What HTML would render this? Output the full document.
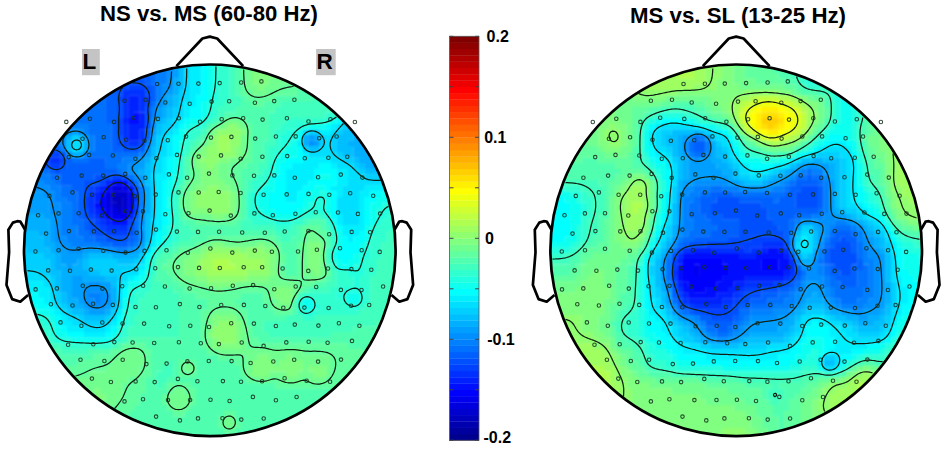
<!DOCTYPE html>
<html><head><meta charset="utf-8"><style>
html,body{margin:0;padding:0;background:#fff;}
svg{display:block;}
text{font-family:"Liberation Sans",sans-serif;font-weight:bold;fill:#000;}
.t{font-size:21.5px;}
.lr{font-size:22.5px;}
.cb{font-size:16px;}
</style></head><body>
<svg width="945" height="449" viewBox="0 0 945 449">
<defs><filter id="bl" x="-5%" y="-5%" width="110%" height="110%"><feGaussianBlur stdDeviation="0.8"/></filter></defs>
<rect width="945" height="449" fill="#fff"/>
<text x="100" y="20.5" class="t" textLength="218" lengthAdjust="spacingAndGlyphs">NS vs. MS (60-80 Hz)</text>
<text x="630" y="23.3" class="t" textLength="216" lengthAdjust="spacingAndGlyphs">MS vs. SL (13-25 Hz)</text>
<rect x="82" y="49" width="17.8" height="26.2" fill="#c4c4c4"/>
<text x="82.5" y="69.4" class="lr">L</text>
<rect x="316.1" y="49" width="19.6" height="26.2" fill="#c4c4c4"/>
<text x="316.5" y="69.4" class="lr">R</text>
<clipPath id="cl"><circle cx="209.8" cy="250.3" r="185.8"/></clipPath>
<g clip-path="url(#cl)"><g filter="url(#bl)"><path fill="#0000bf" d="M111.3 196.8h11.5v5.9h-11.5zM116.9 202.4h5.9v5.9h-5.9z"/>
<path fill="#0000cf" d="M111.3 191.2h17.1v5.9h-17.1zM122.5 196.8h5.9v5.9h-5.9zM111.3 202.4h5.9v5.9h-5.9zM122.5 202.4h5.9v5.9h-5.9zM116.9 208.1h5.9v5.9h-5.9z"/>
<path fill="#0000df" d="M111.3 185.6h11.5v5.9h-11.5zM105.6 191.2h5.9v5.9h-5.9zM105.6 196.8h5.9v5.9h-5.9zM105.6 202.4h5.9v5.9h-5.9zM111.3 208.1h5.9v5.9h-5.9zM122.5 208.1h5.9v5.9h-5.9z"/>
<path fill="#0000ef" d="M122.5 185.6h5.9v5.9h-5.9zM128.2 191.2h5.9v5.9h-5.9zM128.2 196.8h5.9v5.9h-5.9zM128.2 202.4h5.9v5.9h-5.9zM105.6 208.1h5.9v5.9h-5.9zM111.3 213.7h17.1v5.9h-17.1z"/>
<path fill="#0000ff" d="M116.9 179.9h5.9v5.9h-5.9zM105.6 185.6h5.9v5.9h-5.9zM100.0 196.8h5.9v5.9h-5.9zM100.0 202.4h5.9v5.9h-5.9zM128.2 208.1h5.9v5.9h-5.9zM105.6 213.7h5.9v5.9h-5.9z"/>
<path fill="#0010ff" d="M133.8 112.4h5.9v5.9h-5.9zM128.2 118.0h11.5v5.9h-11.5zM111.3 179.9h5.9v5.9h-5.9zM122.5 179.9h5.9v5.9h-5.9zM128.2 185.6h5.9v5.9h-5.9zM100.0 191.2h5.9v5.9h-5.9zM94.4 202.4h5.9v5.9h-5.9zM100.0 208.1h5.9v5.9h-5.9zM111.3 219.3h17.1v5.9h-17.1z"/>
<path fill="#0020ff" d="M128.2 95.5h11.5v5.9h-11.5zM128.2 101.1h11.5v5.9h-11.5zM128.2 106.7h11.5v5.9h-11.5zM128.2 112.4h5.9v5.9h-5.9zM139.4 112.4h5.9v5.9h-5.9zM122.5 118.0h5.9v5.9h-5.9zM139.4 118.0h5.9v5.9h-5.9zM128.2 123.6h17.1v5.9h-17.1zM128.2 129.2h11.5v5.9h-11.5zM128.2 134.9h11.5v5.9h-11.5zM105.6 179.9h5.9v5.9h-5.9zM100.0 185.6h5.9v5.9h-5.9zM94.4 191.2h5.9v5.9h-5.9zM94.4 196.8h5.9v5.9h-5.9zM94.4 208.1h5.9v5.9h-5.9zM100.0 213.7h5.9v5.9h-5.9zM128.2 213.7h5.9v5.9h-5.9zM105.6 219.3h5.9v5.9h-5.9z"/>
<path fill="#0030ff" d="M122.5 89.8h22.8v5.9h-22.8zM122.5 95.5h5.9v5.9h-5.9zM139.4 95.5h5.9v5.9h-5.9zM122.5 101.1h5.9v5.9h-5.9zM139.4 101.1h5.9v5.9h-5.9zM122.5 106.7h5.9v5.9h-5.9zM139.4 106.7h5.9v5.9h-5.9zM122.5 112.4h5.9v5.9h-5.9zM122.5 123.6h5.9v5.9h-5.9zM122.5 129.2h5.9v5.9h-5.9zM139.4 129.2h5.9v5.9h-5.9zM122.5 134.9h5.9v5.9h-5.9zM139.4 134.9h5.9v5.9h-5.9zM128.2 140.5h11.5v5.9h-11.5zM49.3 157.4h11.5v5.9h-11.5zM94.4 185.6h5.9v5.9h-5.9zM88.7 191.2h5.9v5.9h-5.9zM88.7 196.8h5.9v5.9h-5.9zM133.8 196.8h5.9v5.9h-5.9zM88.7 202.4h5.9v5.9h-5.9zM88.7 208.1h5.9v5.9h-5.9zM94.4 213.7h5.9v5.9h-5.9zM100.0 219.3h5.9v5.9h-5.9zM105.6 225.0h22.8v5.9h-22.8z"/>
<path fill="#0040ff" d="M128.2 84.2h17.1v5.9h-17.1zM116.9 95.5h5.9v5.9h-5.9zM145.1 95.5h5.9v5.9h-5.9zM145.1 101.1h5.9v5.9h-5.9zM116.9 118.0h5.9v5.9h-5.9zM116.9 123.6h5.9v5.9h-5.9zM116.9 129.2h5.9v5.9h-5.9zM122.5 140.5h5.9v5.9h-5.9zM139.4 140.5h5.9v5.9h-5.9zM49.3 151.8h11.5v5.9h-11.5zM43.7 157.4h5.9v5.9h-5.9zM60.6 157.4h5.9v5.9h-5.9zM49.3 163.0h11.5v5.9h-11.5zM111.3 174.3h11.5v5.9h-11.5zM100.0 179.9h5.9v5.9h-5.9zM128.2 179.9h5.9v5.9h-5.9zM88.7 185.6h5.9v5.9h-5.9zM133.8 191.2h5.9v5.9h-5.9zM83.1 196.8h5.9v5.9h-5.9zM83.1 202.4h5.9v5.9h-5.9zM133.8 202.4h5.9v5.9h-5.9zM133.8 208.1h5.9v5.9h-5.9zM88.7 213.7h5.9v5.9h-5.9zM94.4 219.3h5.9v5.9h-5.9zM128.2 219.3h5.9v5.9h-5.9zM100.0 225.0h5.9v5.9h-5.9zM105.6 230.6h22.8v5.9h-22.8z"/>
<path fill="#0050ff" d="M105.6 72.9h34.0v5.9h-34.0zM111.3 78.6h34.0v5.9h-34.0zM116.9 84.2h11.5v5.9h-11.5zM145.1 84.2h5.9v5.9h-5.9zM116.9 89.8h5.9v5.9h-5.9zM145.1 89.8h5.9v5.9h-5.9zM116.9 101.1h5.9v5.9h-5.9zM116.9 106.7h5.9v5.9h-5.9zM145.1 106.7h5.9v5.9h-5.9zM116.9 112.4h5.9v5.9h-5.9zM145.1 112.4h5.9v5.9h-5.9zM145.1 118.0h5.9v5.9h-5.9zM145.1 123.6h5.9v5.9h-5.9zM116.9 134.9h5.9v5.9h-5.9zM116.9 140.5h5.9v5.9h-5.9zM49.3 146.1h5.9v5.9h-5.9zM122.5 146.1h17.1v5.9h-17.1zM43.7 151.8h5.9v5.9h-5.9zM60.6 151.8h5.9v5.9h-5.9zM43.7 163.0h5.9v5.9h-5.9zM60.6 163.0h5.9v5.9h-5.9zM55.0 168.7h5.9v5.9h-5.9zM94.4 174.3h17.1v5.9h-17.1zM122.5 174.3h5.9v5.9h-5.9zM83.1 179.9h17.1v5.9h-17.1zM83.1 185.6h5.9v5.9h-5.9zM133.8 185.6h5.9v5.9h-5.9zM83.1 191.2h5.9v5.9h-5.9zM83.1 208.1h5.9v5.9h-5.9zM83.1 213.7h5.9v5.9h-5.9zM88.7 219.3h5.9v5.9h-5.9zM88.7 225.0h11.5v5.9h-11.5zM128.2 225.0h5.9v5.9h-5.9zM94.4 230.6h11.5v5.9h-11.5zM128.2 230.6h5.9v5.9h-5.9zM105.6 236.2h22.8v5.9h-22.8z"/>
<path fill="#0060ff" d="M133.8 67.3h17.1v5.9h-17.1zM139.4 72.9h11.5v5.9h-11.5zM145.1 78.6h5.9v5.9h-5.9zM100.0 84.2h17.1v5.9h-17.1zM150.7 84.2h5.9v5.9h-5.9zM105.6 89.8h11.5v5.9h-11.5zM150.7 89.8h5.9v5.9h-5.9zM105.6 95.5h11.5v5.9h-11.5zM150.7 95.5h5.9v5.9h-5.9zM105.6 101.1h11.5v5.9h-11.5zM105.6 106.7h11.5v5.9h-11.5zM105.6 112.4h11.5v5.9h-11.5zM105.6 118.0h11.5v5.9h-11.5zM111.3 123.6h5.9v5.9h-5.9zM111.3 129.2h5.9v5.9h-5.9zM145.1 129.2h5.9v5.9h-5.9zM111.3 134.9h5.9v5.9h-5.9zM145.1 134.9h5.9v5.9h-5.9zM111.3 140.5h5.9v5.9h-5.9zM43.7 146.1h5.9v5.9h-5.9zM55.0 146.1h5.9v5.9h-5.9zM111.3 146.1h11.5v5.9h-11.5zM139.4 146.1h5.9v5.9h-5.9zM66.2 157.4h5.9v5.9h-5.9zM88.7 157.4h17.1v5.9h-17.1zM66.2 163.0h39.7v5.9h-39.7zM49.3 168.7h5.9v5.9h-5.9zM60.6 168.7h56.6v5.9h-56.6zM60.6 174.3h34.0v5.9h-34.0zM60.6 179.9h22.8v5.9h-22.8zM71.9 185.6h11.5v5.9h-11.5zM77.5 191.2h5.9v5.9h-5.9zM77.5 196.8h5.9v5.9h-5.9zM77.5 202.4h5.9v5.9h-5.9zM77.5 208.1h5.9v5.9h-5.9zM77.5 213.7h5.9v5.9h-5.9zM133.8 213.7h5.9v5.9h-5.9zM83.1 219.3h5.9v5.9h-5.9zM83.1 225.0h5.9v5.9h-5.9zM88.7 230.6h5.9v5.9h-5.9zM94.4 236.2h11.5v5.9h-11.5zM128.2 236.2h5.9v5.9h-5.9zM111.3 241.9h17.1v5.9h-17.1z"/>
<path fill="#0070ff" d="M150.7 67.3h5.9v5.9h-5.9zM150.7 72.9h5.9v5.9h-5.9zM150.7 78.6h5.9v5.9h-5.9zM26.8 89.8h79.1v5.9h-79.1zM21.2 95.5h84.7v5.9h-84.7zM21.2 101.1h84.7v5.9h-84.7zM150.7 101.1h5.9v5.9h-5.9zM21.2 106.7h84.7v5.9h-84.7zM21.2 112.4h84.7v5.9h-84.7zM71.9 118.0h34.0v5.9h-34.0zM88.7 123.6h22.8v5.9h-22.8zM88.7 129.2h22.8v5.9h-22.8zM94.4 134.9h17.1v5.9h-17.1zM21.2 140.5h34.0v5.9h-34.0zM94.4 140.5h17.1v5.9h-17.1zM94.4 146.1h17.1v5.9h-17.1zM88.7 151.8h50.9v5.9h-50.9zM38.1 157.4h5.9v5.9h-5.9zM71.9 157.4h17.1v5.9h-17.1zM105.6 157.4h17.1v5.9h-17.1zM38.1 163.0h5.9v5.9h-5.9zM105.6 163.0h11.5v5.9h-11.5zM43.7 168.7h5.9v5.9h-5.9zM116.9 168.7h5.9v5.9h-5.9zM49.3 174.3h11.5v5.9h-11.5zM128.2 174.3h5.9v5.9h-5.9zM55.0 179.9h5.9v5.9h-5.9zM133.8 179.9h5.9v5.9h-5.9zM60.6 185.6h11.5v5.9h-11.5zM60.6 191.2h17.1v5.9h-17.1zM66.2 196.8h11.5v5.9h-11.5zM71.9 202.4h5.9v5.9h-5.9zM71.9 208.1h5.9v5.9h-5.9zM71.9 213.7h5.9v5.9h-5.9zM71.9 219.3h11.5v5.9h-11.5zM133.8 219.3h5.9v5.9h-5.9zM77.5 225.0h5.9v5.9h-5.9zM133.8 225.0h5.9v5.9h-5.9zM77.5 230.6h11.5v5.9h-11.5zM133.8 230.6h5.9v5.9h-5.9zM83.1 236.2h11.5v5.9h-11.5zM133.8 236.2h5.9v5.9h-5.9zM100.0 241.9h11.5v5.9h-11.5zM128.2 241.9h5.9v5.9h-5.9z"/>
<path fill="#0080ff" d="M156.3 61.7h11.5v5.9h-11.5zM156.3 67.3h11.5v5.9h-11.5zM156.3 72.9h11.5v5.9h-11.5zM156.3 78.6h11.5v5.9h-11.5zM156.3 84.2h5.9v5.9h-5.9zM156.3 89.8h5.9v5.9h-5.9zM156.3 95.5h5.9v5.9h-5.9zM150.7 106.7h5.9v5.9h-5.9zM150.7 112.4h5.9v5.9h-5.9zM60.6 118.0h11.5v5.9h-11.5zM49.3 123.6h39.7v5.9h-39.7zM49.3 129.2h11.5v5.9h-11.5zM83.1 129.2h5.9v5.9h-5.9zM49.3 134.9h11.5v5.9h-11.5zM88.7 134.9h5.9v5.9h-5.9zM55.0 140.5h5.9v5.9h-5.9zM88.7 140.5h5.9v5.9h-5.9zM145.1 140.5h5.9v5.9h-5.9zM60.6 146.1h5.9v5.9h-5.9zM88.7 146.1h5.9v5.9h-5.9zM83.1 151.8h5.9v5.9h-5.9zM139.4 151.8h5.9v5.9h-5.9zM122.5 157.4h11.5v5.9h-11.5zM21.2 163.0h17.1v5.9h-17.1zM116.9 163.0h11.5v5.9h-11.5zM21.2 168.7h22.8v5.9h-22.8zM122.5 168.7h5.9v5.9h-5.9zM38.1 174.3h11.5v5.9h-11.5zM43.7 179.9h11.5v5.9h-11.5zM49.3 185.6h11.5v5.9h-11.5zM139.4 185.6h5.9v5.9h-5.9zM55.0 191.2h5.9v5.9h-5.9zM139.4 191.2h5.9v5.9h-5.9zM55.0 196.8h11.5v5.9h-11.5zM139.4 196.8h5.9v5.9h-5.9zM60.6 202.4h11.5v5.9h-11.5zM139.4 202.4h5.9v5.9h-5.9zM60.6 208.1h11.5v5.9h-11.5zM60.6 213.7h11.5v5.9h-11.5zM60.6 219.3h11.5v5.9h-11.5zM60.6 225.0h17.1v5.9h-17.1zM60.6 230.6h17.1v5.9h-17.1zM66.2 236.2h17.1v5.9h-17.1zM71.9 241.9h28.4v5.9h-28.4zM133.8 241.9h5.9v5.9h-5.9zM116.9 247.5h11.5v5.9h-11.5zM88.7 292.5h11.5v5.9h-11.5zM94.4 298.2h5.9v5.9h-5.9z"/>
<path fill="#008fff" d="M167.6 61.7h5.9v5.9h-5.9zM167.6 67.3h5.9v5.9h-5.9zM167.6 72.9h5.9v5.9h-5.9zM167.6 78.6h5.9v5.9h-5.9zM161.9 84.2h11.5v5.9h-11.5zM161.9 89.8h5.9v5.9h-5.9zM156.3 101.1h5.9v5.9h-5.9zM150.7 118.0h5.9v5.9h-5.9zM150.7 123.6h5.9v5.9h-5.9zM60.6 129.2h11.5v5.9h-11.5zM77.5 129.2h5.9v5.9h-5.9zM60.6 134.9h5.9v5.9h-5.9zM60.6 140.5h5.9v5.9h-5.9zM308.3 140.5h5.9v5.9h-5.9zM145.1 146.1h5.9v5.9h-5.9zM66.2 151.8h5.9v5.9h-5.9zM133.8 157.4h5.9v5.9h-5.9zM128.2 163.0h5.9v5.9h-5.9zM128.2 168.7h5.9v5.9h-5.9zM21.2 174.3h17.1v5.9h-17.1zM133.8 174.3h5.9v5.9h-5.9zM21.2 179.9h22.8v5.9h-22.8zM21.2 185.6h28.4v5.9h-28.4zM43.7 191.2h11.5v5.9h-11.5zM49.3 196.8h5.9v5.9h-5.9zM49.3 202.4h11.5v5.9h-11.5zM49.3 208.1h11.5v5.9h-11.5zM139.4 208.1h5.9v5.9h-5.9zM55.0 213.7h5.9v5.9h-5.9zM139.4 213.7h5.9v5.9h-5.9zM55.0 219.3h5.9v5.9h-5.9zM139.4 219.3h5.9v5.9h-5.9zM55.0 225.0h5.9v5.9h-5.9zM55.0 230.6h5.9v5.9h-5.9zM139.4 230.6h5.9v5.9h-5.9zM55.0 236.2h11.5v5.9h-11.5zM139.4 236.2h5.9v5.9h-5.9zM60.6 241.9h11.5v5.9h-11.5zM66.2 247.5h17.1v5.9h-17.1zM105.6 247.5h11.5v5.9h-11.5zM128.2 247.5h5.9v5.9h-5.9zM88.7 281.3h11.5v5.9h-11.5zM83.1 286.9h22.8v5.9h-22.8zM83.1 292.5h5.9v5.9h-5.9zM100.0 292.5h11.5v5.9h-11.5zM83.1 298.2h11.5v5.9h-11.5zM100.0 298.2h11.5v5.9h-11.5zM88.7 303.8h17.1v5.9h-17.1z"/>
<path fill="#009fff" d="M173.2 61.7h5.9v5.9h-5.9zM173.2 67.3h5.9v5.9h-5.9zM173.2 72.9h5.9v5.9h-5.9zM167.6 89.8h5.9v5.9h-5.9zM161.9 95.5h5.9v5.9h-5.9zM161.9 101.1h5.9v5.9h-5.9zM156.3 106.7h5.9v5.9h-5.9zM156.3 112.4h5.9v5.9h-5.9zM71.9 129.2h5.9v5.9h-5.9zM150.7 129.2h5.9v5.9h-5.9zM83.1 134.9h5.9v5.9h-5.9zM308.3 134.9h5.9v5.9h-5.9zM314.0 140.5h5.9v5.9h-5.9zM370.3 146.1h17.1v5.9h-17.1zM145.1 151.8h5.9v5.9h-5.9zM139.4 157.4h5.9v5.9h-5.9zM133.8 163.0h11.5v5.9h-11.5zM133.8 168.7h5.9v5.9h-5.9zM139.4 174.3h5.9v5.9h-5.9zM139.4 179.9h5.9v5.9h-5.9zM21.2 191.2h22.8v5.9h-22.8zM21.2 196.8h28.4v5.9h-28.4zM21.2 202.4h28.4v5.9h-28.4zM21.2 208.1h28.4v5.9h-28.4zM43.7 213.7h11.5v5.9h-11.5zM49.3 219.3h5.9v5.9h-5.9zM49.3 225.0h5.9v5.9h-5.9zM139.4 225.0h5.9v5.9h-5.9zM49.3 230.6h5.9v5.9h-5.9zM49.3 236.2h5.9v5.9h-5.9zM55.0 241.9h5.9v5.9h-5.9zM139.4 241.9h5.9v5.9h-5.9zM55.0 247.5h11.5v5.9h-11.5zM83.1 247.5h22.8v5.9h-22.8zM133.8 247.5h5.9v5.9h-5.9zM60.6 253.1h22.8v5.9h-22.8zM60.6 258.7h17.1v5.9h-17.1zM66.2 264.4h5.9v5.9h-5.9zM71.9 275.6h11.5v5.9h-11.5zM71.9 281.3h17.1v5.9h-17.1zM100.0 281.3h11.5v5.9h-11.5zM71.9 286.9h11.5v5.9h-11.5zM105.6 286.9h5.9v5.9h-5.9zM71.9 292.5h11.5v5.9h-11.5zM77.5 298.2h5.9v5.9h-5.9zM83.1 303.8h5.9v5.9h-5.9zM105.6 303.8h5.9v5.9h-5.9zM88.7 309.4h17.1v5.9h-17.1z"/>
<path fill="#00afff" d="M173.2 78.6h5.9v5.9h-5.9zM173.2 84.2h5.9v5.9h-5.9zM173.2 89.8h5.9v5.9h-5.9zM167.6 95.5h5.9v5.9h-5.9zM167.6 101.1h5.9v5.9h-5.9zM161.9 106.7h5.9v5.9h-5.9zM161.9 112.4h5.9v5.9h-5.9zM156.3 118.0h5.9v5.9h-5.9zM353.4 129.2h17.1v5.9h-17.1zM66.2 134.9h5.9v5.9h-5.9zM150.7 134.9h5.9v5.9h-5.9zM302.7 134.9h5.9v5.9h-5.9zM314.0 134.9h5.9v5.9h-5.9zM353.4 134.9h17.1v5.9h-17.1zM83.1 140.5h5.9v5.9h-5.9zM150.7 140.5h5.9v5.9h-5.9zM302.7 140.5h5.9v5.9h-5.9zM347.7 140.5h22.8v5.9h-22.8zM83.1 146.1h5.9v5.9h-5.9zM353.4 146.1h17.1v5.9h-17.1zM71.9 151.8h11.5v5.9h-11.5zM353.4 151.8h45.3v5.9h-45.3zM145.1 157.4h5.9v5.9h-5.9zM359.0 157.4h28.4v5.9h-28.4zM364.6 163.0h11.5v5.9h-11.5zM139.4 168.7h5.9v5.9h-5.9zM145.1 185.6h5.9v5.9h-5.9zM145.1 191.2h5.9v5.9h-5.9zM145.1 196.8h5.9v5.9h-5.9zM145.1 202.4h5.9v5.9h-5.9zM145.1 208.1h5.9v5.9h-5.9zM21.2 213.7h22.8v5.9h-22.8zM21.2 219.3h28.4v5.9h-28.4zM21.2 225.0h28.4v5.9h-28.4zM38.1 230.6h11.5v5.9h-11.5zM43.7 236.2h5.9v5.9h-5.9zM43.7 241.9h11.5v5.9h-11.5zM49.3 247.5h5.9v5.9h-5.9zM139.4 247.5h5.9v5.9h-5.9zM55.0 253.1h5.9v5.9h-5.9zM83.1 253.1h5.9v5.9h-5.9zM111.3 253.1h28.4v5.9h-28.4zM55.0 258.7h5.9v5.9h-5.9zM77.5 258.7h5.9v5.9h-5.9zM55.0 264.4h11.5v5.9h-11.5zM71.9 264.4h11.5v5.9h-11.5zM60.6 270.0h28.4v5.9h-28.4zM60.6 275.6h11.5v5.9h-11.5zM83.1 275.6h22.8v5.9h-22.8zM60.6 281.3h11.5v5.9h-11.5zM60.6 286.9h11.5v5.9h-11.5zM111.3 286.9h5.9v5.9h-5.9zM66.2 292.5h5.9v5.9h-5.9zM111.3 292.5h5.9v5.9h-5.9zM66.2 298.2h11.5v5.9h-11.5zM111.3 298.2h5.9v5.9h-5.9zM71.9 303.8h11.5v5.9h-11.5zM83.1 309.4h5.9v5.9h-5.9zM105.6 309.4h5.9v5.9h-5.9z"/>
<path fill="#00bfff" d="M178.8 61.7h5.9v5.9h-5.9zM178.8 67.3h5.9v5.9h-5.9zM178.8 72.9h5.9v5.9h-5.9zM178.8 78.6h5.9v5.9h-5.9zM178.8 84.2h5.9v5.9h-5.9zM173.2 95.5h5.9v5.9h-5.9zM173.2 101.1h5.9v5.9h-5.9zM167.6 106.7h5.9v5.9h-5.9zM167.6 112.4h5.9v5.9h-5.9zM161.9 118.0h5.9v5.9h-5.9zM156.3 123.6h5.9v5.9h-5.9zM347.7 123.6h11.5v5.9h-11.5zM156.3 129.2h5.9v5.9h-5.9zM342.1 129.2h11.5v5.9h-11.5zM77.5 134.9h5.9v5.9h-5.9zM336.5 134.9h17.1v5.9h-17.1zM66.2 140.5h5.9v5.9h-5.9zM336.5 140.5h11.5v5.9h-11.5zM66.2 146.1h5.9v5.9h-5.9zM150.7 146.1h5.9v5.9h-5.9zM308.3 146.1h11.5v5.9h-11.5zM336.5 146.1h17.1v5.9h-17.1zM150.7 151.8h5.9v5.9h-5.9zM342.1 151.8h11.5v5.9h-11.5zM353.4 157.4h5.9v5.9h-5.9zM145.1 163.0h5.9v5.9h-5.9zM359.0 163.0h5.9v5.9h-5.9zM375.9 163.0h22.8v5.9h-22.8zM145.1 168.7h5.9v5.9h-5.9zM364.6 168.7h22.8v5.9h-22.8zM145.1 174.3h5.9v5.9h-5.9zM145.1 179.9h5.9v5.9h-5.9zM145.1 213.7h5.9v5.9h-5.9zM145.1 219.3h5.9v5.9h-5.9zM145.1 225.0h5.9v5.9h-5.9zM21.2 230.6h17.1v5.9h-17.1zM145.1 230.6h5.9v5.9h-5.9zM21.2 236.2h22.8v5.9h-22.8zM145.1 236.2h5.9v5.9h-5.9zM21.2 241.9h22.8v5.9h-22.8zM26.8 247.5h22.8v5.9h-22.8zM43.7 253.1h11.5v5.9h-11.5zM88.7 253.1h22.8v5.9h-22.8zM49.3 258.7h5.9v5.9h-5.9zM83.1 258.7h5.9v5.9h-5.9zM116.9 258.7h17.1v5.9h-17.1zM49.3 264.4h5.9v5.9h-5.9zM83.1 264.4h5.9v5.9h-5.9zM49.3 270.0h11.5v5.9h-11.5zM88.7 270.0h11.5v5.9h-11.5zM55.0 275.6h5.9v5.9h-5.9zM105.6 275.6h11.5v5.9h-11.5zM55.0 281.3h5.9v5.9h-5.9zM111.3 281.3h5.9v5.9h-5.9zM55.0 286.9h5.9v5.9h-5.9zM60.6 292.5h5.9v5.9h-5.9zM60.6 298.2h5.9v5.9h-5.9zM66.2 303.8h5.9v5.9h-5.9zM111.3 303.8h5.9v5.9h-5.9zM71.9 309.4h11.5v5.9h-11.5zM83.1 315.0h22.8v5.9h-22.8z"/>
<path fill="#00cfff" d="M178.8 89.8h5.9v5.9h-5.9zM178.8 95.5h5.9v5.9h-5.9zM173.2 106.7h5.9v5.9h-5.9zM173.2 112.4h5.9v5.9h-5.9zM167.6 118.0h5.9v5.9h-5.9zM347.7 118.0h5.9v5.9h-5.9zM161.9 123.6h11.5v5.9h-11.5zM342.1 123.6h5.9v5.9h-5.9zM161.9 129.2h5.9v5.9h-5.9zM308.3 129.2h11.5v5.9h-11.5zM336.5 129.2h5.9v5.9h-5.9zM71.9 134.9h5.9v5.9h-5.9zM156.3 134.9h5.9v5.9h-5.9zM319.6 134.9h5.9v5.9h-5.9zM330.9 134.9h5.9v5.9h-5.9zM156.3 140.5h5.9v5.9h-5.9zM319.6 140.5h5.9v5.9h-5.9zM330.9 140.5h5.9v5.9h-5.9zM77.5 146.1h5.9v5.9h-5.9zM156.3 146.1h5.9v5.9h-5.9zM302.7 146.1h5.9v5.9h-5.9zM330.9 146.1h5.9v5.9h-5.9zM336.5 151.8h5.9v5.9h-5.9zM150.7 157.4h5.9v5.9h-5.9zM342.1 157.4h11.5v5.9h-11.5zM150.7 163.0h5.9v5.9h-5.9zM353.4 163.0h5.9v5.9h-5.9zM150.7 168.7h5.9v5.9h-5.9zM359.0 168.7h5.9v5.9h-5.9zM364.6 174.3h34.0v5.9h-34.0zM150.7 179.9h5.9v5.9h-5.9zM150.7 185.6h5.9v5.9h-5.9zM150.7 191.2h5.9v5.9h-5.9zM150.7 196.8h5.9v5.9h-5.9zM150.7 202.4h5.9v5.9h-5.9zM150.7 208.1h5.9v5.9h-5.9zM150.7 213.7h5.9v5.9h-5.9zM145.1 241.9h5.9v5.9h-5.9zM21.2 247.5h5.9v5.9h-5.9zM21.2 253.1h22.8v5.9h-22.8zM139.4 253.1h5.9v5.9h-5.9zM21.2 258.7h28.4v5.9h-28.4zM88.7 258.7h28.4v5.9h-28.4zM133.8 258.7h5.9v5.9h-5.9zM21.2 264.4h28.4v5.9h-28.4zM88.7 264.4h45.3v5.9h-45.3zM38.1 270.0h11.5v5.9h-11.5zM100.0 270.0h22.8v5.9h-22.8zM49.3 275.6h5.9v5.9h-5.9zM116.9 275.6h5.9v5.9h-5.9zM49.3 281.3h5.9v5.9h-5.9zM55.0 292.5h5.9v5.9h-5.9zM55.0 298.2h5.9v5.9h-5.9zM60.6 303.8h5.9v5.9h-5.9zM66.2 309.4h5.9v5.9h-5.9zM111.3 309.4h5.9v5.9h-5.9zM77.5 315.0h5.9v5.9h-5.9zM105.6 315.0h5.9v5.9h-5.9zM83.1 320.7h22.8v5.9h-22.8z"/>
<path fill="#00dfff" d="M184.5 61.7h5.9v5.9h-5.9zM184.5 67.3h5.9v5.9h-5.9zM184.5 72.9h5.9v5.9h-5.9zM184.5 78.6h5.9v5.9h-5.9zM184.5 84.2h5.9v5.9h-5.9zM184.5 89.8h5.9v5.9h-5.9zM184.5 95.5h5.9v5.9h-5.9zM178.8 101.1h5.9v5.9h-5.9zM178.8 106.7h5.9v5.9h-5.9zM178.8 112.4h5.9v5.9h-5.9zM173.2 118.0h5.9v5.9h-5.9zM342.1 118.0h5.9v5.9h-5.9zM173.2 123.6h5.9v5.9h-5.9zM336.5 123.6h5.9v5.9h-5.9zM167.6 129.2h5.9v5.9h-5.9zM302.7 129.2h5.9v5.9h-5.9zM330.9 129.2h5.9v5.9h-5.9zM161.9 134.9h5.9v5.9h-5.9zM325.2 134.9h5.9v5.9h-5.9zM71.9 140.5h11.5v5.9h-11.5zM161.9 140.5h5.9v5.9h-5.9zM325.2 140.5h5.9v5.9h-5.9zM71.9 146.1h5.9v5.9h-5.9zM161.9 146.1h5.9v5.9h-5.9zM319.6 146.1h11.5v5.9h-11.5zM156.3 151.8h11.5v5.9h-11.5zM308.3 151.8h28.4v5.9h-28.4zM156.3 157.4h5.9v5.9h-5.9zM330.9 157.4h11.5v5.9h-11.5zM156.3 163.0h5.9v5.9h-5.9zM336.5 163.0h17.1v5.9h-17.1zM156.3 168.7h5.9v5.9h-5.9zM347.7 168.7h11.5v5.9h-11.5zM150.7 174.3h5.9v5.9h-5.9zM347.7 174.3h17.1v5.9h-17.1zM347.7 179.9h50.9v5.9h-50.9zM342.1 185.6h22.8v5.9h-22.8zM342.1 191.2h17.1v5.9h-17.1zM336.5 196.8h22.8v5.9h-22.8zM336.5 202.4h22.8v5.9h-22.8zM336.5 208.1h22.8v5.9h-22.8zM342.1 213.7h17.1v5.9h-17.1zM150.7 219.3h5.9v5.9h-5.9zM342.1 219.3h17.1v5.9h-17.1zM150.7 225.0h5.9v5.9h-5.9zM150.7 230.6h5.9v5.9h-5.9zM145.1 247.5h5.9v5.9h-5.9zM139.4 258.7h5.9v5.9h-5.9zM133.8 264.4h5.9v5.9h-5.9zM21.2 270.0h17.1v5.9h-17.1zM122.5 270.0h17.1v5.9h-17.1zM21.2 275.6h28.4v5.9h-28.4zM122.5 275.6h5.9v5.9h-5.9zM43.7 281.3h5.9v5.9h-5.9zM116.9 281.3h5.9v5.9h-5.9zM49.3 286.9h5.9v5.9h-5.9zM116.9 286.9h5.9v5.9h-5.9zM49.3 292.5h5.9v5.9h-5.9zM116.9 292.5h5.9v5.9h-5.9zM49.3 298.2h5.9v5.9h-5.9zM116.9 298.2h5.9v5.9h-5.9zM55.0 303.8h5.9v5.9h-5.9zM116.9 303.8h5.9v5.9h-5.9zM60.6 309.4h5.9v5.9h-5.9zM66.2 315.0h11.5v5.9h-11.5zM111.3 315.0h5.9v5.9h-5.9zM71.9 320.7h11.5v5.9h-11.5zM105.6 320.7h5.9v5.9h-5.9zM83.1 326.3h22.8v5.9h-22.8z"/>
<path fill="#00efff" d="M190.1 61.7h11.5v5.9h-11.5zM190.1 67.3h11.5v5.9h-11.5zM190.1 72.9h11.5v5.9h-11.5zM190.1 78.6h11.5v5.9h-11.5zM190.1 84.2h11.5v5.9h-11.5zM190.1 89.8h11.5v5.9h-11.5zM190.1 95.5h5.9v5.9h-5.9zM184.5 101.1h11.5v5.9h-11.5zM184.5 106.7h5.9v5.9h-5.9zM184.5 112.4h5.9v5.9h-5.9zM178.8 118.0h5.9v5.9h-5.9zM330.9 123.6h5.9v5.9h-5.9zM173.2 129.2h5.9v5.9h-5.9zM319.6 129.2h11.5v5.9h-11.5zM167.6 134.9h5.9v5.9h-5.9zM167.6 140.5h5.9v5.9h-5.9zM297.1 140.5h5.9v5.9h-5.9zM167.6 146.1h5.9v5.9h-5.9zM167.6 151.8h5.9v5.9h-5.9zM302.7 151.8h5.9v5.9h-5.9zM161.9 157.4h5.9v5.9h-5.9zM302.7 157.4h28.4v5.9h-28.4zM161.9 163.0h5.9v5.9h-5.9zM291.4 163.0h28.4v5.9h-28.4zM330.9 163.0h5.9v5.9h-5.9zM161.9 168.7h5.9v5.9h-5.9zM285.8 168.7h28.4v5.9h-28.4zM336.5 168.7h11.5v5.9h-11.5zM156.3 174.3h11.5v5.9h-11.5zM285.8 174.3h28.4v5.9h-28.4zM336.5 174.3h11.5v5.9h-11.5zM156.3 179.9h5.9v5.9h-5.9zM285.8 179.9h22.8v5.9h-22.8zM336.5 179.9h11.5v5.9h-11.5zM156.3 185.6h5.9v5.9h-5.9zM285.8 185.6h17.1v5.9h-17.1zM330.9 185.6h11.5v5.9h-11.5zM364.6 185.6h34.0v5.9h-34.0zM156.3 191.2h5.9v5.9h-5.9zM285.8 191.2h11.5v5.9h-11.5zM336.5 191.2h5.9v5.9h-5.9zM359.0 191.2h11.5v5.9h-11.5zM156.3 196.8h5.9v5.9h-5.9zM285.8 196.8h11.5v5.9h-11.5zM359.0 196.8h5.9v5.9h-5.9zM156.3 202.4h5.9v5.9h-5.9zM359.0 202.4h5.9v5.9h-5.9zM156.3 208.1h5.9v5.9h-5.9zM359.0 208.1h5.9v5.9h-5.9zM156.3 213.7h5.9v5.9h-5.9zM336.5 213.7h5.9v5.9h-5.9zM359.0 213.7h5.9v5.9h-5.9zM156.3 219.3h5.9v5.9h-5.9zM336.5 219.3h5.9v5.9h-5.9zM359.0 219.3h5.9v5.9h-5.9zM156.3 225.0h5.9v5.9h-5.9zM342.1 225.0h22.8v5.9h-22.8zM342.1 230.6h17.1v5.9h-17.1zM150.7 236.2h5.9v5.9h-5.9zM347.7 236.2h5.9v5.9h-5.9zM150.7 241.9h5.9v5.9h-5.9zM139.4 264.4h5.9v5.9h-5.9zM128.2 275.6h5.9v5.9h-5.9zM21.2 281.3h22.8v5.9h-22.8zM122.5 281.3h5.9v5.9h-5.9zM21.2 286.9h28.4v5.9h-28.4zM38.1 292.5h11.5v5.9h-11.5zM43.7 298.2h5.9v5.9h-5.9zM49.3 303.8h5.9v5.9h-5.9zM55.0 309.4h5.9v5.9h-5.9zM116.9 309.4h5.9v5.9h-5.9zM60.6 315.0h5.9v5.9h-5.9zM60.6 320.7h11.5v5.9h-11.5zM111.3 320.7h5.9v5.9h-5.9zM66.2 326.3h17.1v5.9h-17.1zM105.6 326.3h5.9v5.9h-5.9zM83.1 331.9h22.8v5.9h-22.8z"/>
<path fill="#00ffff" d="M201.4 61.7h5.9v5.9h-5.9zM201.4 67.3h5.9v5.9h-5.9zM201.4 72.9h5.9v5.9h-5.9zM201.4 78.6h5.9v5.9h-5.9zM201.4 84.2h5.9v5.9h-5.9zM201.4 89.8h5.9v5.9h-5.9zM195.7 95.5h11.5v5.9h-11.5zM195.7 101.1h5.9v5.9h-5.9zM190.1 106.7h11.5v5.9h-11.5zM190.1 112.4h11.5v5.9h-11.5zM342.1 112.4h5.9v5.9h-5.9zM184.5 118.0h5.9v5.9h-5.9zM336.5 118.0h5.9v5.9h-5.9zM178.8 123.6h5.9v5.9h-5.9zM325.2 123.6h5.9v5.9h-5.9zM173.2 134.9h5.9v5.9h-5.9zM297.1 134.9h5.9v5.9h-5.9zM173.2 140.5h5.9v5.9h-5.9zM173.2 146.1h5.9v5.9h-5.9zM297.1 146.1h5.9v5.9h-5.9zM173.2 151.8h5.9v5.9h-5.9zM297.1 151.8h5.9v5.9h-5.9zM167.6 157.4h5.9v5.9h-5.9zM285.8 157.4h17.1v5.9h-17.1zM167.6 163.0h5.9v5.9h-5.9zM280.2 163.0h11.5v5.9h-11.5zM319.6 163.0h11.5v5.9h-11.5zM167.6 168.7h5.9v5.9h-5.9zM280.2 168.7h5.9v5.9h-5.9zM314.0 168.7h22.8v5.9h-22.8zM167.6 174.3h5.9v5.9h-5.9zM274.5 174.3h11.5v5.9h-11.5zM314.0 174.3h5.9v5.9h-5.9zM330.9 174.3h5.9v5.9h-5.9zM161.9 179.9h5.9v5.9h-5.9zM274.5 179.9h11.5v5.9h-11.5zM308.3 179.9h28.4v5.9h-28.4zM161.9 185.6h5.9v5.9h-5.9zM274.5 185.6h11.5v5.9h-11.5zM302.7 185.6h11.5v5.9h-11.5zM325.2 185.6h5.9v5.9h-5.9zM161.9 191.2h5.9v5.9h-5.9zM268.9 191.2h17.1v5.9h-17.1zM297.1 191.2h11.5v5.9h-11.5zM330.9 191.2h5.9v5.9h-5.9zM370.3 191.2h11.5v5.9h-11.5zM161.9 196.8h5.9v5.9h-5.9zM268.9 196.8h17.1v5.9h-17.1zM297.1 196.8h5.9v5.9h-5.9zM330.9 196.8h5.9v5.9h-5.9zM364.6 196.8h11.5v5.9h-11.5zM161.9 202.4h5.9v5.9h-5.9zM268.9 202.4h34.0v5.9h-34.0zM330.9 202.4h5.9v5.9h-5.9zM364.6 202.4h5.9v5.9h-5.9zM161.9 208.1h5.9v5.9h-5.9zM274.5 208.1h22.8v5.9h-22.8zM330.9 208.1h5.9v5.9h-5.9zM364.6 208.1h5.9v5.9h-5.9zM161.9 213.7h5.9v5.9h-5.9zM330.9 213.7h5.9v5.9h-5.9zM364.6 213.7h5.9v5.9h-5.9zM161.9 219.3h5.9v5.9h-5.9zM364.6 219.3h5.9v5.9h-5.9zM336.5 225.0h5.9v5.9h-5.9zM156.3 230.6h5.9v5.9h-5.9zM359.0 230.6h5.9v5.9h-5.9zM156.3 236.2h5.9v5.9h-5.9zM342.1 236.2h5.9v5.9h-5.9zM353.4 236.2h11.5v5.9h-11.5zM342.1 241.9h17.1v5.9h-17.1zM336.5 247.5h22.8v5.9h-22.8zM145.1 253.1h5.9v5.9h-5.9zM336.5 253.1h17.1v5.9h-17.1zM342.1 258.7h5.9v5.9h-5.9zM139.4 270.0h5.9v5.9h-5.9zM133.8 275.6h5.9v5.9h-5.9zM122.5 286.9h5.9v5.9h-5.9zM21.2 292.5h17.1v5.9h-17.1zM122.5 292.5h5.9v5.9h-5.9zM21.2 298.2h22.8v5.9h-22.8zM38.1 303.8h11.5v5.9h-11.5zM49.3 309.4h5.9v5.9h-5.9zM55.0 315.0h5.9v5.9h-5.9zM116.9 315.0h5.9v5.9h-5.9zM55.0 320.7h5.9v5.9h-5.9zM60.6 326.3h5.9v5.9h-5.9zM111.3 326.3h5.9v5.9h-5.9zM66.2 331.9h17.1v5.9h-17.1zM105.6 331.9h5.9v5.9h-5.9z"/>
<path fill="#10ffef" d="M207.0 61.7h5.9v5.9h-5.9zM207.0 67.3h5.9v5.9h-5.9zM207.0 72.9h5.9v5.9h-5.9zM207.0 78.6h5.9v5.9h-5.9zM207.0 84.2h5.9v5.9h-5.9zM207.0 89.8h5.9v5.9h-5.9zM207.0 95.5h5.9v5.9h-5.9zM201.4 101.1h5.9v5.9h-5.9zM201.4 106.7h5.9v5.9h-5.9zM201.4 112.4h5.9v5.9h-5.9zM190.1 118.0h11.5v5.9h-11.5zM330.9 118.0h5.9v5.9h-5.9zM184.5 123.6h5.9v5.9h-5.9zM308.3 123.6h17.1v5.9h-17.1zM178.8 129.2h5.9v5.9h-5.9zM297.1 129.2h5.9v5.9h-5.9zM178.8 134.9h5.9v5.9h-5.9zM291.4 140.5h5.9v5.9h-5.9zM285.8 146.1h11.5v5.9h-11.5zM280.2 151.8h17.1v5.9h-17.1zM173.2 157.4h5.9v5.9h-5.9zM274.5 157.4h11.5v5.9h-11.5zM173.2 163.0h5.9v5.9h-5.9zM274.5 163.0h5.9v5.9h-5.9zM173.2 168.7h5.9v5.9h-5.9zM274.5 168.7h5.9v5.9h-5.9zM268.9 174.3h5.9v5.9h-5.9zM319.6 174.3h11.5v5.9h-11.5zM167.6 179.9h5.9v5.9h-5.9zM268.9 179.9h5.9v5.9h-5.9zM167.6 185.6h5.9v5.9h-5.9zM263.3 185.6h11.5v5.9h-11.5zM314.0 185.6h11.5v5.9h-11.5zM167.6 191.2h5.9v5.9h-5.9zM257.7 191.2h11.5v5.9h-11.5zM308.3 191.2h11.5v5.9h-11.5zM325.2 191.2h5.9v5.9h-5.9zM381.5 191.2h17.1v5.9h-17.1zM257.7 196.8h11.5v5.9h-11.5zM302.7 196.8h11.5v5.9h-11.5zM325.2 196.8h5.9v5.9h-5.9zM375.9 196.8h17.1v5.9h-17.1zM257.7 202.4h11.5v5.9h-11.5zM302.7 202.4h5.9v5.9h-5.9zM325.2 202.4h5.9v5.9h-5.9zM370.3 202.4h11.5v5.9h-11.5zM167.6 208.1h5.9v5.9h-5.9zM263.3 208.1h11.5v5.9h-11.5zM297.1 208.1h5.9v5.9h-5.9zM325.2 208.1h5.9v5.9h-5.9zM370.3 208.1h5.9v5.9h-5.9zM167.6 213.7h5.9v5.9h-5.9zM268.9 213.7h28.4v5.9h-28.4zM370.3 213.7h5.9v5.9h-5.9zM167.6 219.3h5.9v5.9h-5.9zM330.9 219.3h5.9v5.9h-5.9zM370.3 219.3h5.9v5.9h-5.9zM161.9 225.0h5.9v5.9h-5.9zM364.6 225.0h5.9v5.9h-5.9zM161.9 230.6h5.9v5.9h-5.9zM336.5 230.6h5.9v5.9h-5.9zM364.6 230.6h5.9v5.9h-5.9zM336.5 236.2h5.9v5.9h-5.9zM364.6 236.2h5.9v5.9h-5.9zM156.3 241.9h5.9v5.9h-5.9zM336.5 241.9h5.9v5.9h-5.9zM359.0 241.9h5.9v5.9h-5.9zM150.7 247.5h5.9v5.9h-5.9zM359.0 247.5h5.9v5.9h-5.9zM330.9 253.1h5.9v5.9h-5.9zM353.4 253.1h5.9v5.9h-5.9zM145.1 258.7h5.9v5.9h-5.9zM336.5 258.7h5.9v5.9h-5.9zM347.7 258.7h11.5v5.9h-11.5zM145.1 264.4h5.9v5.9h-5.9zM336.5 264.4h17.1v5.9h-17.1zM139.4 275.6h5.9v5.9h-5.9zM128.2 281.3h11.5v5.9h-11.5zM347.7 292.5h11.5v5.9h-11.5zM122.5 298.2h5.9v5.9h-5.9zM302.7 298.2h11.5v5.9h-11.5zM347.7 298.2h11.5v5.9h-11.5zM21.2 303.8h17.1v5.9h-17.1zM122.5 303.8h5.9v5.9h-5.9zM302.7 303.8h11.5v5.9h-11.5zM38.1 309.4h11.5v5.9h-11.5zM49.3 315.0h5.9v5.9h-5.9zM116.9 320.7h5.9v5.9h-5.9zM55.0 326.3h5.9v5.9h-5.9zM55.0 331.9h11.5v5.9h-11.5zM111.3 331.9h5.9v5.9h-5.9zM71.9 337.6h39.7v5.9h-39.7z"/>
<path fill="#20ffdf" d="M212.6 61.7h5.9v5.9h-5.9zM212.6 67.3h5.9v5.9h-5.9zM212.6 72.9h5.9v5.9h-5.9zM212.6 78.6h5.9v5.9h-5.9zM212.6 84.2h5.9v5.9h-5.9zM212.6 89.8h5.9v5.9h-5.9zM212.6 95.5h5.9v5.9h-5.9zM207.0 101.1h5.9v5.9h-5.9zM207.0 106.7h5.9v5.9h-5.9zM207.0 112.4h5.9v5.9h-5.9zM336.5 112.4h5.9v5.9h-5.9zM201.4 118.0h5.9v5.9h-5.9zM325.2 118.0h5.9v5.9h-5.9zM190.1 123.6h11.5v5.9h-11.5zM297.1 123.6h11.5v5.9h-11.5zM184.5 129.2h5.9v5.9h-5.9zM285.8 129.2h11.5v5.9h-11.5zM184.5 134.9h5.9v5.9h-5.9zM280.2 134.9h17.1v5.9h-17.1zM178.8 140.5h5.9v5.9h-5.9zM280.2 140.5h11.5v5.9h-11.5zM178.8 146.1h5.9v5.9h-5.9zM280.2 146.1h5.9v5.9h-5.9zM178.8 151.8h5.9v5.9h-5.9zM274.5 151.8h5.9v5.9h-5.9zM268.9 163.0h5.9v5.9h-5.9zM268.9 168.7h5.9v5.9h-5.9zM173.2 174.3h5.9v5.9h-5.9zM173.2 179.9h5.9v5.9h-5.9zM263.3 179.9h5.9v5.9h-5.9zM257.7 185.6h5.9v5.9h-5.9zM252.0 191.2h5.9v5.9h-5.9zM319.6 191.2h5.9v5.9h-5.9zM167.6 196.8h5.9v5.9h-5.9zM252.0 196.8h5.9v5.9h-5.9zM314.0 196.8h11.5v5.9h-11.5zM392.8 196.8h5.9v5.9h-5.9zM167.6 202.4h5.9v5.9h-5.9zM252.0 202.4h5.9v5.9h-5.9zM308.3 202.4h17.1v5.9h-17.1zM381.5 202.4h17.1v5.9h-17.1zM252.0 208.1h11.5v5.9h-11.5zM302.7 208.1h22.8v5.9h-22.8zM375.9 208.1h22.8v5.9h-22.8zM257.7 213.7h11.5v5.9h-11.5zM297.1 213.7h5.9v5.9h-5.9zM325.2 213.7h5.9v5.9h-5.9zM375.9 213.7h11.5v5.9h-11.5zM274.5 219.3h17.1v5.9h-17.1zM375.9 219.3h5.9v5.9h-5.9zM167.6 225.0h5.9v5.9h-5.9zM330.9 225.0h5.9v5.9h-5.9zM370.3 225.0h5.9v5.9h-5.9zM167.6 230.6h5.9v5.9h-5.9zM370.3 230.6h5.9v5.9h-5.9zM161.9 236.2h11.5v5.9h-11.5zM161.9 241.9h5.9v5.9h-5.9zM364.6 241.9h5.9v5.9h-5.9zM330.9 247.5h5.9v5.9h-5.9zM364.6 247.5h5.9v5.9h-5.9zM150.7 253.1h5.9v5.9h-5.9zM359.0 253.1h11.5v5.9h-11.5zM330.9 258.7h5.9v5.9h-5.9zM359.0 258.7h5.9v5.9h-5.9zM353.4 264.4h11.5v5.9h-11.5zM145.1 270.0h5.9v5.9h-5.9zM347.7 270.0h17.1v5.9h-17.1zM145.1 275.6h5.9v5.9h-5.9zM353.4 275.6h5.9v5.9h-5.9zM139.4 281.3h5.9v5.9h-5.9zM353.4 281.3h5.9v5.9h-5.9zM128.2 286.9h11.5v5.9h-11.5zM342.1 286.9h22.8v5.9h-22.8zM128.2 292.5h5.9v5.9h-5.9zM336.5 292.5h11.5v5.9h-11.5zM359.0 292.5h5.9v5.9h-5.9zM128.2 298.2h5.9v5.9h-5.9zM297.1 298.2h5.9v5.9h-5.9zM342.1 298.2h5.9v5.9h-5.9zM359.0 298.2h5.9v5.9h-5.9zM297.1 303.8h5.9v5.9h-5.9zM314.0 303.8h5.9v5.9h-5.9zM347.7 303.8h11.5v5.9h-11.5zM21.2 309.4h17.1v5.9h-17.1zM122.5 309.4h5.9v5.9h-5.9zM302.7 309.4h11.5v5.9h-11.5zM38.1 315.0h11.5v5.9h-11.5zM122.5 315.0h5.9v5.9h-5.9zM43.7 320.7h11.5v5.9h-11.5zM122.5 320.7h5.9v5.9h-5.9zM49.3 326.3h5.9v5.9h-5.9zM116.9 326.3h5.9v5.9h-5.9zM49.3 331.9h5.9v5.9h-5.9zM116.9 331.9h5.9v5.9h-5.9zM55.0 337.6h17.1v5.9h-17.1zM111.3 337.6h5.9v5.9h-5.9z"/>
<path fill="#30ffcf" d="M218.2 61.7h11.5v5.9h-11.5zM218.2 67.3h11.5v5.9h-11.5zM218.2 72.9h11.5v5.9h-11.5zM218.2 78.6h11.5v5.9h-11.5zM218.2 84.2h11.5v5.9h-11.5zM218.2 89.8h11.5v5.9h-11.5zM218.2 95.5h11.5v5.9h-11.5zM212.6 101.1h11.5v5.9h-11.5zM212.6 106.7h5.9v5.9h-5.9zM336.5 106.7h5.9v5.9h-5.9zM212.6 112.4h5.9v5.9h-5.9zM325.2 112.4h11.5v5.9h-11.5zM207.0 118.0h5.9v5.9h-5.9zM285.8 118.0h39.7v5.9h-39.7zM201.4 123.6h5.9v5.9h-5.9zM280.2 123.6h17.1v5.9h-17.1zM190.1 129.2h11.5v5.9h-11.5zM274.5 129.2h11.5v5.9h-11.5zM190.1 134.9h5.9v5.9h-5.9zM274.5 134.9h5.9v5.9h-5.9zM184.5 140.5h5.9v5.9h-5.9zM274.5 140.5h5.9v5.9h-5.9zM184.5 146.1h5.9v5.9h-5.9zM268.9 146.1h11.5v5.9h-11.5zM268.9 151.8h5.9v5.9h-5.9zM178.8 157.4h5.9v5.9h-5.9zM268.9 157.4h5.9v5.9h-5.9zM178.8 163.0h5.9v5.9h-5.9zM178.8 168.7h5.9v5.9h-5.9zM263.3 168.7h5.9v5.9h-5.9zM178.8 174.3h5.9v5.9h-5.9zM257.7 174.3h11.5v5.9h-11.5zM252.0 179.9h11.5v5.9h-11.5zM173.2 185.6h5.9v5.9h-5.9zM252.0 185.6h5.9v5.9h-5.9zM173.2 191.2h5.9v5.9h-5.9zM246.4 191.2h5.9v5.9h-5.9zM173.2 196.8h5.9v5.9h-5.9zM246.4 196.8h5.9v5.9h-5.9zM173.2 202.4h5.9v5.9h-5.9zM246.4 202.4h5.9v5.9h-5.9zM173.2 208.1h5.9v5.9h-5.9zM246.4 208.1h5.9v5.9h-5.9zM173.2 213.7h5.9v5.9h-5.9zM246.4 213.7h11.5v5.9h-11.5zM302.7 213.7h11.5v5.9h-11.5zM319.6 213.7h5.9v5.9h-5.9zM387.2 213.7h11.5v5.9h-11.5zM173.2 219.3h5.9v5.9h-5.9zM252.0 219.3h22.8v5.9h-22.8zM291.4 219.3h11.5v5.9h-11.5zM325.2 219.3h5.9v5.9h-5.9zM381.5 219.3h17.1v5.9h-17.1zM173.2 225.0h5.9v5.9h-5.9zM274.5 225.0h17.1v5.9h-17.1zM375.9 225.0h22.8v5.9h-22.8zM173.2 230.6h5.9v5.9h-5.9zM330.9 230.6h5.9v5.9h-5.9zM375.9 230.6h11.5v5.9h-11.5zM173.2 236.2h5.9v5.9h-5.9zM330.9 236.2h5.9v5.9h-5.9zM370.3 236.2h17.1v5.9h-17.1zM167.6 241.9h5.9v5.9h-5.9zM330.9 241.9h5.9v5.9h-5.9zM370.3 241.9h11.5v5.9h-11.5zM156.3 247.5h5.9v5.9h-5.9zM370.3 247.5h11.5v5.9h-11.5zM370.3 253.1h11.5v5.9h-11.5zM150.7 258.7h5.9v5.9h-5.9zM364.6 258.7h11.5v5.9h-11.5zM150.7 264.4h5.9v5.9h-5.9zM330.9 264.4h5.9v5.9h-5.9zM364.6 264.4h11.5v5.9h-11.5zM150.7 270.0h5.9v5.9h-5.9zM336.5 270.0h11.5v5.9h-11.5zM364.6 270.0h11.5v5.9h-11.5zM336.5 275.6h17.1v5.9h-17.1zM359.0 275.6h11.5v5.9h-11.5zM145.1 281.3h5.9v5.9h-5.9zM336.5 281.3h17.1v5.9h-17.1zM359.0 281.3h11.5v5.9h-11.5zM139.4 286.9h11.5v5.9h-11.5zM330.9 286.9h11.5v5.9h-11.5zM364.6 286.9h5.9v5.9h-5.9zM133.8 292.5h11.5v5.9h-11.5zM302.7 292.5h34.0v5.9h-34.0zM364.6 292.5h5.9v5.9h-5.9zM133.8 298.2h5.9v5.9h-5.9zM314.0 298.2h28.4v5.9h-28.4zM364.6 298.2h5.9v5.9h-5.9zM128.2 303.8h11.5v5.9h-11.5zM319.6 303.8h28.4v5.9h-28.4zM359.0 303.8h5.9v5.9h-5.9zM128.2 309.4h11.5v5.9h-11.5zM297.1 309.4h5.9v5.9h-5.9zM314.0 309.4h45.3v5.9h-45.3zM21.2 315.0h17.1v5.9h-17.1zM128.2 315.0h5.9v5.9h-5.9zM302.7 315.0h11.5v5.9h-11.5zM21.2 320.7h22.8v5.9h-22.8zM128.2 320.7h5.9v5.9h-5.9zM38.1 326.3h11.5v5.9h-11.5zM122.5 326.3h5.9v5.9h-5.9zM43.7 331.9h5.9v5.9h-5.9zM122.5 331.9h5.9v5.9h-5.9zM49.3 337.6h5.9v5.9h-5.9zM116.9 337.6h5.9v5.9h-5.9zM60.6 343.2h50.9v5.9h-50.9z"/>
<path fill="#40ffbf" d="M229.5 61.7h5.9v5.9h-5.9zM229.5 67.3h5.9v5.9h-5.9zM229.5 72.9h5.9v5.9h-5.9zM229.5 78.6h5.9v5.9h-5.9zM229.5 84.2h5.9v5.9h-5.9zM229.5 89.8h5.9v5.9h-5.9zM229.5 95.5h11.5v5.9h-11.5zM314.0 95.5h34.0v5.9h-34.0zM223.9 101.1h17.1v5.9h-17.1zM280.2 101.1h62.2v5.9h-62.2zM218.2 106.7h17.1v5.9h-17.1zM274.5 106.7h62.2v5.9h-62.2zM218.2 112.4h5.9v5.9h-5.9zM268.9 112.4h56.6v5.9h-56.6zM212.6 118.0h5.9v5.9h-5.9zM268.9 118.0h17.1v5.9h-17.1zM268.9 123.6h11.5v5.9h-11.5zM201.4 129.2h5.9v5.9h-5.9zM268.9 129.2h5.9v5.9h-5.9zM195.7 134.9h5.9v5.9h-5.9zM268.9 134.9h5.9v5.9h-5.9zM190.1 140.5h5.9v5.9h-5.9zM263.3 140.5h11.5v5.9h-11.5zM263.3 146.1h5.9v5.9h-5.9zM184.5 151.8h5.9v5.9h-5.9zM263.3 151.8h5.9v5.9h-5.9zM263.3 157.4h5.9v5.9h-5.9zM257.7 163.0h11.5v5.9h-11.5zM257.7 168.7h5.9v5.9h-5.9zM252.0 174.3h5.9v5.9h-5.9zM178.8 179.9h5.9v5.9h-5.9zM246.4 179.9h5.9v5.9h-5.9zM246.4 185.6h5.9v5.9h-5.9zM314.0 213.7h5.9v5.9h-5.9zM178.8 219.3h5.9v5.9h-5.9zM240.8 219.3h11.5v5.9h-11.5zM302.7 219.3h5.9v5.9h-5.9zM178.8 225.0h11.5v5.9h-11.5zM240.8 225.0h34.0v5.9h-34.0zM291.4 225.0h5.9v5.9h-5.9zM325.2 225.0h5.9v5.9h-5.9zM178.8 230.6h17.1v5.9h-17.1zM274.5 230.6h22.8v5.9h-22.8zM387.2 230.6h11.5v5.9h-11.5zM178.8 236.2h11.5v5.9h-11.5zM280.2 236.2h11.5v5.9h-11.5zM387.2 236.2h11.5v5.9h-11.5zM173.2 241.9h5.9v5.9h-5.9zM381.5 241.9h17.1v5.9h-17.1zM161.9 247.5h11.5v5.9h-11.5zM325.2 247.5h5.9v5.9h-5.9zM381.5 247.5h17.1v5.9h-17.1zM156.3 253.1h5.9v5.9h-5.9zM325.2 253.1h5.9v5.9h-5.9zM381.5 253.1h17.1v5.9h-17.1zM325.2 258.7h5.9v5.9h-5.9zM375.9 258.7h22.8v5.9h-22.8zM375.9 264.4h22.8v5.9h-22.8zM330.9 270.0h5.9v5.9h-5.9zM375.9 270.0h22.8v5.9h-22.8zM150.7 275.6h5.9v5.9h-5.9zM330.9 275.6h5.9v5.9h-5.9zM370.3 275.6h28.4v5.9h-28.4zM150.7 281.3h11.5v5.9h-11.5zM325.2 281.3h11.5v5.9h-11.5zM370.3 281.3h28.4v5.9h-28.4zM150.7 286.9h22.8v5.9h-22.8zM308.3 286.9h22.8v5.9h-22.8zM370.3 286.9h28.4v5.9h-28.4zM145.1 292.5h34.0v5.9h-34.0zM297.1 292.5h5.9v5.9h-5.9zM370.3 292.5h28.4v5.9h-28.4zM139.4 298.2h39.7v5.9h-39.7zM370.3 298.2h28.4v5.9h-28.4zM139.4 303.8h39.7v5.9h-39.7zM364.6 303.8h34.0v5.9h-34.0zM139.4 309.4h39.7v5.9h-39.7zM359.0 309.4h39.7v5.9h-39.7zM133.8 315.0h45.3v5.9h-45.3zM285.8 315.0h17.1v5.9h-17.1zM314.0 315.0h79.1v5.9h-79.1zM133.8 320.7h45.3v5.9h-45.3zM263.3 320.7h112.9v5.9h-112.9zM21.2 326.3h17.1v5.9h-17.1zM128.2 326.3h50.9v5.9h-50.9zM263.3 326.3h90.3v5.9h-90.3zM21.2 331.9h22.8v5.9h-22.8zM128.2 331.9h50.9v5.9h-50.9zM268.9 331.9h62.2v5.9h-62.2zM21.2 337.6h28.4v5.9h-28.4zM122.5 337.6h5.9v5.9h-5.9zM43.7 343.2h17.1v5.9h-17.1zM111.3 343.2h5.9v5.9h-5.9zM60.6 348.8h28.4v5.9h-28.4zM167.6 360.1h5.9v5.9h-5.9zM161.9 365.7h11.5v5.9h-11.5zM156.3 371.4h17.1v5.9h-17.1zM156.3 377.0h11.5v5.9h-11.5zM156.3 382.6h5.9v5.9h-5.9z"/>
<path fill="#50ffaf" d="M235.1 61.7h5.9v5.9h-5.9zM235.1 67.3h5.9v5.9h-5.9zM235.1 72.9h5.9v5.9h-5.9zM235.1 78.6h5.9v5.9h-5.9zM235.1 84.2h5.9v5.9h-5.9zM308.3 84.2h28.4v5.9h-28.4zM235.1 89.8h5.9v5.9h-5.9zM297.1 89.8h34.0v5.9h-34.0zM240.8 95.5h5.9v5.9h-5.9zM274.5 95.5h39.7v5.9h-39.7zM240.8 101.1h11.5v5.9h-11.5zM263.3 101.1h17.1v5.9h-17.1zM235.1 106.7h39.7v5.9h-39.7zM223.9 112.4h45.3v5.9h-45.3zM218.2 118.0h5.9v5.9h-5.9zM246.4 118.0h22.8v5.9h-22.8zM207.0 123.6h5.9v5.9h-5.9zM252.0 123.6h17.1v5.9h-17.1zM252.0 129.2h17.1v5.9h-17.1zM201.4 134.9h5.9v5.9h-5.9zM252.0 134.9h17.1v5.9h-17.1zM195.7 140.5h5.9v5.9h-5.9zM252.0 140.5h11.5v5.9h-11.5zM190.1 146.1h5.9v5.9h-5.9zM252.0 146.1h11.5v5.9h-11.5zM252.0 151.8h11.5v5.9h-11.5zM184.5 157.4h5.9v5.9h-5.9zM252.0 157.4h11.5v5.9h-11.5zM184.5 163.0h5.9v5.9h-5.9zM246.4 163.0h11.5v5.9h-11.5zM184.5 168.7h5.9v5.9h-5.9zM240.8 168.7h17.1v5.9h-17.1zM184.5 174.3h5.9v5.9h-5.9zM240.8 174.3h11.5v5.9h-11.5zM240.8 179.9h5.9v5.9h-5.9zM178.8 185.6h5.9v5.9h-5.9zM240.8 185.6h5.9v5.9h-5.9zM178.8 191.2h5.9v5.9h-5.9zM240.8 191.2h5.9v5.9h-5.9zM240.8 196.8h5.9v5.9h-5.9zM240.8 202.4h5.9v5.9h-5.9zM178.8 208.1h5.9v5.9h-5.9zM240.8 208.1h5.9v5.9h-5.9zM178.8 213.7h5.9v5.9h-5.9zM240.8 213.7h5.9v5.9h-5.9zM184.5 219.3h11.5v5.9h-11.5zM235.1 219.3h5.9v5.9h-5.9zM308.3 219.3h17.1v5.9h-17.1zM190.1 225.0h50.9v5.9h-50.9zM297.1 225.0h5.9v5.9h-5.9zM319.6 225.0h5.9v5.9h-5.9zM195.7 230.6h79.1v5.9h-79.1zM297.1 230.6h5.9v5.9h-5.9zM325.2 230.6h5.9v5.9h-5.9zM190.1 236.2h17.1v5.9h-17.1zM274.5 236.2h5.9v5.9h-5.9zM291.4 236.2h11.5v5.9h-11.5zM325.2 236.2h5.9v5.9h-5.9zM178.8 241.9h17.1v5.9h-17.1zM280.2 241.9h17.1v5.9h-17.1zM325.2 241.9h5.9v5.9h-5.9zM173.2 247.5h5.9v5.9h-5.9zM280.2 247.5h17.1v5.9h-17.1zM161.9 253.1h11.5v5.9h-11.5zM285.8 253.1h11.5v5.9h-11.5zM156.3 258.7h11.5v5.9h-11.5zM285.8 258.7h11.5v5.9h-11.5zM156.3 264.4h5.9v5.9h-5.9zM280.2 264.4h17.1v5.9h-17.1zM325.2 264.4h5.9v5.9h-5.9zM156.3 270.0h11.5v5.9h-11.5zM285.8 270.0h11.5v5.9h-11.5zM156.3 275.6h17.1v5.9h-17.1zM325.2 275.6h5.9v5.9h-5.9zM161.9 281.3h17.1v5.9h-17.1zM314.0 281.3h11.5v5.9h-11.5zM173.2 286.9h11.5v5.9h-11.5zM302.7 286.9h5.9v5.9h-5.9zM178.8 292.5h17.1v5.9h-17.1zM240.8 292.5h22.8v5.9h-22.8zM178.8 298.2h28.4v5.9h-28.4zM235.1 298.2h28.4v5.9h-28.4zM291.4 298.2h5.9v5.9h-5.9zM178.8 303.8h28.4v5.9h-28.4zM240.8 303.8h28.4v5.9h-28.4zM291.4 303.8h5.9v5.9h-5.9zM178.8 309.4h22.8v5.9h-22.8zM246.4 309.4h28.4v5.9h-28.4zM291.4 309.4h5.9v5.9h-5.9zM178.8 315.0h22.8v5.9h-22.8zM246.4 315.0h39.7v5.9h-39.7zM178.8 320.7h22.8v5.9h-22.8zM246.4 320.7h17.1v5.9h-17.1zM375.9 320.7h22.8v5.9h-22.8zM178.8 326.3h22.8v5.9h-22.8zM252.0 326.3h11.5v5.9h-11.5zM353.4 326.3h45.3v5.9h-45.3zM178.8 331.9h22.8v5.9h-22.8zM252.0 331.9h17.1v5.9h-17.1zM330.9 331.9h67.8v5.9h-67.8zM128.2 337.6h73.4v5.9h-73.4zM257.7 337.6h141.0v5.9h-141.0zM116.9 343.2h5.9v5.9h-5.9zM145.1 343.2h56.6v5.9h-56.6zM347.7 343.2h50.9v5.9h-50.9zM21.2 348.8h39.7v5.9h-39.7zM88.7 348.8h22.8v5.9h-22.8zM150.7 348.8h56.6v5.9h-56.6zM364.6 348.8h34.0v5.9h-34.0zM21.2 354.5h73.4v5.9h-73.4zM150.7 354.5h67.8v5.9h-67.8zM21.2 360.1h56.6v5.9h-56.6zM150.7 360.1h17.1v5.9h-17.1zM173.2 360.1h5.9v5.9h-5.9zM195.7 360.1h39.7v5.9h-39.7zM150.7 365.7h11.5v5.9h-11.5zM173.2 365.7h5.9v5.9h-5.9zM195.7 365.7h45.3v5.9h-45.3zM150.7 371.4h5.9v5.9h-5.9zM173.2 371.4h5.9v5.9h-5.9zM195.7 371.4h45.3v5.9h-45.3zM145.1 377.0h11.5v5.9h-11.5zM167.6 377.0h79.1v5.9h-79.1zM145.1 382.6h11.5v5.9h-11.5zM161.9 382.6h5.9v5.9h-5.9zM190.1 382.6h84.7v5.9h-84.7zM336.5 382.6h62.2v5.9h-62.2zM145.1 388.2h22.8v5.9h-22.8zM195.7 388.2h202.9v5.9h-202.9zM139.4 393.9h22.8v5.9h-22.8zM195.7 393.9h202.9v5.9h-202.9zM139.4 399.5h22.8v5.9h-22.8zM195.7 399.5h202.9v5.9h-202.9zM133.8 405.1h34.0v5.9h-34.0zM190.1 405.1h208.6v5.9h-208.6zM128.2 410.8h45.3v5.9h-45.3zM184.5 410.8h39.7v5.9h-39.7zM235.1 410.8h163.5v5.9h-163.5zM116.9 416.4h101.6v5.9h-101.6zM235.1 416.4h163.5v5.9h-163.5zM111.3 422.0h107.2v5.9h-107.2zM240.8 422.0h157.9v5.9h-157.9zM105.6 427.7h118.5v5.9h-118.5zM235.1 427.7h163.5v5.9h-163.5zM100.0 433.3h298.7v5.9h-298.7z"/>
<path fill="#60ff9f" d="M240.8 61.7h5.9v5.9h-5.9zM240.8 67.3h5.9v5.9h-5.9zM240.8 72.9h5.9v5.9h-5.9zM240.8 78.6h5.9v5.9h-5.9zM240.8 84.2h5.9v5.9h-5.9zM280.2 84.2h28.4v5.9h-28.4zM240.8 89.8h11.5v5.9h-11.5zM268.9 89.8h28.4v5.9h-28.4zM246.4 95.5h28.4v5.9h-28.4zM252.0 101.1h11.5v5.9h-11.5zM240.8 118.0h5.9v5.9h-5.9zM212.6 123.6h5.9v5.9h-5.9zM246.4 123.6h5.9v5.9h-5.9zM207.0 129.2h5.9v5.9h-5.9zM246.4 129.2h5.9v5.9h-5.9zM246.4 134.9h5.9v5.9h-5.9zM201.4 140.5h5.9v5.9h-5.9zM246.4 140.5h5.9v5.9h-5.9zM195.7 146.1h5.9v5.9h-5.9zM246.4 146.1h5.9v5.9h-5.9zM190.1 151.8h5.9v5.9h-5.9zM246.4 151.8h5.9v5.9h-5.9zM240.8 157.4h11.5v5.9h-11.5zM190.1 163.0h5.9v5.9h-5.9zM229.5 163.0h17.1v5.9h-17.1zM190.1 168.7h5.9v5.9h-5.9zM229.5 168.7h11.5v5.9h-11.5zM190.1 174.3h5.9v5.9h-5.9zM229.5 174.3h11.5v5.9h-11.5zM184.5 179.9h5.9v5.9h-5.9zM235.1 179.9h5.9v5.9h-5.9zM184.5 185.6h5.9v5.9h-5.9zM235.1 185.6h5.9v5.9h-5.9zM178.8 196.8h5.9v5.9h-5.9zM178.8 202.4h5.9v5.9h-5.9zM235.1 208.1h5.9v5.9h-5.9zM184.5 213.7h5.9v5.9h-5.9zM235.1 213.7h5.9v5.9h-5.9zM195.7 219.3h39.7v5.9h-39.7zM302.7 225.0h17.1v5.9h-17.1zM302.7 230.6h5.9v5.9h-5.9zM314.0 230.6h11.5v5.9h-11.5zM207.0 236.2h67.8v5.9h-67.8zM302.7 236.2h5.9v5.9h-5.9zM319.6 236.2h5.9v5.9h-5.9zM195.7 241.9h5.9v5.9h-5.9zM274.5 241.9h5.9v5.9h-5.9zM297.1 241.9h5.9v5.9h-5.9zM178.8 247.5h11.5v5.9h-11.5zM297.1 247.5h5.9v5.9h-5.9zM173.2 253.1h5.9v5.9h-5.9zM280.2 253.1h5.9v5.9h-5.9zM297.1 253.1h5.9v5.9h-5.9zM167.6 258.7h11.5v5.9h-11.5zM280.2 258.7h5.9v5.9h-5.9zM297.1 258.7h5.9v5.9h-5.9zM161.9 264.4h11.5v5.9h-11.5zM297.1 264.4h5.9v5.9h-5.9zM167.6 270.0h11.5v5.9h-11.5zM280.2 270.0h5.9v5.9h-5.9zM297.1 270.0h5.9v5.9h-5.9zM325.2 270.0h5.9v5.9h-5.9zM173.2 275.6h5.9v5.9h-5.9zM280.2 275.6h28.4v5.9h-28.4zM319.6 275.6h5.9v5.9h-5.9zM178.8 281.3h11.5v5.9h-11.5zM297.1 281.3h17.1v5.9h-17.1zM184.5 286.9h28.4v5.9h-28.4zM223.9 286.9h45.3v5.9h-45.3zM297.1 286.9h5.9v5.9h-5.9zM195.7 292.5h45.3v5.9h-45.3zM263.3 292.5h5.9v5.9h-5.9zM207.0 298.2h28.4v5.9h-28.4zM263.3 298.2h11.5v5.9h-11.5zM207.0 303.8h34.0v5.9h-34.0zM268.9 303.8h5.9v5.9h-5.9zM201.4 309.4h11.5v5.9h-11.5zM235.1 309.4h11.5v5.9h-11.5zM274.5 309.4h17.1v5.9h-17.1zM201.4 315.0h5.9v5.9h-5.9zM240.8 315.0h5.9v5.9h-5.9zM201.4 320.7h5.9v5.9h-5.9zM201.4 326.3h5.9v5.9h-5.9zM246.4 326.3h5.9v5.9h-5.9zM201.4 331.9h5.9v5.9h-5.9zM246.4 331.9h5.9v5.9h-5.9zM201.4 337.6h5.9v5.9h-5.9zM246.4 337.6h11.5v5.9h-11.5zM122.5 343.2h22.8v5.9h-22.8zM201.4 343.2h5.9v5.9h-5.9zM246.4 343.2h101.6v5.9h-101.6zM111.3 348.8h11.5v5.9h-11.5zM139.4 348.8h11.5v5.9h-11.5zM207.0 348.8h11.5v5.9h-11.5zM302.7 348.8h62.2v5.9h-62.2zM94.4 354.5h22.8v5.9h-22.8zM145.1 354.5h5.9v5.9h-5.9zM218.2 354.5h28.4v5.9h-28.4zM330.9 354.5h39.7v5.9h-39.7zM77.5 360.1h34.0v5.9h-34.0zM145.1 360.1h5.9v5.9h-5.9zM178.8 360.1h5.9v5.9h-5.9zM190.1 360.1h5.9v5.9h-5.9zM235.1 360.1h11.5v5.9h-11.5zM330.9 360.1h39.7v5.9h-39.7zM55.0 365.7h50.9v5.9h-50.9zM139.4 365.7h11.5v5.9h-11.5zM178.8 365.7h5.9v5.9h-5.9zM240.8 365.7h5.9v5.9h-5.9zM330.9 365.7h39.7v5.9h-39.7zM43.7 371.4h45.3v5.9h-45.3zM139.4 371.4h11.5v5.9h-11.5zM178.8 371.4h17.1v5.9h-17.1zM240.8 371.4h5.9v5.9h-5.9zM330.9 371.4h39.7v5.9h-39.7zM128.2 377.0h17.1v5.9h-17.1zM246.4 377.0h11.5v5.9h-11.5zM268.9 377.0h11.5v5.9h-11.5zM302.7 377.0h5.9v5.9h-5.9zM325.2 377.0h28.4v5.9h-28.4zM122.5 382.6h22.8v5.9h-22.8zM167.6 382.6h22.8v5.9h-22.8zM274.5 382.6h62.2v5.9h-62.2zM122.5 388.2h22.8v5.9h-22.8zM167.6 388.2h5.9v5.9h-5.9zM184.5 388.2h11.5v5.9h-11.5zM122.5 393.9h17.1v5.9h-17.1zM161.9 393.9h5.9v5.9h-5.9zM190.1 393.9h5.9v5.9h-5.9zM116.9 399.5h22.8v5.9h-22.8zM161.9 399.5h5.9v5.9h-5.9zM190.1 399.5h5.9v5.9h-5.9zM111.3 405.1h22.8v5.9h-22.8zM167.6 405.1h5.9v5.9h-5.9zM184.5 405.1h5.9v5.9h-5.9zM105.6 410.8h22.8v5.9h-22.8zM173.2 410.8h11.5v5.9h-11.5zM223.9 410.8h11.5v5.9h-11.5zM218.2 416.4h5.9v5.9h-5.9zM218.2 422.0h5.9v5.9h-5.9zM235.1 422.0h5.9v5.9h-5.9zM223.9 427.7h11.5v5.9h-11.5z"/>
<path fill="#70ff8f" d="M246.4 61.7h5.9v5.9h-5.9zM246.4 67.3h5.9v5.9h-5.9zM246.4 72.9h5.9v5.9h-5.9zM274.5 72.9h39.7v5.9h-39.7zM246.4 78.6h5.9v5.9h-5.9zM268.9 78.6h34.0v5.9h-34.0zM246.4 84.2h11.5v5.9h-11.5zM263.3 84.2h17.1v5.9h-17.1zM252.0 89.8h17.1v5.9h-17.1zM223.9 118.0h17.1v5.9h-17.1zM218.2 123.6h5.9v5.9h-5.9zM240.8 123.6h5.9v5.9h-5.9zM207.0 134.9h5.9v5.9h-5.9zM240.8 134.9h5.9v5.9h-5.9zM240.8 140.5h5.9v5.9h-5.9zM240.8 146.1h5.9v5.9h-5.9zM240.8 151.8h5.9v5.9h-5.9zM190.1 157.4h5.9v5.9h-5.9zM229.5 157.4h11.5v5.9h-11.5zM218.2 163.0h11.5v5.9h-11.5zM195.7 168.7h5.9v5.9h-5.9zM218.2 168.7h11.5v5.9h-11.5zM195.7 174.3h5.9v5.9h-5.9zM218.2 174.3h11.5v5.9h-11.5zM190.1 179.9h11.5v5.9h-11.5zM223.9 179.9h11.5v5.9h-11.5zM190.1 185.6h5.9v5.9h-5.9zM229.5 185.6h5.9v5.9h-5.9zM184.5 191.2h5.9v5.9h-5.9zM235.1 191.2h5.9v5.9h-5.9zM184.5 196.8h5.9v5.9h-5.9zM235.1 196.8h5.9v5.9h-5.9zM184.5 202.4h5.9v5.9h-5.9zM235.1 202.4h5.9v5.9h-5.9zM184.5 208.1h5.9v5.9h-5.9zM190.1 213.7h22.8v5.9h-22.8zM223.9 213.7h11.5v5.9h-11.5zM308.3 230.6h5.9v5.9h-5.9zM308.3 236.2h11.5v5.9h-11.5zM201.4 241.9h11.5v5.9h-11.5zM223.9 241.9h34.0v5.9h-34.0zM263.3 241.9h11.5v5.9h-11.5zM302.7 241.9h5.9v5.9h-5.9zM319.6 241.9h5.9v5.9h-5.9zM190.1 247.5h11.5v5.9h-11.5zM274.5 247.5h5.9v5.9h-5.9zM302.7 247.5h5.9v5.9h-5.9zM319.6 247.5h5.9v5.9h-5.9zM178.8 253.1h11.5v5.9h-11.5zM274.5 253.1h5.9v5.9h-5.9zM302.7 253.1h5.9v5.9h-5.9zM319.6 253.1h5.9v5.9h-5.9zM178.8 258.7h5.9v5.9h-5.9zM274.5 258.7h5.9v5.9h-5.9zM302.7 258.7h5.9v5.9h-5.9zM319.6 258.7h5.9v5.9h-5.9zM173.2 264.4h11.5v5.9h-11.5zM274.5 264.4h5.9v5.9h-5.9zM302.7 264.4h5.9v5.9h-5.9zM319.6 264.4h5.9v5.9h-5.9zM178.8 270.0h5.9v5.9h-5.9zM274.5 270.0h5.9v5.9h-5.9zM302.7 270.0h11.5v5.9h-11.5zM319.6 270.0h5.9v5.9h-5.9zM178.8 275.6h17.1v5.9h-17.1zM268.9 275.6h11.5v5.9h-11.5zM308.3 275.6h11.5v5.9h-11.5zM190.1 281.3h17.1v5.9h-17.1zM235.1 281.3h62.2v5.9h-62.2zM212.6 286.9h11.5v5.9h-11.5zM268.9 286.9h5.9v5.9h-5.9zM291.4 286.9h5.9v5.9h-5.9zM268.9 292.5h5.9v5.9h-5.9zM291.4 292.5h5.9v5.9h-5.9zM274.5 298.2h5.9v5.9h-5.9zM274.5 303.8h17.1v5.9h-17.1zM212.6 309.4h22.8v5.9h-22.8zM207.0 315.0h5.9v5.9h-5.9zM235.1 315.0h5.9v5.9h-5.9zM207.0 320.7h5.9v5.9h-5.9zM240.8 320.7h5.9v5.9h-5.9zM207.0 326.3h5.9v5.9h-5.9zM240.8 326.3h5.9v5.9h-5.9zM240.8 331.9h5.9v5.9h-5.9zM207.0 337.6h5.9v5.9h-5.9zM240.8 337.6h5.9v5.9h-5.9zM207.0 343.2h5.9v5.9h-5.9zM240.8 343.2h5.9v5.9h-5.9zM122.5 348.8h17.1v5.9h-17.1zM218.2 348.8h84.7v5.9h-84.7zM116.9 354.5h28.4v5.9h-28.4zM246.4 354.5h11.5v5.9h-11.5zM268.9 354.5h17.1v5.9h-17.1zM291.4 354.5h39.7v5.9h-39.7zM111.3 360.1h34.0v5.9h-34.0zM184.5 360.1h5.9v5.9h-5.9zM246.4 360.1h5.9v5.9h-5.9zM274.5 360.1h5.9v5.9h-5.9zM302.7 360.1h28.4v5.9h-28.4zM105.6 365.7h34.0v5.9h-34.0zM184.5 365.7h11.5v5.9h-11.5zM246.4 365.7h5.9v5.9h-5.9zM302.7 365.7h5.9v5.9h-5.9zM325.2 365.7h5.9v5.9h-5.9zM88.7 371.4h50.9v5.9h-50.9zM246.4 371.4h5.9v5.9h-5.9zM268.9 371.4h17.1v5.9h-17.1zM297.1 371.4h17.1v5.9h-17.1zM325.2 371.4h5.9v5.9h-5.9zM66.2 377.0h62.2v5.9h-62.2zM257.7 377.0h11.5v5.9h-11.5zM280.2 377.0h22.8v5.9h-22.8zM308.3 377.0h17.1v5.9h-17.1zM49.3 382.6h73.4v5.9h-73.4zM43.7 388.2h50.9v5.9h-50.9zM100.0 388.2h22.8v5.9h-22.8zM173.2 388.2h11.5v5.9h-11.5zM38.1 393.9h56.6v5.9h-56.6zM105.6 393.9h17.1v5.9h-17.1zM167.6 393.9h22.8v5.9h-22.8zM32.4 399.5h62.2v5.9h-62.2zM100.0 399.5h17.1v5.9h-17.1zM167.6 399.5h22.8v5.9h-22.8zM26.8 405.1h84.7v5.9h-84.7zM173.2 405.1h11.5v5.9h-11.5zM223.9 416.4h11.5v5.9h-11.5zM223.9 422.0h11.5v5.9h-11.5z"/>
<path fill="#80ff80" d="M252.0 61.7h22.8v5.9h-22.8zM252.0 67.3h22.8v5.9h-22.8zM252.0 72.9h22.8v5.9h-22.8zM252.0 78.6h17.1v5.9h-17.1zM257.7 84.2h5.9v5.9h-5.9zM223.9 123.6h5.9v5.9h-5.9zM235.1 123.6h5.9v5.9h-5.9zM212.6 129.2h5.9v5.9h-5.9zM240.8 129.2h5.9v5.9h-5.9zM207.0 140.5h5.9v5.9h-5.9zM201.4 146.1h5.9v5.9h-5.9zM235.1 146.1h5.9v5.9h-5.9zM195.7 151.8h11.5v5.9h-11.5zM235.1 151.8h5.9v5.9h-5.9zM195.7 157.4h5.9v5.9h-5.9zM218.2 157.4h11.5v5.9h-11.5zM195.7 163.0h11.5v5.9h-11.5zM212.6 163.0h5.9v5.9h-5.9zM201.4 168.7h17.1v5.9h-17.1zM201.4 174.3h17.1v5.9h-17.1zM201.4 179.9h22.8v5.9h-22.8zM195.7 185.6h11.5v5.9h-11.5zM218.2 185.6h11.5v5.9h-11.5zM190.1 191.2h5.9v5.9h-5.9zM229.5 191.2h5.9v5.9h-5.9zM190.1 196.8h5.9v5.9h-5.9zM229.5 196.8h5.9v5.9h-5.9zM190.1 202.4h5.9v5.9h-5.9zM229.5 202.4h5.9v5.9h-5.9zM190.1 208.1h17.1v5.9h-17.1zM229.5 208.1h5.9v5.9h-5.9zM212.6 213.7h11.5v5.9h-11.5zM212.6 241.9h11.5v5.9h-11.5zM257.7 241.9h5.9v5.9h-5.9zM308.3 241.9h11.5v5.9h-11.5zM201.4 247.5h5.9v5.9h-5.9zM240.8 247.5h5.9v5.9h-5.9zM263.3 247.5h11.5v5.9h-11.5zM308.3 247.5h11.5v5.9h-11.5zM190.1 253.1h11.5v5.9h-11.5zM268.9 253.1h5.9v5.9h-5.9zM308.3 253.1h11.5v5.9h-11.5zM184.5 258.7h11.5v5.9h-11.5zM268.9 258.7h5.9v5.9h-5.9zM308.3 258.7h11.5v5.9h-11.5zM184.5 264.4h11.5v5.9h-11.5zM268.9 264.4h5.9v5.9h-5.9zM308.3 264.4h11.5v5.9h-11.5zM184.5 270.0h11.5v5.9h-11.5zM268.9 270.0h5.9v5.9h-5.9zM314.0 270.0h5.9v5.9h-5.9zM195.7 275.6h11.5v5.9h-11.5zM246.4 275.6h22.8v5.9h-22.8zM207.0 281.3h28.4v5.9h-28.4zM274.5 286.9h17.1v5.9h-17.1zM274.5 292.5h17.1v5.9h-17.1zM280.2 298.2h11.5v5.9h-11.5zM212.6 315.0h22.8v5.9h-22.8zM212.6 320.7h5.9v5.9h-5.9zM235.1 320.7h5.9v5.9h-5.9zM235.1 326.3h5.9v5.9h-5.9zM207.0 331.9h5.9v5.9h-5.9zM235.1 331.9h5.9v5.9h-5.9zM212.6 337.6h5.9v5.9h-5.9zM235.1 337.6h5.9v5.9h-5.9zM212.6 343.2h28.4v5.9h-28.4zM257.7 354.5h11.5v5.9h-11.5zM285.8 354.5h5.9v5.9h-5.9zM252.0 360.1h22.8v5.9h-22.8zM280.2 360.1h22.8v5.9h-22.8zM252.0 365.7h50.9v5.9h-50.9zM308.3 365.7h17.1v5.9h-17.1zM252.0 371.4h17.1v5.9h-17.1zM285.8 371.4h11.5v5.9h-11.5zM314.0 371.4h11.5v5.9h-11.5zM94.4 388.2h5.9v5.9h-5.9zM94.4 393.9h11.5v5.9h-11.5zM94.4 399.5h5.9v5.9h-5.9z"/>
<path fill="#8fff70" d="M229.5 123.6h5.9v5.9h-5.9zM218.2 129.2h22.8v5.9h-22.8zM212.6 134.9h5.9v5.9h-5.9zM229.5 134.9h11.5v5.9h-11.5zM212.6 140.5h5.9v5.9h-5.9zM229.5 140.5h11.5v5.9h-11.5zM207.0 146.1h11.5v5.9h-11.5zM229.5 146.1h5.9v5.9h-5.9zM207.0 151.8h28.4v5.9h-28.4zM201.4 157.4h17.1v5.9h-17.1zM207.0 163.0h5.9v5.9h-5.9zM207.0 185.6h11.5v5.9h-11.5zM195.7 191.2h34.0v5.9h-34.0zM195.7 196.8h34.0v5.9h-34.0zM195.7 202.4h34.0v5.9h-34.0zM207.0 208.1h22.8v5.9h-22.8zM207.0 247.5h34.0v5.9h-34.0zM246.4 247.5h17.1v5.9h-17.1zM201.4 253.1h5.9v5.9h-5.9zM246.4 253.1h22.8v5.9h-22.8zM195.7 258.7h5.9v5.9h-5.9zM263.3 258.7h5.9v5.9h-5.9zM195.7 264.4h5.9v5.9h-5.9zM263.3 264.4h5.9v5.9h-5.9zM195.7 270.0h11.5v5.9h-11.5zM246.4 270.0h22.8v5.9h-22.8zM207.0 275.6h39.7v5.9h-39.7zM218.2 320.7h17.1v5.9h-17.1zM212.6 326.3h22.8v5.9h-22.8zM212.6 331.9h22.8v5.9h-22.8zM218.2 337.6h17.1v5.9h-17.1z"/>
<path fill="#9fff60" d="M218.2 134.9h11.5v5.9h-11.5zM218.2 140.5h11.5v5.9h-11.5zM218.2 146.1h11.5v5.9h-11.5zM207.0 253.1h39.7v5.9h-39.7zM201.4 258.7h11.5v5.9h-11.5zM229.5 258.7h34.0v5.9h-34.0zM201.4 264.4h11.5v5.9h-11.5zM235.1 264.4h28.4v5.9h-28.4zM207.0 270.0h39.7v5.9h-39.7z"/>
<path fill="#afff50" d="M212.6 258.7h17.1v5.9h-17.1zM212.6 264.4h22.8v5.9h-22.8z"/></g><path fill="none" stroke="#0d1f12" stroke-width="1.25" stroke-linejoin="round" d="M123.0 220.5L124.5 219.8L125.5 219.1L126.5 218.2L127.5 217.2L128.5 216.0L129.5 214.5L130.0 213.5L130.6 212.5L131.4 210.5L131.8 209.5L132.4 207.5L132.6 206.5L133.0 204.5L133.2 202.5L133.3 200.5L133.2 198.5L133.0 196.5L132.6 194.5L132.3 193.5L131.5 191.5L131.0 190.5L130.4 189.5L129.5 188.3L128.5 187.1L127.5 186.2L126.5 185.4L125.2 184.5L123.5 183.6L122.5 183.2L120.5 182.7L119.4 182.5L117.5 182.5L116.5 182.6L114.5 183.1L113.4 183.5L111.5 184.5L110.5 185.2L109.5 186.0L108.5 186.9L107.5 187.9L106.5 189.1L105.5 190.3L104.7 191.5L104.0 192.5L103.5 193.5L102.5 195.5L102.1 196.5L101.5 198.4L101.3 199.5L101.0 201.5L101.0 203.5L101.3 205.5L101.6 206.5L102.3 208.5L102.7 209.5L103.5 210.9L104.5 212.5L105.3 213.5L106.1 214.5L107.0 215.5L108.1 216.5L109.3 217.5L110.5 218.4L111.5 219.1L112.5 219.6L114.4 220.5L115.5 220.9L117.5 221.3L119.5 221.4L121.5 221.0L123.0 220.5L123.0 220.5M136.8 148.5L138.5 147.7L139.5 147.1L140.5 146.4L141.5 145.5L142.5 144.4L143.5 143.0L144.3 141.5L144.8 140.5L145.5 138.5L145.8 137.5L146.2 135.5L146.5 133.5L146.6 132.5L146.7 130.5L146.9 128.5L147.2 126.5L147.5 125.0L147.8 123.5L148.1 121.5L148.3 119.5L148.4 117.5L148.3 115.5L148.1 113.5L147.9 111.5L147.8 109.5L148.0 107.5L148.3 105.5L148.5 104.5L148.9 102.5L149.3 100.5L149.5 98.5L149.5 97.5L149.5 96.5L149.3 94.5L148.8 92.5L148.4 91.5L147.5 89.8L146.6 88.5L145.7 87.5L144.6 86.5L143.5 85.6L142.5 85.0L141.5 84.4L139.5 83.6L138.5 83.3L136.5 83.0L134.5 82.9L132.5 83.0M122.6 87.5L121.7 88.5L121.0 89.5L120.4 90.5L119.5 92.5L119.3 93.5L118.9 95.5L118.7 97.5L118.7 99.5L118.8 101.5L119.0 103.5L119.2 105.5L119.4 107.5L119.4 109.5L119.3 111.5L119.1 113.5L118.9 115.5L118.7 117.5L118.7 119.5L118.7 121.5L118.7 123.5L118.7 125.5L118.7 127.5L118.6 129.5L118.5 131.5L118.5 133.5L118.7 135.5L119.0 137.5L119.5 139.5L119.8 140.5L120.5 142.2L121.2 143.5L122.0 144.5L122.8 145.5L124.0 146.5L125.5 147.5L126.5 148.0L127.8 148.5L129.5 149.0L131.5 149.2L133.5 149.2L135.5 148.9L136.8 148.5L136.8 148.5M57.6 169.5L59.5 169.0L60.7 168.5L62.1 167.5L63.1 166.5L63.8 165.5L64.5 163.8L64.8 162.5L64.8 160.5L64.5 159.1L64.0 157.5L63.5 156.5L62.5 154.9L61.5 153.6L60.5 152.6L59.5 151.8L58.5 151.2L57.1 150.5L55.5 150.1M46.5 163.9L47.5 165.3L48.5 166.4L49.5 167.2L50.5 167.9L51.6 168.5L53.5 169.2L55.0 169.5L56.5 169.6L57.6 169.5L57.6 169.5M124.2 239.5L125.5 238.7L126.5 237.9L127.5 236.6L128.1 235.5L128.6 234.5L129.3 232.5L129.7 231.5L130.4 229.5L130.7 228.5L131.5 226.5L131.9 225.5L132.5 224.1L133.1 222.5L133.5 221.5L134.3 219.5L134.7 218.5L135.4 216.5L135.7 215.5L136.3 213.5L136.6 212.5L137.1 210.5L137.5 208.5L137.7 207.5L138.0 205.5L138.2 203.5L138.4 201.5L138.4 199.5L138.4 197.5L138.2 195.5L138.0 193.5L137.5 191.5L137.2 190.5L136.5 188.6L136.0 187.5L135.5 186.5L134.5 185.0L133.5 183.7L132.5 182.6L131.5 181.6L130.5 180.7L129.5 179.9L128.5 179.2L127.4 178.5L125.7 177.5L124.5 176.9L123.4 176.5L121.5 175.8L120.1 175.5L118.5 175.2L116.5 175.0L114.5 175.1L112.5 175.4L111.5 175.6L109.5 176.2L108.5 176.6L106.5 177.5L105.5 178.0L104.5 178.5L102.6 179.5L101.5 180.0L100.5 180.5L98.5 181.4L97.5 181.7L95.5 182.4L94.5 182.8L92.5 183.5L91.5 184.0L90.5 184.5L89.1 185.5L88.1 186.5L87.3 187.5L86.5 188.8L85.8 190.5L85.5 191.5L85.0 193.5L84.7 195.5L84.6 197.5L84.5 198.5L84.4 200.5L84.4 202.5L84.5 204.5L84.5 205.5L84.7 207.5L85.0 209.5L85.4 211.5L85.6 212.5L86.2 214.5L86.6 215.5L87.5 217.4L88.1 218.5L88.8 219.5L89.5 220.5L90.5 221.8L91.5 223.0L92.5 224.0L93.5 225.0L94.5 225.9L95.5 226.8L96.5 227.7L97.5 228.5L98.7 229.5L99.9 230.5L101.2 231.5L102.5 232.5L103.5 233.2L104.5 233.9L105.5 234.6L106.8 235.5L108.5 236.5L109.5 237.1L110.5 237.6L112.3 238.5L113.5 239.0L114.9 239.5L116.5 239.9L118.5 240.3L120.5 240.4L122.5 240.1L124.2 239.5L124.2 239.5M36.8 187.5L38.5 187.9L40.1 188.5L41.5 189.1L42.5 189.6L44.0 190.5L45.3 191.5L46.4 192.5L47.3 193.5L48.1 194.5L48.8 195.5L49.5 196.7L50.4 198.5L50.8 199.5L51.5 201.5L51.8 202.5L52.3 204.5L52.5 205.5L53.0 207.5L53.4 209.5L53.7 210.5L54.2 212.5L54.5 213.8L54.9 215.5L55.5 217.5L55.7 218.5L56.2 220.5L56.5 221.9L56.8 223.5L57.2 225.5L57.4 227.5L57.6 228.5L57.8 230.5L58.1 232.5L58.4 234.5L58.6 235.5L59.0 237.5L59.5 239.5L59.8 240.5L60.5 242.1L61.2 243.5L61.9 244.5L62.6 245.5L63.6 246.5L64.7 247.5L66.3 248.5L67.5 249.1L68.6 249.5L70.5 249.9L72.5 250.1L74.5 250.1L76.5 249.9L78.5 249.6L79.5 249.4L81.5 249.0L83.5 248.7L85.1 248.5L86.5 248.3L88.5 248.2L90.5 248.2L92.5 248.2L94.5 248.3L96.5 248.4L97.5 248.5L99.5 248.7L101.5 249.0L103.5 249.3L104.5 249.5L106.5 249.9L108.5 250.3L109.6 250.5L111.5 250.9L113.5 251.3L114.5 251.5L116.5 251.9L118.5 252.2L120.5 252.5L121.5 252.6L123.5 252.6L125.5 252.6L127.0 252.5L128.5 252.3L130.5 251.9L132.0 251.5L133.5 250.9L134.5 250.5L136.1 249.5L137.3 248.5L138.3 247.5L139.1 246.5L139.7 245.5L140.5 243.7L140.9 242.5L141.3 240.5L141.5 239.1L141.6 237.5L141.6 235.5L141.6 233.5L141.5 231.5L141.5 230.5L141.4 228.5L141.4 226.5L141.5 224.5L141.5 223.5L141.7 221.5L142.0 219.5L142.3 217.5L142.5 216.1L142.8 214.5L143.1 212.5L143.4 210.5L143.6 209.5L143.9 207.5L144.1 205.5L144.3 203.5L144.4 201.5L144.5 200.1L144.5 198.5L144.5 196.5L144.5 195.5L144.4 193.5L144.1 191.5L143.8 189.5L143.5 188.3L143.0 186.5L142.5 185.2L141.8 183.5L141.3 182.5L140.5 181.1L139.5 179.5L138.8 178.5L138.1 177.5L137.3 176.5L136.5 175.4L135.5 174.2L134.5 172.9L133.5 171.6L132.8 170.5L132.3 169.5L132.2 167.5L132.6 166.5L133.5 165.3L134.5 164.4L135.7 163.5L137.0 162.5L138.3 161.5L139.5 160.5L140.5 159.6L141.5 158.6L142.5 157.5L143.3 156.5L144.1 155.5L144.8 154.5L145.5 153.4L146.5 151.7L147.1 150.5L147.6 149.5L148.5 147.6L148.9 146.5L149.5 145.0L150.0 143.5L150.5 141.9L150.9 140.5L151.3 138.5L151.5 137.3L151.8 135.5L152.0 133.5L152.3 131.5L152.5 129.7L152.7 128.5L153.1 126.5L153.5 124.6L153.8 123.5L154.2 121.5L154.5 119.9L154.8 118.5L155.1 116.5L155.3 114.5L155.5 113.2L155.8 111.5L156.4 109.5L156.7 108.5L157.5 106.6L158.0 105.5L158.5 104.5L159.5 102.6L160.1 101.5L160.6 100.5L161.5 99.0L162.4 97.5L163.1 96.5L163.7 95.5L164.5 94.4L165.5 93.0L166.5 91.6L167.2 90.5L167.8 89.5L168.5 88.3L169.3 86.5L169.7 85.5L170.3 83.5L170.5 82.5L170.8 80.5L171.1 78.5L171.3 76.5L171.4 74.5L171.5 72.5L171.5 71.5M79.5 156.7L77.5 156.9L75.5 156.9L73.5 156.5L72.5 156.1L71.2 155.5L69.8 154.5L68.8 153.5L67.9 152.5L67.1 151.5L66.3 150.5L65.5 149.2L64.5 147.5L64.0 146.5L63.5 145.3L62.9 143.5L62.8 141.5L63.0 139.5L63.5 138.3L64.5 136.5L65.2 135.5L66.2 134.5L67.5 133.5L68.5 132.8L69.5 132.3L71.5 131.6L72.5 131.4L74.5 131.1L76.5 131.0L78.5 131.3L79.5 131.6L81.5 132.3L82.5 132.9L83.5 133.6L84.6 134.5L85.5 135.5L86.5 136.8L87.5 138.5L87.9 139.5L88.5 141.4L88.7 142.5L88.9 144.5L88.8 146.5L88.5 148.0L88.0 149.5L87.5 150.6L86.5 152.2L85.5 153.4L84.5 154.3L83.5 155.0L82.5 155.6L80.5 156.4L79.5 156.7L79.5 156.7M100.0 307.5L101.5 307.0L102.6 306.5L104.0 305.5L105.0 304.5L105.8 303.5L106.5 302.2L107.1 300.5L107.5 298.7L107.6 297.5L107.6 295.5L107.5 294.1L107.1 292.5L106.5 290.8L105.7 289.5L104.8 288.5L103.5 287.5L102.5 287.0L101.3 286.5L99.5 286.0L97.5 285.7L95.7 285.5L94.5 285.5L93.5 285.5L91.5 285.7L89.5 286.2L88.5 286.7L87.1 287.5L86.0 288.5L85.3 289.5L84.5 291.4L84.2 292.5L84.0 294.5L84.2 296.5L84.5 298.3L84.9 299.5L85.5 301.0L86.4 302.5L87.2 303.5L88.1 304.5L89.3 305.5L90.5 306.3L91.5 306.8L93.5 307.5L94.5 307.7L96.5 307.9L98.5 307.8L100.0 307.5L100.0 307.5M27.5 270.6L29.5 270.8L31.5 271.1L33.5 271.4L34.5 271.6L36.5 272.2L37.5 272.5L39.5 273.4L40.5 273.9L41.6 274.5L43.0 275.5L44.3 276.5L45.5 277.5L46.4 278.5L47.3 279.5L48.1 280.5L48.9 281.5L49.5 282.5L50.5 284.2L51.1 285.5L51.5 286.5L52.2 288.5L52.5 289.5L53.1 291.5L53.5 293.3L53.8 294.5L54.3 296.5L54.5 297.5L55.1 299.5L55.5 300.7L56.2 302.5L56.7 303.5L57.5 305.0L58.5 306.5L59.2 307.5L60.1 308.5L61.0 309.5L62.1 310.5L63.3 311.5L64.5 312.4L65.5 313.0L66.5 313.6L68.1 314.5L69.5 315.2L70.5 315.7L72.2 316.5L73.5 317.1L74.5 317.6L76.3 318.5L77.5 319.2L78.5 319.7L79.9 320.5L81.5 321.5L82.5 322.1L83.5 322.7L84.8 323.5L86.5 324.5L87.5 325.0L88.5 325.5L90.5 326.4L91.5 326.7L93.5 327.2L95.4 327.5L96.5 327.6L98.5 327.5L99.5 327.4L101.5 327.0L102.9 326.5L104.5 325.7L105.5 325.1L106.5 324.4L107.6 323.5L108.6 322.5L109.6 321.5L110.5 320.4L111.5 319.2L112.5 317.9L113.4 316.5L114.1 315.5L114.7 314.5L115.5 313.0L116.2 311.5L116.6 310.5L117.4 308.5L117.7 307.5L118.2 305.5L118.5 303.9L118.7 302.5L119.0 300.5L119.2 298.5L119.3 296.5L119.4 294.5L119.5 292.5L119.5 291.5L119.6 289.5L119.7 287.5L119.7 285.5L119.8 283.5L119.9 281.5L120.1 279.5L120.4 277.5L120.6 276.5L121.5 274.7L122.5 273.7L123.5 273.1L124.9 272.5L126.5 272.0L128.2 271.5L129.5 271.1L131.1 270.5L132.5 269.8L133.5 269.2L134.5 268.5L135.6 267.5L136.6 266.5L137.5 265.3L138.5 263.9L139.4 262.5L140.0 261.5L140.6 260.5L141.5 259.1L142.5 257.5L143.1 256.5L143.8 255.5L144.5 254.3L145.5 252.7L146.2 251.5L146.8 250.5L147.5 249.2L148.3 247.5L148.8 246.5L149.5 244.6L149.9 243.5L150.5 241.5L150.7 240.5L151.1 238.5L151.5 236.5L151.6 235.5L151.9 233.5L152.1 231.5L152.4 229.5L152.5 228.4L152.7 226.5L153.0 224.5L153.3 222.5L153.5 220.7L153.7 219.5L153.9 217.5L154.1 215.5L154.3 213.5L154.4 211.5L154.5 209.5L154.5 208.5L154.6 206.5L154.6 204.5L154.6 202.5L154.6 200.5L154.6 198.5L154.6 196.5L154.5 194.5L154.5 193.2L154.4 191.5L154.4 189.5L154.3 187.5L154.2 185.5L154.0 183.5L153.9 181.5L153.8 179.5L153.7 177.5L153.7 175.5L153.7 173.5L153.8 171.5L154.1 169.5L154.4 167.5L154.6 166.5L155.1 164.5L155.5 163.1L156.0 161.5L156.5 160.2L157.1 158.5L157.5 157.5L158.3 155.5L158.6 154.5L159.3 152.5L159.6 151.5L160.2 149.5L160.5 148.1L160.9 146.5L161.3 144.5L161.5 143.5L162.0 141.5L162.5 139.7L162.9 138.5L163.5 136.9L164.2 135.5L164.8 134.5L165.5 133.4L166.5 132.1L167.5 130.9L168.5 129.8L169.5 128.8L170.5 127.7L171.5 126.6L172.4 125.5L173.3 124.5L174.0 123.5L174.8 122.5L175.5 121.4L176.5 119.7L177.1 118.5L177.6 117.5L178.4 115.5L178.7 114.5L179.3 112.5L179.5 111.5L180.0 109.5L180.4 107.5L180.6 106.5L181.1 104.5L181.5 102.6L181.8 101.5L182.3 99.5L182.6 98.5L183.2 96.5L183.5 95.5L184.1 93.5L184.5 92.2L184.9 90.5L185.4 88.5L185.6 87.5L185.9 85.5L186.1 83.5L186.3 81.5L186.4 79.5L186.5 78.1L186.6 76.5L186.6 74.5L186.7 72.5L186.7 70.5L186.7 68.5M343.5 123.5L342.5 124.5L341.5 125.6L340.5 126.7L339.5 127.8L338.5 128.9L337.5 130.1L336.5 131.3L335.5 132.5L334.8 133.5L334.1 134.5L333.4 135.5L332.5 137.1L331.8 138.5L331.3 139.5L330.6 141.5L330.3 142.5L330.1 144.5L330.2 146.5L330.5 148.0L330.9 149.5L331.5 150.8L332.5 152.5L333.2 153.5L334.0 154.5L335.0 155.5L336.1 156.5L337.4 157.5L338.5 158.3L339.5 159.0L340.5 159.6L342.0 160.5L343.5 161.4L344.5 162.0L345.5 162.6L347.0 163.5L348.5 164.5L349.5 165.3L350.5 166.0L351.5 166.9L352.5 167.8L353.5 168.7L354.5 169.6L355.5 170.6L356.5 171.6L357.5 172.5L358.5 173.5L359.6 174.5L360.8 175.5L362.1 176.5L363.5 177.5L364.5 178.1L365.5 178.6L367.5 179.3L368.5 179.6L370.5 180.0L372.5 180.2L374.5 180.3L376.5 180.4L378.5 180.4L380.5 180.4M316.7 151.5L318.5 150.7L319.5 150.1L320.5 149.3L321.5 148.4L322.5 147.2L323.5 145.6L324.0 144.5L324.4 142.5L324.2 140.5L323.5 138.5L323.0 137.5L322.4 136.5L321.5 135.4L320.5 134.4L319.5 133.5L318.0 132.5L316.5 131.8L315.5 131.4L313.5 131.0L311.5 130.9L309.5 131.1L308.3 131.5L306.5 132.4L305.5 133.1L304.5 134.1L303.5 135.4L302.9 136.5L302.5 137.5L302.0 139.5L301.9 141.5L302.2 143.5L302.5 144.6L303.3 146.5L303.9 147.5L304.7 148.5L305.7 149.5L306.9 150.5L308.5 151.4L309.5 151.7L311.5 152.2L313.5 152.2L315.5 151.9L316.7 151.5L316.7 151.5M78.5 149.5L76.5 149.8L74.9 149.5L73.5 148.7L72.5 147.6L72.0 146.5L71.7 144.5L72.3 142.5L73.1 141.5L74.4 140.5L75.5 140.1L77.5 140.1L78.8 140.5L80.1 141.5L80.8 142.5L81.5 144.5L81.2 146.5L80.5 147.9L79.5 148.9L78.5 149.5L78.5 149.5M37.5 314.4L38.5 314.6L40.5 315.1L41.6 315.5L43.5 316.4L44.5 317.0L45.5 317.6L46.5 318.5L47.5 319.5L48.5 320.8L49.5 322.3L50.1 323.5L50.6 324.5L51.4 326.5L51.8 327.5L52.5 329.5L52.9 330.5L53.5 331.9L54.3 333.5L54.9 334.5L55.6 335.5L56.5 336.5L57.5 337.5L58.7 338.5L60.4 339.5L61.5 340.0L62.7 340.5L64.5 341.1L66.5 341.5L67.5 341.7L69.5 341.9L71.5 342.2L73.5 342.3L75.5 342.5L76.5 342.5L78.5 342.6L80.5 342.8L82.5 342.9L84.5 343.0L86.5 343.1L88.5 343.2L90.5 343.3L92.5 343.3L94.5 343.3L96.5 343.3L98.5 343.2L100.5 343.1L102.5 342.9L104.5 342.7L105.6 342.5L107.5 342.1L109.4 341.5L110.5 341.1L111.8 340.5L113.5 339.5L114.5 338.8L115.5 338.0L116.5 337.1L117.5 336.0L118.5 334.7L119.3 333.5L119.8 332.5L120.5 331.1L121.2 329.5L121.5 328.5L122.2 326.5L122.5 325.5L123.1 323.5L123.5 322.1L124.0 320.5L124.5 318.8L124.9 317.5L125.5 315.7L125.9 314.5L126.5 312.5L126.8 311.5L127.3 309.5L127.5 308.5L128.0 306.5L128.3 304.5L128.5 303.3L128.8 301.5L129.1 299.5L129.5 297.6L129.8 296.5L130.3 294.5L130.7 293.5L131.5 291.9L132.5 290.5L133.5 289.5L134.5 288.7L135.5 288.1L136.5 287.5L138.5 286.5L139.5 286.0L140.5 285.5L142.1 284.5L143.4 283.5L144.5 282.5L145.4 281.5L146.1 280.5L146.7 279.5L147.5 277.8L148.0 276.5L148.5 274.6L148.7 273.5L149.1 271.5L149.4 269.5L149.6 268.5L149.9 266.5L150.3 264.5L150.5 263.4L151.0 261.5L151.5 259.8L152.0 258.5L152.5 257.3L153.4 255.5L154.0 254.5L154.6 253.5L155.5 252.1L156.5 250.8L157.5 249.6L158.4 248.5L159.3 247.5L160.2 246.5L161.1 245.5L162.0 244.5L163.0 243.5L163.9 242.5L164.7 241.5L165.6 240.5L166.5 239.4L167.5 238.0L168.5 236.6L169.2 235.5L169.7 234.5L170.5 232.9L171.1 231.5L171.5 230.4L172.1 228.5L172.5 226.5L172.6 225.5L172.8 223.5L172.9 221.5L172.9 219.5L172.8 217.5L172.6 215.5L172.5 214.4L172.3 212.5L172.1 210.5L171.9 208.5L171.7 206.5L171.6 204.5L171.6 202.5L171.5 200.5L171.6 198.5L171.8 196.5L172.0 194.5L172.4 192.5L172.7 191.5L173.3 189.5L173.6 188.5L174.3 186.5L174.7 185.5L175.4 183.5L175.7 182.5L176.4 180.5L176.7 179.5L177.2 177.5L177.5 176.0L177.8 174.5L178.1 172.5L178.4 170.5L178.6 169.5L178.8 167.5L179.1 165.5L179.4 163.5L179.5 162.5L179.8 160.5L180.2 158.5L180.5 156.7L180.7 155.5L181.1 153.5L181.5 151.8L181.8 150.5L182.2 148.5L182.5 147.0L182.8 145.5L183.2 143.5L183.5 142.1L183.9 140.5L184.4 138.5L184.8 137.5L185.5 135.8L186.2 134.5L186.8 133.5L187.6 132.5L188.5 131.5L189.5 130.5L190.8 129.5L192.4 128.5L193.5 127.8L194.5 127.3L195.9 126.5L197.5 125.6L198.5 125.1L199.5 124.4L200.9 123.5L202.2 122.5L203.4 121.5L204.4 120.5L205.3 119.5L206.1 118.5L206.9 117.5L207.5 116.5L208.5 114.7L209.0 113.5L209.5 112.3L210.1 110.5L210.5 109.0L210.9 107.5L211.3 105.5L211.5 104.3L211.9 102.5L212.2 100.5L212.5 99.3L212.9 97.5L213.3 95.5L213.5 94.5L214.0 92.5L214.4 90.5L214.6 89.5L214.9 87.5L215.1 85.5L215.4 83.5L215.5 81.5L215.6 80.5L215.7 78.5L215.7 76.5L215.8 74.5L215.8 72.5L215.9 70.5L215.9 68.5L215.9 66.5M336.5 116.9L335.5 117.6L334.1 118.5L332.5 119.4L331.5 120.0L330.4 120.5L328.5 121.3L327.5 121.7L325.5 122.3L324.5 122.5L322.5 122.9L320.5 123.2L318.5 123.4L317.5 123.5L315.5 123.6L313.5 123.8L311.5 123.9L309.5 124.2L308.0 124.5L306.5 124.9L304.6 125.5L303.5 125.9L302.3 126.5L300.5 127.5L299.5 128.2L298.5 128.9L297.5 129.7L296.5 130.6L295.5 131.6L294.5 132.7L293.5 133.9L292.5 135.2L291.6 136.5L290.9 137.5L290.3 138.5L289.5 139.8L288.5 141.4L287.8 142.5L287.1 143.5L286.4 144.5L285.5 145.6L284.5 146.8L283.5 147.9L282.5 149.0L281.5 150.2L280.5 151.4L279.6 152.5L278.8 153.5L278.1 154.5L277.4 155.5L276.5 157.0L275.7 158.5L275.2 159.5L274.5 161.2L274.0 162.5L273.5 164.0L273.0 165.5L272.5 167.4L272.2 168.5L271.6 170.5L271.3 171.5L270.7 173.5L270.3 174.5L269.5 176.4L268.9 177.5L268.4 178.5L267.5 179.9L266.5 181.3L265.6 182.5L264.7 183.5L263.8 184.5L262.9 185.5L261.9 186.5L261.0 187.5L260.1 188.5L259.2 189.5L258.4 190.5L257.5 191.8L256.5 193.5L256.1 194.5L255.5 196.4L255.3 197.5L255.1 199.5L255.1 201.5L255.3 203.5L255.5 204.7L256.0 206.5L256.5 207.9L257.3 209.5L257.9 210.5L258.6 211.5L259.6 212.5L260.7 213.5L262.0 214.5L263.5 215.4L264.5 216.0L265.5 216.5L267.5 217.4L268.5 217.9L270.1 218.5L271.5 219.0L273.0 219.5L274.5 219.9L276.5 220.4L277.5 220.6L279.5 220.9L281.5 221.1L283.5 221.2L285.5 221.1L287.5 221.0L289.5 220.6L290.5 220.4L292.5 219.9L293.6 219.5L295.5 218.7L296.5 218.3L298.1 217.5L299.5 216.7L300.5 216.1L301.6 215.5L303.2 214.5L304.5 213.7L305.5 213.1L306.5 212.5L308.1 211.5L309.5 210.6L310.5 209.9L311.5 209.2L312.5 208.3L313.5 207.1L314.4 205.5L314.8 204.5L315.3 202.5L315.6 201.5L316.5 199.5L317.2 198.5L318.5 197.5L319.5 197.1L321.5 197.0L322.6 197.5L323.6 198.5L324.4 200.5L324.4 202.5L324.1 204.5L323.7 206.5L323.7 208.5L324.2 210.5L324.7 211.5L325.5 212.7L326.5 214.1L327.5 215.4L328.3 216.5L329.1 217.5L329.8 218.5L330.5 219.5L331.5 221.1L332.3 222.5L332.8 223.5L333.5 225.0L334.1 226.5L334.5 227.5L335.1 229.5L335.5 230.8L335.9 232.5L336.3 234.5L336.5 235.9L336.7 237.5L336.7 239.5L336.5 241.5L336.3 242.5L335.7 244.5L335.3 245.5L334.5 247.3L334.0 248.5L333.5 249.7L332.9 251.5L332.5 253.0L332.3 254.5L332.2 256.5L332.3 258.5L332.5 259.7L333.0 261.5L333.5 262.9L334.3 264.5L334.9 265.5L335.6 266.5L336.5 267.5L337.9 268.5L339.5 269.2L340.9 269.5L342.5 269.7L344.5 269.8L346.5 269.8L348.5 269.9L350.5 270.1L352.5 270.5L353.5 270.7L355.5 270.9L357.5 270.7L358.5 270.0L359.5 268.7L360.1 267.5L360.5 266.5L361.2 264.5L361.5 263.5L362.1 261.5L362.5 260.0L362.9 258.5L363.5 256.8L363.9 255.5L364.5 254.0L365.1 252.5L365.5 251.4L366.3 249.5L366.6 248.5L367.4 246.5L367.8 245.5L368.4 243.5L368.8 242.5L369.4 240.5L369.7 239.5L370.3 237.5L370.7 236.5L371.3 234.5L371.7 233.5L372.4 231.5L372.8 230.5L373.5 228.7L374.0 227.5L374.5 226.5L375.4 224.5L375.9 223.5L376.5 222.3L377.5 220.5L378.0 219.5L378.5 218.5L379.5 216.7L380.2 215.5L380.8 214.5L381.5 213.3L382.5 211.7L383.4 210.5L384.2 209.5L385.2 208.5L386.5 207.5L387.5 206.9L388.5 206.4M357.3 305.5L358.5 304.8L359.5 303.9L360.5 302.7L361.2 301.5L361.6 300.5L362.0 298.5L362.0 296.5L361.6 294.5L361.3 293.5L360.5 291.9L359.5 290.5L358.5 289.5L357.5 288.8L356.5 288.4L354.5 288.1L352.5 288.5L351.5 288.8L349.8 289.5L348.5 290.2L347.5 290.8L346.5 291.6L345.5 292.7L344.5 294.3L344.0 295.5L343.8 297.5L344.1 299.5L344.5 300.6L345.5 302.3L346.5 303.5L347.5 304.4L348.5 305.0L349.5 305.5L351.5 306.2L353.5 306.4L355.5 306.1L357.3 305.5L357.3 305.5M309.8 312.5L311.5 311.5L312.5 310.6L313.4 309.5L314.0 308.5L314.5 307.4L315.0 305.5L314.9 303.5L314.5 301.9L313.9 300.5L313.1 299.5L312.1 298.5L310.6 297.5L309.5 297.1L307.5 296.7L305.5 296.9L303.9 297.5L302.5 298.3L301.5 299.2L300.5 300.5L300.0 301.5L299.5 302.6L299.1 304.5L299.1 306.5L299.5 308.4L300.0 309.5L300.6 310.5L301.5 311.5L303.0 312.5L304.5 313.1L306.5 313.3L308.5 313.0L309.8 312.5L309.8 312.5M293.5 86.3L292.5 86.5L290.5 86.8L288.5 87.2L286.9 87.5L285.5 87.8L283.5 88.3L282.5 88.6L280.5 89.3L279.5 89.7L277.8 90.5L276.5 91.1L275.5 91.6L273.7 92.5L272.5 93.1L271.5 93.6L269.6 94.5L268.5 95.0L267.2 95.5L265.5 96.1L264.2 96.5L262.5 96.9L260.5 97.2L258.5 97.3L256.5 97.1L254.5 96.8L253.5 96.5L251.5 95.6L250.5 95.0L249.5 94.3L248.5 93.3L247.5 92.1L246.5 90.5L246.0 89.5L245.5 88.1L245.0 86.5L244.6 84.5L244.4 83.5L244.2 81.5L244.0 79.5L243.9 77.5L243.8 75.5L243.7 73.5L243.7 71.5L243.7 69.5M219.5 221.5L218.3 221.5L216.5 221.5L214.5 221.4L212.5 221.2L210.5 221.0L208.5 220.8L206.5 220.6L205.5 220.4L203.5 220.2L201.5 220.0L199.5 219.7L198.0 219.5L196.5 219.3L194.5 218.9L193.1 218.5L191.5 217.9L190.5 217.5L188.8 216.5L187.6 215.5L186.7 214.5L186.0 213.5L185.4 212.5L184.5 210.5L184.2 209.5L183.7 207.5L183.5 206.0L183.4 204.5L183.3 202.5L183.3 200.5L183.5 198.5L183.6 197.5L184.0 195.5L184.5 193.8L185.0 192.5L185.5 191.3L186.4 189.5L187.0 188.5L187.6 187.5L188.5 186.1L189.5 184.7L190.3 183.5L191.0 182.5L191.6 181.5L192.5 179.9L193.2 178.5L193.5 177.5L193.9 175.5L193.9 173.5L193.7 171.5L193.5 170.5L193.0 168.5L192.6 166.5L192.4 165.5L192.2 163.5L192.1 161.5L192.3 159.5L192.5 158.3L193.0 156.5L193.5 155.3L194.5 153.5L195.2 152.5L195.9 151.5L196.8 150.5L197.8 149.5L198.8 148.5L199.9 147.5L200.9 146.5L201.9 145.5L202.8 144.5L203.6 143.5L204.5 142.0L205.3 140.5L205.8 139.5L206.5 137.9L207.2 136.5L207.7 135.5L208.5 134.2L209.5 132.7L210.4 131.5L211.3 130.5L212.4 129.5L213.5 128.5L214.5 127.8L215.5 127.1L216.5 126.4L218.0 125.5L219.5 124.6L220.5 124.0L221.5 123.4L222.8 122.5L224.3 121.5L225.5 120.7L226.5 120.1L227.7 119.5L229.5 118.7L230.5 118.4L232.5 117.9L234.5 117.7L236.5 117.7L238.5 118.1L239.7 118.5L241.5 119.4L242.5 120.0L243.5 120.8L244.5 121.9L245.5 123.2L246.3 124.5L246.8 125.5L247.4 127.5L247.6 128.5L247.9 130.5L248.0 132.5L247.9 134.5L247.8 136.5L247.7 138.5L247.6 140.5L247.5 142.5L247.5 143.5L247.3 145.5L247.1 147.5L246.7 149.5L246.4 150.5L245.8 152.5L245.4 153.5L244.5 155.2L243.7 156.5L243.1 157.5L242.3 158.5L241.4 159.5L240.5 160.5L239.4 161.5L238.3 162.5L237.1 163.5L236.0 164.5L234.8 165.5L233.8 166.5L233.0 167.5L232.4 168.5L231.8 170.5L231.9 172.5L232.5 174.5L232.8 175.5L233.5 177.0L234.2 178.5L234.7 179.5L235.5 181.2L236.1 182.5L236.5 183.6L237.1 185.5L237.5 186.7L237.9 188.5L238.3 190.5L238.5 191.8L238.7 193.5L238.9 195.5L239.0 197.5L239.1 199.5L239.2 201.5L239.2 203.5L239.1 205.5L239.0 207.5L238.7 209.5L238.5 210.5L238.0 212.5L237.5 213.7L236.6 215.5L235.8 216.5L234.9 217.5L233.6 218.5L232.5 219.2L231.5 219.6L229.5 220.4L228.5 220.6L226.5 221.0L224.5 221.3L222.5 221.4L220.5 221.5L219.5 221.5L219.5 221.5M316.5 279.6L314.5 279.8L312.5 279.9L310.5 280.0L308.5 280.0L306.5 280.0L304.5 279.8L303.4 279.5L302.5 277.8L302.4 276.5L302.3 274.5L302.3 272.5L302.3 270.5L302.3 268.5L302.3 266.5L302.3 264.5L302.3 262.5L302.4 260.5L302.5 258.5L302.5 257.4L302.6 255.5L302.7 253.5L302.9 251.5L303.1 249.5L303.3 247.5L303.5 246.1L303.7 244.5L304.0 242.5L304.3 240.5L304.5 239.5L305.0 237.5L305.5 235.9L306.1 234.5L306.6 233.5L307.5 232.3L308.5 231.4L310.5 230.6L312.5 230.8L314.0 231.5L315.5 232.5L316.5 233.2L317.5 234.0L318.5 234.8L319.5 235.5L320.7 236.5L321.8 237.5L322.8 238.5L323.6 239.5L324.5 241.4L324.8 242.5L324.9 244.5L324.7 246.5L324.5 247.8L324.2 249.5L323.9 251.5L323.6 253.5L323.5 255.5L323.6 257.5L323.7 259.5L324.0 261.5L324.4 263.5L324.6 264.5L325.1 266.5L325.5 268.3L325.7 269.5L326.0 271.5L325.9 273.5L325.5 275.0L324.6 276.5L323.5 277.4L322.5 278.0L321.4 278.5L319.5 279.1L317.5 279.5L316.5 279.6L316.5 279.6M287.5 309.7L285.5 310.1L283.5 310.1L281.5 309.9L279.7 309.5L278.5 309.1L277.0 308.5L275.5 307.6L274.5 306.9L273.5 305.8L272.5 304.5L271.9 303.5L271.4 302.5L270.7 300.5L270.4 299.5L269.9 297.5L269.5 295.8L269.2 294.5L268.5 292.5L268.1 291.5L267.5 290.4L266.5 289.3L265.5 288.5L263.5 287.5L262.5 287.2L260.5 286.8L258.5 286.6L257.5 286.5L255.5 286.4L253.5 286.4L251.5 286.4L249.5 286.5L248.5 286.6L246.5 286.8L244.5 287.1L242.5 287.5L241.5 287.7L239.5 288.1L237.9 288.5L236.5 288.9L234.5 289.3L233.5 289.5L231.5 289.9L229.5 290.2L227.6 290.5L226.5 290.6L224.5 290.8L222.5 291.0L220.5 291.0L218.5 291.0L216.5 291.0L214.5 290.8L212.5 290.5L211.5 290.4L209.5 290.0L207.6 289.5L206.5 289.2L204.5 288.7L203.5 288.4L201.5 287.8L200.4 287.5L198.5 287.0L196.9 286.5L195.5 286.1L193.5 285.5L192.5 285.2L190.5 284.5L189.5 284.2L187.9 283.5L186.5 282.9L185.5 282.3L184.0 281.5L182.5 280.5L181.5 279.8L180.5 279.0L179.5 278.2L178.5 277.2L177.5 276.2L176.5 275.1L175.5 273.7L174.7 272.5L174.2 271.5L173.5 269.6L173.2 268.5L173.1 266.5L173.4 264.5L173.6 263.5L174.5 261.6L175.1 260.5L175.8 259.5L176.6 258.5L177.6 257.5L178.6 256.5L179.8 255.5L181.1 254.5L182.5 253.6L183.5 253.0L184.5 252.4L186.3 251.5L187.5 251.0L188.5 250.5L190.5 249.6L191.5 249.2L193.1 248.5L194.5 247.9L195.5 247.4L197.4 246.5L198.5 246.0L199.5 245.5L201.4 244.5L202.5 243.9L203.5 243.4L205.5 242.5L206.5 242.0L207.9 241.5L209.5 240.9L211.0 240.5L212.5 240.2L214.5 239.9L216.5 239.8L218.5 239.8L220.5 239.9L222.5 240.2L224.5 240.4L225.5 240.6L227.5 240.9L229.5 241.3L231.0 241.5L232.5 241.7L234.5 241.9L236.5 242.1L238.5 242.1L240.5 242.0L242.5 241.7L244.0 241.5L245.5 241.2L247.5 240.9L249.4 240.5L250.5 240.3L252.5 239.9L254.5 239.6L255.7 239.5L257.5 239.3L259.5 239.2L261.5 239.2L263.5 239.3L265.2 239.5L266.5 239.8L268.5 240.4L269.5 240.8L270.8 241.5L272.4 242.5L273.5 243.4L274.5 244.4L275.5 245.5L276.3 246.5L276.9 247.5L277.5 248.5L278.4 250.5L278.7 251.5L279.1 253.5L279.3 255.5L279.4 257.5L279.3 259.5L279.1 261.5L278.9 263.5L278.7 265.5L278.5 267.5L278.5 268.5L278.4 270.5L278.5 272.5L278.6 273.5L279.2 275.5L279.7 276.5L280.6 277.5L282.1 278.5L283.5 279.0L285.4 279.5L286.5 279.7L288.5 279.9L290.5 280.1L292.5 280.2L294.5 280.3L296.5 280.4L298.3 280.5L299.5 280.7L301.1 281.5L301.3 283.5L301.0 285.5L300.5 286.9L299.7 288.5L299.1 289.5L298.4 290.5L297.5 291.8L296.5 293.2L295.7 294.5L295.0 295.5L294.5 296.5L293.5 298.4L293.0 299.5L292.5 300.9L291.9 302.5L291.5 303.9L291.0 305.5L290.5 306.7L289.5 308.4L288.5 309.2L287.5 309.7L287.5 309.7M321.5 383.7L319.5 384.1L317.5 384.1L315.5 384.0L313.5 383.6L312.5 383.3L310.5 382.5L309.5 382.1L308.2 381.5L306.5 380.7L305.5 380.4L303.5 380.2L301.8 380.5L300.5 380.9L298.6 381.5L297.5 381.9L295.5 382.4L294.5 382.6L292.5 382.9L290.5 382.9L288.5 382.8L286.6 382.5L285.5 382.3L283.5 381.7L282.5 381.3L280.5 380.5L279.5 380.1L278.1 379.5L276.5 379.0L274.5 378.8L272.5 379.1L271.0 379.5L269.5 380.0L267.7 380.5L266.5 380.8L264.5 381.2L262.5 381.4L260.5 381.4L258.5 381.2L256.5 380.8L255.3 380.5L253.5 379.9L252.5 379.4L250.8 378.5L249.5 377.6L248.5 376.8L247.5 375.9L246.5 374.7L245.6 373.5L245.1 372.5L244.5 371.3L243.9 369.5L243.5 367.8L243.3 366.5L243.2 364.5L243.1 362.5L243.1 360.5L243.0 358.5L242.5 356.5L241.6 355.5L240.5 355.1L238.5 354.9L236.5 354.9L234.5 355.0L232.5 355.2L230.5 355.2L228.5 355.2L226.5 355.1L224.5 355.0L222.5 354.7L221.5 354.5L219.5 354.0L218.0 353.5L216.5 352.9L215.5 352.4L214.0 351.5L212.6 350.5L211.5 349.6L210.5 348.6L209.5 347.5L208.7 346.5L208.1 345.5L207.5 344.5L206.6 342.5L206.2 341.5L205.7 339.5L205.5 338.5L205.2 336.5L205.2 334.5L205.2 332.5L205.3 330.5L205.5 329.1L205.7 327.5L206.0 325.5L206.4 323.5L206.7 322.5L207.2 320.5L207.5 319.4L208.2 317.5L208.6 316.5L209.5 314.7L210.2 313.5L211.0 312.5L211.8 311.5L212.9 310.5L214.3 309.5L215.5 308.8L216.5 308.3L218.5 307.6L219.5 307.3L221.5 307.0L223.5 306.8L225.5 306.8L227.5 307.0L229.5 307.3L230.5 307.6L232.5 308.2L233.5 308.6L235.2 309.5L236.5 310.3L237.5 311.1L238.5 312.0L239.5 313.0L240.5 314.2L241.4 315.5L242.0 316.5L242.5 317.5L243.4 319.5L243.8 320.5L244.5 322.5L244.8 323.5L245.4 325.5L245.7 326.5L246.2 328.5L246.5 330.0L246.8 331.5L247.2 333.5L247.5 334.9L247.8 336.5L248.2 338.5L248.5 340.2L248.8 341.5L249.3 343.5L249.7 344.5L250.5 345.8L251.5 346.6L253.5 347.2L255.5 347.3L257.5 347.4L259.2 347.5L260.5 347.6L262.5 347.7L264.5 348.0L266.5 348.4L267.5 348.6L269.5 349.1L271.3 349.5L272.5 349.8L274.5 350.1L276.5 350.3L278.5 350.3L280.5 350.2L282.5 350.0L284.5 349.9L286.5 349.7L288.5 349.6L290.5 349.6L292.5 349.6L294.5 349.7L296.5 349.9L298.5 350.1L300.5 350.4L301.5 350.5L303.5 350.8L305.5 351.1L307.5 351.2L309.5 351.3L311.5 351.3L313.5 351.2L315.5 351.2L317.5 351.3L319.5 351.3L321.5 351.5L322.5 351.6L324.5 352.0L326.5 352.4L327.5 352.7L329.4 353.5L330.5 354.1L331.5 354.8L332.5 355.6L333.5 356.7L334.5 358.2L335.1 359.5L335.5 361.1L335.7 362.5L335.7 364.5L335.5 366.5L335.4 367.5L334.9 369.5L334.5 370.8L333.9 372.5L333.4 373.5L332.5 375.3L331.7 376.5L331.0 377.5L330.2 378.5L329.2 379.5L328.1 380.5L326.7 381.5L325.5 382.2L324.5 382.7L322.5 383.5L321.5 383.7L321.5 383.7M75.5 376.0L77.3 375.5L78.5 375.1L80.3 374.5L81.5 374.0L82.7 373.5L84.5 372.7L85.5 372.2L87.0 371.5L88.5 370.8L89.5 370.3L91.4 369.5L92.5 369.0L94.0 368.5L95.5 368.0L97.3 367.5L98.5 367.2L100.5 366.6L101.5 366.4L103.5 365.8L104.5 365.4L106.5 364.6L107.5 364.1L108.5 363.4L109.8 362.5L110.9 361.5L112.0 360.5L113.0 359.5L114.0 358.5L115.0 357.5L116.1 356.5L117.1 355.5L118.3 354.5L119.5 353.5L120.5 352.8L121.5 352.1L122.5 351.4L124.2 350.5L125.5 349.9L126.5 349.5L128.5 348.9L130.1 348.5L131.5 348.3L133.5 348.2L135.5 348.3L136.9 348.5L138.5 348.9L139.8 349.5L141.4 350.5L142.4 351.5L143.2 352.5L143.8 353.5L144.5 355.4L144.8 356.5L145.1 358.5L145.2 360.5L145.1 362.5L144.8 364.5L144.5 366.1L144.1 367.5L143.5 369.2L142.9 370.5L142.3 371.5L141.5 372.9L140.5 374.2L139.5 375.4L138.5 376.5L137.5 377.5L136.5 378.4L135.5 379.2L134.5 380.0L133.5 380.8L132.5 381.5L131.3 382.5L130.2 383.5L129.2 384.5L128.4 385.5L127.5 386.8L126.6 388.5L126.1 389.5L125.5 391.0L124.9 392.5L124.5 393.5L123.6 395.5L123.2 396.5L122.5 397.8L121.5 399.5L120.9 400.5L120.2 401.5L119.5 402.5L118.5 403.9L117.5 405.1L116.5 406.3L115.5 407.5L114.6 408.5M187.5 374.5L186.5 374.4L184.5 373.6L183.5 372.8L182.5 371.6L182.0 370.5L181.6 368.5L181.9 366.5L182.5 365.1L183.5 363.8L184.5 363.0L185.5 362.5L187.5 362.1L189.5 362.3L190.5 362.7L191.7 363.5L192.7 364.5L193.5 365.8L194.0 367.5L193.9 369.5L193.5 370.8L192.5 372.3L191.5 373.2L190.5 373.8L188.5 374.5L187.5 374.5L187.5 374.5M180.5 409.5L178.5 409.7L176.5 409.5L175.5 409.3L173.6 408.5L172.5 407.9L171.5 407.1L170.5 406.2L169.5 405.0L168.6 403.5L168.2 402.5L167.6 400.5L167.5 398.5L167.5 398.5L167.7 396.5L168.2 394.5L168.6 393.5L169.5 391.8L170.4 390.5L171.2 389.5L172.2 388.5L173.4 387.5L174.5 386.8L175.5 386.3L177.5 385.7L179.5 385.6L181.5 385.9L183.0 386.5L184.5 387.3L185.5 388.1L186.5 389.1L187.5 390.4L188.2 391.5L188.7 392.5L189.5 394.5L189.7 395.5L190.0 397.5L189.9 399.5L189.5 401.5L189.1 402.5L188.5 403.8L187.5 405.3L186.5 406.4L185.5 407.2L184.5 407.9L183.5 408.5L181.5 409.3L180.5 409.5L180.5 409.5M230.5 428.8L228.5 428.9L227.0 428.5L225.5 427.7L224.5 426.7L223.7 425.5L223.3 424.5L223.0 422.5L223.3 420.5L223.7 419.5L224.5 418.2L225.5 417.3L227.0 416.5L228.5 416.1L230.5 416.2L231.5 416.5L233.1 417.5L234.0 418.5L234.7 419.5L235.3 421.5L235.3 423.5L234.6 425.5L234.0 426.5L233.0 427.5L231.5 428.5L230.5 428.8L230.5 428.8"/></g>
<g fill="none" stroke="#163020" stroke-opacity="0.85" stroke-width="1.1"><circle cx="157.1" cy="84.0" r="1.75"/><circle cx="178.5" cy="83.7" r="1.75"/><circle cx="198.4" cy="83.6" r="1.75"/><circle cx="219.7" cy="83.1" r="1.75"/><circle cx="241.2" cy="82.5" r="1.75"/><circle cx="261.4" cy="81.4" r="1.75"/><circle cx="124.5" cy="100.7" r="1.75"/><circle cx="145.6" cy="99.8" r="1.75"/><circle cx="165.3" cy="102.5" r="1.75"/><circle cx="189.7" cy="103.7" r="1.75"/><circle cx="211.6" cy="101.6" r="1.75"/><circle cx="229.2" cy="101.3" r="1.75"/><circle cx="254.9" cy="102.8" r="1.75"/><circle cx="274.2" cy="101.1" r="1.75"/><circle cx="294.4" cy="99.7" r="1.75"/><circle cx="89.9" cy="118.8" r="1.75"/><circle cx="114.0" cy="121.9" r="1.75"/><circle cx="133.8" cy="117.8" r="1.75"/><circle cx="157.9" cy="118.9" r="1.75"/><circle cx="178.8" cy="118.3" r="1.75"/><circle cx="200.0" cy="121.7" r="1.75"/><circle cx="221.7" cy="119.3" r="1.75"/><circle cx="243.2" cy="118.2" r="1.75"/><circle cx="262.6" cy="119.6" r="1.75"/><circle cx="286.9" cy="118.2" r="1.75"/><circle cx="308.5" cy="121.5" r="1.75"/><circle cx="330.4" cy="119.3" r="1.75"/><circle cx="82.5" cy="138.8" r="1.75"/><circle cx="103.7" cy="137.2" r="1.75"/><circle cx="126.1" cy="139.8" r="1.75"/><circle cx="144.5" cy="140.8" r="1.75"/><circle cx="167.8" cy="140.3" r="1.75"/><circle cx="186.0" cy="136.4" r="1.75"/><circle cx="211.0" cy="137.6" r="1.75"/><circle cx="231.4" cy="136.9" r="1.75"/><circle cx="255.2" cy="138.6" r="1.75"/><circle cx="275.9" cy="136.5" r="1.75"/><circle cx="295.7" cy="136.4" r="1.75"/><circle cx="319.2" cy="138.3" r="1.75"/><circle cx="336.6" cy="136.5" r="1.75"/><circle cx="68.8" cy="157.1" r="1.75"/><circle cx="89.1" cy="154.9" r="1.75"/><circle cx="112.9" cy="155.5" r="1.75"/><circle cx="135.4" cy="158.7" r="1.75"/><circle cx="156.4" cy="158.2" r="1.75"/><circle cx="177.0" cy="154.9" r="1.75"/><circle cx="198.7" cy="156.6" r="1.75"/><circle cx="221.0" cy="155.4" r="1.75"/><circle cx="240.7" cy="158.8" r="1.75"/><circle cx="262.4" cy="156.8" r="1.75"/><circle cx="287.2" cy="156.1" r="1.75"/><circle cx="304.8" cy="158.2" r="1.75"/><circle cx="328.4" cy="157.8" r="1.75"/><circle cx="347.3" cy="156.8" r="1.75"/><circle cx="57.0" cy="177.7" r="1.75"/><circle cx="81.7" cy="175.6" r="1.75"/><circle cx="103.2" cy="175.6" r="1.75"/><circle cx="125.2" cy="173.9" r="1.75"/><circle cx="145.3" cy="177.7" r="1.75"/><circle cx="168.9" cy="174.4" r="1.75"/><circle cx="187.1" cy="177.8" r="1.75"/><circle cx="209.0" cy="173.6" r="1.75"/><circle cx="232.4" cy="175.4" r="1.75"/><circle cx="254.0" cy="175.7" r="1.75"/><circle cx="274.3" cy="175.4" r="1.75"/><circle cx="294.8" cy="177.8" r="1.75"/><circle cx="318.1" cy="177.3" r="1.75"/><circle cx="340.8" cy="174.6" r="1.75"/><circle cx="362.4" cy="177.6" r="1.75"/><circle cx="49.4" cy="195.9" r="1.75"/><circle cx="72.5" cy="192.4" r="1.75"/><circle cx="92.2" cy="194.8" r="1.75"/><circle cx="113.8" cy="194.7" r="1.75"/><circle cx="134.8" cy="196.3" r="1.75"/><circle cx="155.8" cy="194.6" r="1.75"/><circle cx="178.5" cy="192.4" r="1.75"/><circle cx="198.7" cy="192.5" r="1.75"/><circle cx="218.7" cy="192.0" r="1.75"/><circle cx="240.6" cy="193.0" r="1.75"/><circle cx="263.6" cy="194.8" r="1.75"/><circle cx="286.7" cy="194.4" r="1.75"/><circle cx="308.5" cy="193.9" r="1.75"/><circle cx="329.3" cy="194.7" r="1.75"/><circle cx="350.2" cy="193.3" r="1.75"/><circle cx="373.2" cy="195.8" r="1.75"/><circle cx="38.1" cy="215.3" r="1.75"/><circle cx="58.5" cy="213.4" r="1.75"/><circle cx="78.6" cy="213.3" r="1.75"/><circle cx="101.9" cy="215.5" r="1.75"/><circle cx="126.0" cy="211.3" r="1.75"/><circle cx="143.0" cy="211.2" r="1.75"/><circle cx="165.3" cy="214.2" r="1.75"/><circle cx="188.5" cy="213.2" r="1.75"/><circle cx="209.6" cy="210.6" r="1.75"/><circle cx="230.8" cy="215.6" r="1.75"/><circle cx="254.4" cy="213.4" r="1.75"/><circle cx="272.8" cy="215.2" r="1.75"/><circle cx="295.4" cy="213.7" r="1.75"/><circle cx="315.8" cy="212.2" r="1.75"/><circle cx="338.0" cy="212.5" r="1.75"/><circle cx="357.9" cy="213.9" r="1.75"/><circle cx="380.1" cy="213.6" r="1.75"/><circle cx="46.1" cy="233.6" r="1.75"/><circle cx="69.0" cy="231.1" r="1.75"/><circle cx="93.9" cy="231.4" r="1.75"/><circle cx="114.1" cy="231.2" r="1.75"/><circle cx="136.6" cy="232.8" r="1.75"/><circle cx="156.0" cy="229.6" r="1.75"/><circle cx="176.9" cy="231.6" r="1.75"/><circle cx="198.0" cy="231.9" r="1.75"/><circle cx="219.1" cy="231.7" r="1.75"/><circle cx="242.2" cy="232.5" r="1.75"/><circle cx="264.8" cy="232.8" r="1.75"/><circle cx="284.7" cy="231.5" r="1.75"/><circle cx="308.4" cy="231.0" r="1.75"/><circle cx="329.2" cy="234.2" r="1.75"/><circle cx="351.7" cy="231.9" r="1.75"/><circle cx="370.1" cy="232.3" r="1.75"/><circle cx="35.4" cy="251.5" r="1.75"/><circle cx="58.6" cy="250.3" r="1.75"/><circle cx="78.6" cy="248.7" r="1.75"/><circle cx="103.3" cy="250.8" r="1.75"/><circle cx="125.6" cy="252.6" r="1.75"/><circle cx="144.6" cy="250.9" r="1.75"/><circle cx="166.5" cy="250.3" r="1.75"/><circle cx="187.8" cy="252.7" r="1.75"/><circle cx="210.4" cy="248.5" r="1.75"/><circle cx="232.3" cy="252.6" r="1.75"/><circle cx="254.8" cy="250.6" r="1.75"/><circle cx="271.9" cy="251.8" r="1.75"/><circle cx="298.0" cy="251.5" r="1.75"/><circle cx="316.9" cy="249.7" r="1.75"/><circle cx="340.0" cy="248.3" r="1.75"/><circle cx="361.7" cy="250.3" r="1.75"/><circle cx="379.7" cy="251.9" r="1.75"/><circle cx="48.2" cy="270.4" r="1.75"/><circle cx="70.0" cy="270.7" r="1.75"/><circle cx="90.9" cy="269.6" r="1.75"/><circle cx="111.6" cy="270.6" r="1.75"/><circle cx="136.2" cy="269.2" r="1.75"/><circle cx="155.2" cy="268.2" r="1.75"/><circle cx="178.0" cy="267.1" r="1.75"/><circle cx="199.1" cy="267.9" r="1.75"/><circle cx="219.8" cy="268.0" r="1.75"/><circle cx="243.7" cy="267.3" r="1.75"/><circle cx="262.2" cy="267.2" r="1.75"/><circle cx="282.6" cy="268.5" r="1.75"/><circle cx="308.3" cy="270.9" r="1.75"/><circle cx="328.0" cy="268.5" r="1.75"/><circle cx="351.4" cy="269.1" r="1.75"/><circle cx="371.3" cy="269.7" r="1.75"/><circle cx="35.6" cy="289.4" r="1.75"/><circle cx="56.9" cy="288.4" r="1.75"/><circle cx="82.8" cy="285.8" r="1.75"/><circle cx="102.4" cy="288.6" r="1.75"/><circle cx="122.2" cy="286.3" r="1.75"/><circle cx="143.1" cy="285.8" r="1.75"/><circle cx="164.9" cy="286.5" r="1.75"/><circle cx="189.6" cy="288.5" r="1.75"/><circle cx="211.1" cy="288.3" r="1.75"/><circle cx="232.8" cy="285.8" r="1.75"/><circle cx="253.1" cy="285.1" r="1.75"/><circle cx="274.3" cy="289.3" r="1.75"/><circle cx="295.7" cy="286.5" r="1.75"/><circle cx="316.2" cy="287.0" r="1.75"/><circle cx="340.9" cy="289.9" r="1.75"/><circle cx="361.5" cy="290.0" r="1.75"/><circle cx="383.1" cy="286.5" r="1.75"/><circle cx="50.9" cy="304.3" r="1.75"/><circle cx="72.5" cy="305.5" r="1.75"/><circle cx="93.1" cy="303.7" r="1.75"/><circle cx="112.8" cy="304.9" r="1.75"/><circle cx="135.5" cy="307.0" r="1.75"/><circle cx="155.9" cy="307.2" r="1.75"/><circle cx="179.9" cy="304.1" r="1.75"/><circle cx="199.4" cy="307.0" r="1.75"/><circle cx="221.2" cy="305.0" r="1.75"/><circle cx="243.9" cy="304.9" r="1.75"/><circle cx="265.3" cy="306.0" r="1.75"/><circle cx="283.3" cy="307.8" r="1.75"/><circle cx="304.4" cy="307.6" r="1.75"/><circle cx="328.6" cy="308.0" r="1.75"/><circle cx="351.1" cy="305.7" r="1.75"/><circle cx="369.2" cy="305.0" r="1.75"/><circle cx="60.5" cy="322.4" r="1.75"/><circle cx="81.4" cy="325.8" r="1.75"/><circle cx="102.3" cy="322.5" r="1.75"/><circle cx="122.6" cy="323.5" r="1.75"/><circle cx="144.1" cy="323.6" r="1.75"/><circle cx="169.2" cy="326.2" r="1.75"/><circle cx="190.3" cy="325.8" r="1.75"/><circle cx="209.0" cy="327.0" r="1.75"/><circle cx="231.2" cy="323.2" r="1.75"/><circle cx="253.9" cy="323.6" r="1.75"/><circle cx="275.9" cy="326.0" r="1.75"/><circle cx="294.8" cy="324.6" r="1.75"/><circle cx="318.4" cy="325.6" r="1.75"/><circle cx="338.9" cy="323.3" r="1.75"/><circle cx="359.4" cy="325.7" r="1.75"/><circle cx="68.1" cy="344.8" r="1.75"/><circle cx="93.3" cy="344.3" r="1.75"/><circle cx="114.3" cy="342.1" r="1.75"/><circle cx="132.6" cy="342.5" r="1.75"/><circle cx="154.2" cy="343.0" r="1.75"/><circle cx="178.9" cy="342.3" r="1.75"/><circle cx="200.8" cy="343.2" r="1.75"/><circle cx="218.9" cy="344.1" r="1.75"/><circle cx="241.7" cy="342.5" r="1.75"/><circle cx="263.6" cy="345.9" r="1.75"/><circle cx="286.3" cy="342.4" r="1.75"/><circle cx="308.7" cy="341.8" r="1.75"/><circle cx="327.6" cy="342.8" r="1.75"/><circle cx="352.0" cy="340.9" r="1.75"/><circle cx="80.5" cy="359.7" r="1.75"/><circle cx="104.4" cy="361.0" r="1.75"/><circle cx="122.7" cy="359.8" r="1.75"/><circle cx="146.4" cy="364.1" r="1.75"/><circle cx="166.6" cy="363.6" r="1.75"/><circle cx="187.4" cy="361.4" r="1.75"/><circle cx="208.8" cy="361.0" r="1.75"/><circle cx="231.6" cy="361.1" r="1.75"/><circle cx="250.6" cy="363.0" r="1.75"/><circle cx="273.3" cy="361.5" r="1.75"/><circle cx="294.2" cy="359.8" r="1.75"/><circle cx="318.1" cy="361.6" r="1.75"/><circle cx="341.0" cy="359.6" r="1.75"/><circle cx="91.9" cy="378.6" r="1.75"/><circle cx="110.9" cy="382.0" r="1.75"/><circle cx="135.6" cy="381.4" r="1.75"/><circle cx="154.7" cy="382.1" r="1.75"/><circle cx="177.9" cy="378.9" r="1.75"/><circle cx="197.4" cy="381.2" r="1.75"/><circle cx="222.9" cy="381.1" r="1.75"/><circle cx="241.0" cy="381.7" r="1.75"/><circle cx="262.1" cy="381.3" r="1.75"/><circle cx="284.6" cy="378.3" r="1.75"/><circle cx="306.6" cy="380.7" r="1.75"/><circle cx="330.1" cy="381.7" r="1.75"/><circle cx="124.5" cy="401.4" r="1.75"/><circle cx="143.0" cy="399.3" r="1.75"/><circle cx="168.0" cy="400.1" r="1.75"/><circle cx="190.1" cy="400.0" r="1.75"/><circle cx="210.5" cy="399.8" r="1.75"/><circle cx="229.6" cy="401.0" r="1.75"/><circle cx="252.9" cy="396.9" r="1.75"/><circle cx="275.9" cy="400.2" r="1.75"/><circle cx="296.6" cy="397.0" r="1.75"/><circle cx="156.1" cy="416.6" r="1.75"/><circle cx="179.9" cy="420.4" r="1.75"/><circle cx="198.0" cy="418.4" r="1.75"/><circle cx="222.5" cy="418.3" r="1.75"/><circle cx="241.3" cy="419.6" r="1.75"/><circle cx="263.7" cy="418.5" r="1.75"/><circle cx="66.3" cy="121.9" r="1.75"/><circle cx="354.9" cy="122.0" r="1.75"/></g>
<g fill="none" stroke="#000" stroke-width="2.7" stroke-linejoin="round"><circle cx="209.8" cy="250.3" r="185.8"/><path d="M243.2 66.2L217.2 38.5L209.8 36.6L202.4 38.5L176.4 66.2"/><path d="M394.5 229.7L399.3 221.5L402.3 221.2L406.7 222.6L411.2 229.7L410.5 252.3L413.1 284.9L407.5 299.1L399.3 301.7L391.5 294.9"/><path d="M25.1 229.7L20.3 221.5L17.3 221.2L12.9 222.6L8.4 229.7L9.1 252.3L6.5 284.9L12.1 299.1L20.3 301.7L28.1 294.9"/></g>
<clipPath id="cr"><circle cx="736.2" cy="250.3" r="185.8"/></clipPath>
<g clip-path="url(#cr)"><g filter="url(#bl)"><path fill="#0000ef" d="M694.0 264.4h5.9v5.9h-5.9zM694.0 270.0h5.9v5.9h-5.9z"/>
<path fill="#0000ff" d="M682.7 258.7h39.7v5.9h-39.7zM761.5 258.7h17.1v5.9h-17.1zM682.7 264.4h11.5v5.9h-11.5zM699.6 264.4h28.4v5.9h-28.4zM761.5 264.4h17.1v5.9h-17.1zM682.7 270.0h11.5v5.9h-11.5zM699.6 270.0h28.4v5.9h-28.4zM682.7 275.6h39.7v5.9h-39.7zM688.3 281.3h28.4v5.9h-28.4zM694.0 286.9h11.5v5.9h-11.5z"/>
<path fill="#0010ff" d="M767.2 247.5h11.5v5.9h-11.5zM682.7 253.1h56.6v5.9h-56.6zM755.9 253.1h28.4v5.9h-28.4zM722.1 258.7h39.7v5.9h-39.7zM778.4 258.7h11.5v5.9h-11.5zM677.1 264.4h5.9v5.9h-5.9zM727.8 264.4h34.0v5.9h-34.0zM778.4 264.4h11.5v5.9h-11.5zM677.1 270.0h5.9v5.9h-5.9zM727.8 270.0h56.6v5.9h-56.6zM677.1 275.6h5.9v5.9h-5.9zM722.1 275.6h22.8v5.9h-22.8zM682.7 281.3h5.9v5.9h-5.9zM716.5 281.3h17.1v5.9h-17.1zM682.7 286.9h11.5v5.9h-11.5zM705.2 286.9h22.8v5.9h-22.8zM688.3 292.5h28.4v5.9h-28.4z"/>
<path fill="#0020ff" d="M694.0 247.5h17.1v5.9h-17.1zM761.5 247.5h5.9v5.9h-5.9zM778.4 247.5h5.9v5.9h-5.9zM739.0 253.1h17.1v5.9h-17.1zM784.1 253.1h5.9v5.9h-5.9zM677.1 258.7h5.9v5.9h-5.9zM784.1 270.0h5.9v5.9h-5.9zM744.6 275.6h39.7v5.9h-39.7zM677.1 281.3h5.9v5.9h-5.9zM733.4 281.3h11.5v5.9h-11.5zM727.8 286.9h11.5v5.9h-11.5zM682.7 292.5h5.9v5.9h-5.9zM716.5 292.5h17.1v5.9h-17.1zM688.3 298.2h34.0v5.9h-34.0z"/>
<path fill="#0030ff" d="M761.5 241.9h22.8v5.9h-22.8zM682.7 247.5h11.5v5.9h-11.5zM710.9 247.5h34.0v5.9h-34.0zM750.3 247.5h11.5v5.9h-11.5zM784.1 247.5h5.9v5.9h-5.9zM677.1 253.1h5.9v5.9h-5.9zM789.7 258.7h5.9v5.9h-5.9zM789.7 264.4h5.9v5.9h-5.9zM671.5 270.0h5.9v5.9h-5.9zM789.7 270.0h5.9v5.9h-5.9zM784.1 275.6h5.9v5.9h-5.9zM744.6 281.3h28.4v5.9h-28.4zM677.1 286.9h5.9v5.9h-5.9zM739.0 286.9h5.9v5.9h-5.9zM733.4 292.5h5.9v5.9h-5.9zM682.7 298.2h5.9v5.9h-5.9zM722.1 298.2h11.5v5.9h-11.5zM694.0 303.8h28.4v5.9h-28.4z"/>
<path fill="#0040ff" d="M750.3 236.2h34.0v5.9h-34.0zM705.2 241.9h56.6v5.9h-56.6zM744.6 247.5h5.9v5.9h-5.9zM671.5 258.7h5.9v5.9h-5.9zM671.5 264.4h5.9v5.9h-5.9zM671.5 275.6h5.9v5.9h-5.9zM789.7 275.6h5.9v5.9h-5.9zM772.8 281.3h11.5v5.9h-11.5zM744.6 286.9h17.1v5.9h-17.1zM677.1 292.5h5.9v5.9h-5.9zM739.0 292.5h5.9v5.9h-5.9zM733.4 298.2h5.9v5.9h-5.9zM688.3 303.8h5.9v5.9h-5.9zM722.1 303.8h11.5v5.9h-11.5zM705.2 309.4h22.8v5.9h-22.8z"/>
<path fill="#0050ff" d="M800.9 185.6h17.1v5.9h-17.1zM795.3 191.2h22.8v5.9h-22.8zM716.5 196.8h22.8v5.9h-22.8zM795.3 196.8h22.8v5.9h-22.8zM710.9 202.4h50.9v5.9h-50.9zM795.3 202.4h22.8v5.9h-22.8zM710.9 208.1h56.6v5.9h-56.6zM722.1 213.7h45.3v5.9h-45.3zM739.0 219.3h34.0v5.9h-34.0zM739.0 225.0h39.7v5.9h-39.7zM739.0 230.6h45.3v5.9h-45.3zM727.8 236.2h22.8v5.9h-22.8zM840.4 236.2h5.9v5.9h-5.9zM688.3 241.9h17.1v5.9h-17.1zM784.1 241.9h5.9v5.9h-5.9zM834.7 241.9h17.1v5.9h-17.1zM677.1 247.5h5.9v5.9h-5.9zM829.1 247.5h22.8v5.9h-22.8zM671.5 253.1h5.9v5.9h-5.9zM789.7 253.1h5.9v5.9h-5.9zM829.1 253.1h28.4v5.9h-28.4zM829.1 258.7h28.4v5.9h-28.4zM834.7 264.4h17.1v5.9h-17.1zM795.3 270.0h5.9v5.9h-5.9zM840.4 270.0h11.5v5.9h-11.5zM671.5 281.3h5.9v5.9h-5.9zM784.1 281.3h5.9v5.9h-5.9zM761.5 286.9h17.1v5.9h-17.1zM744.6 292.5h17.1v5.9h-17.1zM677.1 298.2h5.9v5.9h-5.9zM739.0 298.2h11.5v5.9h-11.5zM682.7 303.8h5.9v5.9h-5.9zM733.4 303.8h5.9v5.9h-5.9zM694.0 309.4h11.5v5.9h-11.5zM727.8 309.4h11.5v5.9h-11.5zM710.9 315.0h22.8v5.9h-22.8z"/>
<path fill="#0060ff" d="M694.0 140.5h11.5v5.9h-11.5zM694.0 146.1h11.5v5.9h-11.5zM806.6 174.3h5.9v5.9h-5.9zM795.3 179.9h22.8v5.9h-22.8zM789.7 185.6h11.5v5.9h-11.5zM817.8 185.6h5.9v5.9h-5.9zM710.9 191.2h22.8v5.9h-22.8zM784.1 191.2h11.5v5.9h-11.5zM817.8 191.2h5.9v5.9h-5.9zM699.6 196.8h17.1v5.9h-17.1zM739.0 196.8h34.0v5.9h-34.0zM778.4 196.8h17.1v5.9h-17.1zM817.8 196.8h5.9v5.9h-5.9zM699.6 202.4h11.5v5.9h-11.5zM761.5 202.4h34.0v5.9h-34.0zM817.8 202.4h5.9v5.9h-5.9zM699.6 208.1h11.5v5.9h-11.5zM767.2 208.1h50.9v5.9h-50.9zM705.2 213.7h17.1v5.9h-17.1zM767.2 213.7h28.4v5.9h-28.4zM710.9 219.3h28.4v5.9h-28.4zM772.8 219.3h17.1v5.9h-17.1zM716.5 225.0h22.8v5.9h-22.8zM778.4 225.0h11.5v5.9h-11.5zM710.9 230.6h28.4v5.9h-28.4zM784.1 230.6h5.9v5.9h-5.9zM834.7 230.6h17.1v5.9h-17.1zM694.0 236.2h34.0v5.9h-34.0zM784.1 236.2h5.9v5.9h-5.9zM829.1 236.2h11.5v5.9h-11.5zM846.0 236.2h11.5v5.9h-11.5zM682.7 241.9h5.9v5.9h-5.9zM829.1 241.9h5.9v5.9h-5.9zM851.6 241.9h5.9v5.9h-5.9zM823.5 247.5h5.9v5.9h-5.9zM851.6 247.5h5.9v5.9h-5.9zM823.5 253.1h5.9v5.9h-5.9zM823.5 258.7h5.9v5.9h-5.9zM857.3 258.7h5.9v5.9h-5.9zM795.3 264.4h5.9v5.9h-5.9zM829.1 264.4h5.9v5.9h-5.9zM851.6 264.4h11.5v5.9h-11.5zM829.1 270.0h11.5v5.9h-11.5zM851.6 270.0h5.9v5.9h-5.9zM795.3 275.6h5.9v5.9h-5.9zM834.7 275.6h22.8v5.9h-22.8zM789.7 281.3h5.9v5.9h-5.9zM840.4 281.3h17.1v5.9h-17.1zM671.5 286.9h5.9v5.9h-5.9zM778.4 286.9h11.5v5.9h-11.5zM671.5 292.5h5.9v5.9h-5.9zM761.5 292.5h17.1v5.9h-17.1zM750.3 298.2h17.1v5.9h-17.1zM677.1 303.8h5.9v5.9h-5.9zM739.0 303.8h11.5v5.9h-11.5zM688.3 309.4h5.9v5.9h-5.9zM699.6 315.0h11.5v5.9h-11.5zM733.4 315.0h5.9v5.9h-5.9zM705.2 320.7h28.4v5.9h-28.4zM716.5 326.3h11.5v5.9h-11.5z"/>
<path fill="#0070ff" d="M694.0 134.9h5.9v5.9h-5.9zM688.3 140.5h5.9v5.9h-5.9zM688.3 146.1h5.9v5.9h-5.9zM694.0 151.8h11.5v5.9h-11.5zM806.6 168.7h5.9v5.9h-5.9zM795.3 174.3h11.5v5.9h-11.5zM812.2 174.3h11.5v5.9h-11.5zM789.7 179.9h5.9v5.9h-5.9zM817.8 179.9h5.9v5.9h-5.9zM710.9 185.6h11.5v5.9h-11.5zM784.1 185.6h5.9v5.9h-5.9zM699.6 191.2h11.5v5.9h-11.5zM733.4 191.2h50.9v5.9h-50.9zM694.0 196.8h5.9v5.9h-5.9zM772.8 196.8h5.9v5.9h-5.9zM688.3 202.4h11.5v5.9h-11.5zM688.3 208.1h11.5v5.9h-11.5zM817.8 208.1h5.9v5.9h-5.9zM688.3 213.7h17.1v5.9h-17.1zM795.3 213.7h17.1v5.9h-17.1zM694.0 219.3h17.1v5.9h-17.1zM789.7 219.3h5.9v5.9h-5.9zM694.0 225.0h22.8v5.9h-22.8zM789.7 225.0h5.9v5.9h-5.9zM834.7 225.0h17.1v5.9h-17.1zM688.3 230.6h22.8v5.9h-22.8zM829.1 230.6h5.9v5.9h-5.9zM851.6 230.6h5.9v5.9h-5.9zM682.7 236.2h11.5v5.9h-11.5zM677.1 241.9h5.9v5.9h-5.9zM823.5 241.9h5.9v5.9h-5.9zM857.3 241.9h5.9v5.9h-5.9zM671.5 247.5h5.9v5.9h-5.9zM857.3 247.5h5.9v5.9h-5.9zM857.3 253.1h5.9v5.9h-5.9zM665.8 258.7h5.9v5.9h-5.9zM817.8 258.7h5.9v5.9h-5.9zM665.8 264.4h5.9v5.9h-5.9zM823.5 264.4h5.9v5.9h-5.9zM862.9 264.4h5.9v5.9h-5.9zM665.8 270.0h5.9v5.9h-5.9zM800.9 270.0h5.9v5.9h-5.9zM823.5 270.0h5.9v5.9h-5.9zM857.3 270.0h11.5v5.9h-11.5zM665.8 275.6h5.9v5.9h-5.9zM829.1 275.6h5.9v5.9h-5.9zM857.3 275.6h11.5v5.9h-11.5zM795.3 281.3h5.9v5.9h-5.9zM829.1 281.3h11.5v5.9h-11.5zM857.3 281.3h11.5v5.9h-11.5zM789.7 286.9h5.9v5.9h-5.9zM834.7 286.9h28.4v5.9h-28.4zM778.4 292.5h11.5v5.9h-11.5zM834.7 292.5h28.4v5.9h-28.4zM671.5 298.2h5.9v5.9h-5.9zM767.2 298.2h17.1v5.9h-17.1zM840.4 298.2h17.1v5.9h-17.1zM750.3 303.8h22.8v5.9h-22.8zM682.7 309.4h5.9v5.9h-5.9zM739.0 309.4h11.5v5.9h-11.5zM739.0 315.0h5.9v5.9h-5.9zM733.4 320.7h5.9v5.9h-5.9zM705.2 326.3h11.5v5.9h-11.5zM727.8 326.3h5.9v5.9h-5.9zM716.5 331.9h11.5v5.9h-11.5z"/>
<path fill="#0080ff" d="M699.6 134.9h5.9v5.9h-5.9zM705.2 140.5h5.9v5.9h-5.9zM705.2 146.1h5.9v5.9h-5.9zM688.3 151.8h5.9v5.9h-5.9zM800.9 168.7h5.9v5.9h-5.9zM812.2 168.7h11.5v5.9h-11.5zM784.1 179.9h5.9v5.9h-5.9zM823.5 179.9h5.9v5.9h-5.9zM694.0 185.6h17.1v5.9h-17.1zM722.1 185.6h17.1v5.9h-17.1zM772.8 185.6h11.5v5.9h-11.5zM823.5 185.6h5.9v5.9h-5.9zM688.3 191.2h11.5v5.9h-11.5zM823.5 191.2h5.9v5.9h-5.9zM682.7 196.8h11.5v5.9h-11.5zM823.5 196.8h5.9v5.9h-5.9zM682.7 202.4h5.9v5.9h-5.9zM823.5 202.4h5.9v5.9h-5.9zM682.7 208.1h5.9v5.9h-5.9zM823.5 208.1h5.9v5.9h-5.9zM682.7 213.7h5.9v5.9h-5.9zM812.2 213.7h11.5v5.9h-11.5zM682.7 219.3h11.5v5.9h-11.5zM795.3 219.3h5.9v5.9h-5.9zM834.7 219.3h11.5v5.9h-11.5zM682.7 225.0h11.5v5.9h-11.5zM829.1 225.0h5.9v5.9h-5.9zM851.6 225.0h5.9v5.9h-5.9zM682.7 230.6h5.9v5.9h-5.9zM789.7 230.6h5.9v5.9h-5.9zM857.3 230.6h5.9v5.9h-5.9zM677.1 236.2h5.9v5.9h-5.9zM823.5 236.2h5.9v5.9h-5.9zM857.3 236.2h5.9v5.9h-5.9zM789.7 247.5h5.9v5.9h-5.9zM817.8 247.5h5.9v5.9h-5.9zM862.9 247.5h5.9v5.9h-5.9zM665.8 253.1h5.9v5.9h-5.9zM817.8 253.1h5.9v5.9h-5.9zM862.9 253.1h5.9v5.9h-5.9zM795.3 258.7h5.9v5.9h-5.9zM862.9 258.7h11.5v5.9h-11.5zM817.8 264.4h5.9v5.9h-5.9zM868.5 264.4h5.9v5.9h-5.9zM817.8 270.0h5.9v5.9h-5.9zM868.5 270.0h5.9v5.9h-5.9zM800.9 275.6h5.9v5.9h-5.9zM823.5 275.6h5.9v5.9h-5.9zM868.5 275.6h5.9v5.9h-5.9zM665.8 281.3h5.9v5.9h-5.9zM823.5 281.3h5.9v5.9h-5.9zM868.5 281.3h5.9v5.9h-5.9zM795.3 286.9h5.9v5.9h-5.9zM829.1 286.9h5.9v5.9h-5.9zM862.9 286.9h11.5v5.9h-11.5zM789.7 292.5h5.9v5.9h-5.9zM829.1 292.5h5.9v5.9h-5.9zM862.9 292.5h11.5v5.9h-11.5zM784.1 298.2h11.5v5.9h-11.5zM834.7 298.2h5.9v5.9h-5.9zM857.3 298.2h11.5v5.9h-11.5zM772.8 303.8h17.1v5.9h-17.1zM840.4 303.8h22.8v5.9h-22.8zM677.1 309.4h5.9v5.9h-5.9zM750.3 309.4h22.8v5.9h-22.8zM694.0 315.0h5.9v5.9h-5.9zM744.6 315.0h5.9v5.9h-5.9zM699.6 320.7h5.9v5.9h-5.9zM739.0 320.7h5.9v5.9h-5.9zM733.4 326.3h5.9v5.9h-5.9zM710.9 331.9h5.9v5.9h-5.9zM727.8 331.9h5.9v5.9h-5.9z"/>
<path fill="#008fff" d="M688.3 134.9h5.9v5.9h-5.9zM682.7 140.5h5.9v5.9h-5.9zM682.7 146.1h5.9v5.9h-5.9zM705.2 151.8h5.9v5.9h-5.9zM694.0 157.4h5.9v5.9h-5.9zM806.6 163.0h11.5v5.9h-11.5zM795.3 168.7h5.9v5.9h-5.9zM789.7 174.3h5.9v5.9h-5.9zM823.5 174.3h5.9v5.9h-5.9zM694.0 179.9h34.0v5.9h-34.0zM778.4 179.9h5.9v5.9h-5.9zM682.7 185.6h11.5v5.9h-11.5zM739.0 185.6h34.0v5.9h-34.0zM682.7 191.2h5.9v5.9h-5.9zM823.5 213.7h11.5v5.9h-11.5zM817.8 219.3h17.1v5.9h-17.1zM846.0 219.3h5.9v5.9h-5.9zM677.1 225.0h5.9v5.9h-5.9zM823.5 225.0h5.9v5.9h-5.9zM857.3 225.0h5.9v5.9h-5.9zM677.1 230.6h5.9v5.9h-5.9zM823.5 230.6h5.9v5.9h-5.9zM789.7 236.2h5.9v5.9h-5.9zM862.9 236.2h5.9v5.9h-5.9zM671.5 241.9h5.9v5.9h-5.9zM789.7 241.9h5.9v5.9h-5.9zM817.8 241.9h5.9v5.9h-5.9zM862.9 241.9h5.9v5.9h-5.9zM868.5 247.5h5.9v5.9h-5.9zM868.5 253.1h11.5v5.9h-11.5zM812.2 258.7h5.9v5.9h-5.9zM874.1 258.7h5.9v5.9h-5.9zM800.9 264.4h17.1v5.9h-17.1zM874.1 264.4h5.9v5.9h-5.9zM806.6 270.0h11.5v5.9h-11.5zM874.1 270.0h5.9v5.9h-5.9zM806.6 275.6h17.1v5.9h-17.1zM874.1 275.6h5.9v5.9h-5.9zM800.9 281.3h5.9v5.9h-5.9zM817.8 281.3h5.9v5.9h-5.9zM874.1 281.3h5.9v5.9h-5.9zM665.8 286.9h5.9v5.9h-5.9zM800.9 286.9h5.9v5.9h-5.9zM823.5 286.9h5.9v5.9h-5.9zM874.1 286.9h5.9v5.9h-5.9zM795.3 292.5h5.9v5.9h-5.9zM823.5 292.5h5.9v5.9h-5.9zM874.1 292.5h5.9v5.9h-5.9zM795.3 298.2h5.9v5.9h-5.9zM829.1 298.2h5.9v5.9h-5.9zM868.5 298.2h11.5v5.9h-11.5zM671.5 303.8h5.9v5.9h-5.9zM789.7 303.8h5.9v5.9h-5.9zM834.7 303.8h5.9v5.9h-5.9zM862.9 303.8h11.5v5.9h-11.5zM772.8 309.4h17.1v5.9h-17.1zM851.6 309.4h11.5v5.9h-11.5zM682.7 315.0h11.5v5.9h-11.5zM750.3 315.0h28.4v5.9h-28.4zM694.0 320.7h5.9v5.9h-5.9zM744.6 320.7h5.9v5.9h-5.9zM699.6 326.3h5.9v5.9h-5.9zM739.0 326.3h5.9v5.9h-5.9zM705.2 331.9h5.9v5.9h-5.9zM733.4 331.9h5.9v5.9h-5.9zM716.5 337.6h11.5v5.9h-11.5z"/>
<path fill="#009fff" d="M682.7 134.9h5.9v5.9h-5.9zM705.2 134.9h5.9v5.9h-5.9zM682.7 151.8h5.9v5.9h-5.9zM688.3 157.4h5.9v5.9h-5.9zM699.6 157.4h11.5v5.9h-11.5zM688.3 163.0h28.4v5.9h-28.4zM800.9 163.0h5.9v5.9h-5.9zM817.8 163.0h11.5v5.9h-11.5zM688.3 168.7h34.0v5.9h-34.0zM789.7 168.7h5.9v5.9h-5.9zM823.5 168.7h5.9v5.9h-5.9zM688.3 174.3h39.7v5.9h-39.7zM784.1 174.3h5.9v5.9h-5.9zM682.7 179.9h11.5v5.9h-11.5zM727.8 179.9h11.5v5.9h-11.5zM767.2 179.9h11.5v5.9h-11.5zM829.1 179.9h5.9v5.9h-5.9zM829.1 185.6h5.9v5.9h-5.9zM677.1 191.2h5.9v5.9h-5.9zM829.1 191.2h5.9v5.9h-5.9zM677.1 196.8h5.9v5.9h-5.9zM829.1 196.8h5.9v5.9h-5.9zM677.1 202.4h5.9v5.9h-5.9zM829.1 202.4h5.9v5.9h-5.9zM677.1 208.1h5.9v5.9h-5.9zM829.1 208.1h5.9v5.9h-5.9zM677.1 213.7h5.9v5.9h-5.9zM834.7 213.7h11.5v5.9h-11.5zM677.1 219.3h5.9v5.9h-5.9zM800.9 219.3h17.1v5.9h-17.1zM851.6 219.3h5.9v5.9h-5.9zM795.3 225.0h5.9v5.9h-5.9zM817.8 225.0h5.9v5.9h-5.9zM817.8 230.6h5.9v5.9h-5.9zM862.9 230.6h5.9v5.9h-5.9zM671.5 236.2h5.9v5.9h-5.9zM817.8 236.2h5.9v5.9h-5.9zM868.5 236.2h5.9v5.9h-5.9zM868.5 241.9h5.9v5.9h-5.9zM665.8 247.5h5.9v5.9h-5.9zM874.1 247.5h5.9v5.9h-5.9zM795.3 253.1h5.9v5.9h-5.9zM812.2 253.1h5.9v5.9h-5.9zM879.8 253.1h5.9v5.9h-5.9zM660.2 258.7h5.9v5.9h-5.9zM879.8 258.7h5.9v5.9h-5.9zM660.2 264.4h5.9v5.9h-5.9zM879.8 264.4h5.9v5.9h-5.9zM660.2 270.0h5.9v5.9h-5.9zM879.8 270.0h5.9v5.9h-5.9zM660.2 275.6h5.9v5.9h-5.9zM879.8 275.6h5.9v5.9h-5.9zM806.6 281.3h11.5v5.9h-11.5zM879.8 281.3h5.9v5.9h-5.9zM806.6 286.9h17.1v5.9h-17.1zM879.8 286.9h5.9v5.9h-5.9zM665.8 292.5h5.9v5.9h-5.9zM800.9 292.5h11.5v5.9h-11.5zM817.8 292.5h5.9v5.9h-5.9zM879.8 292.5h5.9v5.9h-5.9zM665.8 298.2h5.9v5.9h-5.9zM800.9 298.2h5.9v5.9h-5.9zM823.5 298.2h5.9v5.9h-5.9zM879.8 298.2h5.9v5.9h-5.9zM795.3 303.8h5.9v5.9h-5.9zM829.1 303.8h5.9v5.9h-5.9zM874.1 303.8h11.5v5.9h-11.5zM671.5 309.4h5.9v5.9h-5.9zM789.7 309.4h5.9v5.9h-5.9zM840.4 309.4h11.5v5.9h-11.5zM862.9 309.4h17.1v5.9h-17.1zM677.1 315.0h5.9v5.9h-5.9zM778.4 315.0h11.5v5.9h-11.5zM857.3 315.0h11.5v5.9h-11.5zM688.3 320.7h5.9v5.9h-5.9zM750.3 320.7h34.0v5.9h-34.0zM694.0 326.3h5.9v5.9h-5.9zM744.6 326.3h34.0v5.9h-34.0zM699.6 331.9h5.9v5.9h-5.9zM739.0 331.9h11.5v5.9h-11.5zM705.2 337.6h11.5v5.9h-11.5zM727.8 337.6h11.5v5.9h-11.5z"/>
<path fill="#00afff" d="M694.0 129.2h5.9v5.9h-5.9zM677.1 134.9h5.9v5.9h-5.9zM677.1 140.5h5.9v5.9h-5.9zM710.9 140.5h5.9v5.9h-5.9zM677.1 146.1h5.9v5.9h-5.9zM710.9 146.1h5.9v5.9h-5.9zM677.1 151.8h5.9v5.9h-5.9zM710.9 151.8h5.9v5.9h-5.9zM682.7 157.4h5.9v5.9h-5.9zM710.9 157.4h11.5v5.9h-11.5zM812.2 157.4h11.5v5.9h-11.5zM682.7 163.0h5.9v5.9h-5.9zM716.5 163.0h11.5v5.9h-11.5zM795.3 163.0h5.9v5.9h-5.9zM829.1 163.0h5.9v5.9h-5.9zM682.7 168.7h5.9v5.9h-5.9zM722.1 168.7h11.5v5.9h-11.5zM784.1 168.7h5.9v5.9h-5.9zM829.1 168.7h5.9v5.9h-5.9zM682.7 174.3h5.9v5.9h-5.9zM727.8 174.3h5.9v5.9h-5.9zM772.8 174.3h11.5v5.9h-11.5zM829.1 174.3h5.9v5.9h-5.9zM677.1 179.9h5.9v5.9h-5.9zM739.0 179.9h5.9v5.9h-5.9zM761.5 179.9h5.9v5.9h-5.9zM677.1 185.6h5.9v5.9h-5.9zM834.7 208.1h5.9v5.9h-5.9zM846.0 213.7h5.9v5.9h-5.9zM857.3 219.3h5.9v5.9h-5.9zM671.5 225.0h5.9v5.9h-5.9zM812.2 225.0h5.9v5.9h-5.9zM862.9 225.0h5.9v5.9h-5.9zM671.5 230.6h5.9v5.9h-5.9zM868.5 230.6h5.9v5.9h-5.9zM874.1 236.2h5.9v5.9h-5.9zM665.8 241.9h5.9v5.9h-5.9zM874.1 241.9h5.9v5.9h-5.9zM812.2 247.5h5.9v5.9h-5.9zM879.8 247.5h5.9v5.9h-5.9zM660.2 253.1h5.9v5.9h-5.9zM800.9 258.7h11.5v5.9h-11.5zM660.2 281.3h5.9v5.9h-5.9zM885.4 281.3h5.9v5.9h-5.9zM660.2 286.9h5.9v5.9h-5.9zM885.4 286.9h5.9v5.9h-5.9zM812.2 292.5h5.9v5.9h-5.9zM885.4 292.5h5.9v5.9h-5.9zM806.6 298.2h17.1v5.9h-17.1zM885.4 298.2h5.9v5.9h-5.9zM665.8 303.8h5.9v5.9h-5.9zM800.9 303.8h5.9v5.9h-5.9zM823.5 303.8h5.9v5.9h-5.9zM795.3 309.4h5.9v5.9h-5.9zM829.1 309.4h11.5v5.9h-11.5zM879.8 309.4h5.9v5.9h-5.9zM789.7 315.0h5.9v5.9h-5.9zM846.0 315.0h11.5v5.9h-11.5zM868.5 315.0h11.5v5.9h-11.5zM682.7 320.7h5.9v5.9h-5.9zM784.1 320.7h11.5v5.9h-11.5zM857.3 320.7h17.1v5.9h-17.1zM688.3 326.3h5.9v5.9h-5.9zM778.4 326.3h11.5v5.9h-11.5zM694.0 331.9h5.9v5.9h-5.9zM750.3 331.9h34.0v5.9h-34.0zM699.6 337.6h5.9v5.9h-5.9zM739.0 337.6h5.9v5.9h-5.9z"/>
<path fill="#00bfff" d="M671.5 129.2h22.8v5.9h-22.8zM699.6 129.2h5.9v5.9h-5.9zM665.8 134.9h11.5v5.9h-11.5zM665.8 140.5h11.5v5.9h-11.5zM671.5 146.1h5.9v5.9h-5.9zM716.5 146.1h5.9v5.9h-5.9zM671.5 151.8h5.9v5.9h-5.9zM716.5 151.8h11.5v5.9h-11.5zM677.1 157.4h5.9v5.9h-5.9zM722.1 157.4h5.9v5.9h-5.9zM800.9 157.4h11.5v5.9h-11.5zM823.5 157.4h17.1v5.9h-17.1zM677.1 163.0h5.9v5.9h-5.9zM727.8 163.0h5.9v5.9h-5.9zM789.7 163.0h5.9v5.9h-5.9zM834.7 163.0h5.9v5.9h-5.9zM677.1 168.7h5.9v5.9h-5.9zM733.4 168.7h5.9v5.9h-5.9zM778.4 168.7h5.9v5.9h-5.9zM834.7 168.7h5.9v5.9h-5.9zM677.1 174.3h5.9v5.9h-5.9zM733.4 174.3h5.9v5.9h-5.9zM767.2 174.3h5.9v5.9h-5.9zM834.7 174.3h5.9v5.9h-5.9zM744.6 179.9h17.1v5.9h-17.1zM834.7 179.9h5.9v5.9h-5.9zM834.7 185.6h5.9v5.9h-5.9zM834.7 191.2h5.9v5.9h-5.9zM834.7 196.8h5.9v5.9h-5.9zM671.5 202.4h5.9v5.9h-5.9zM834.7 202.4h5.9v5.9h-5.9zM671.5 208.1h5.9v5.9h-5.9zM840.4 208.1h5.9v5.9h-5.9zM671.5 213.7h5.9v5.9h-5.9zM851.6 213.7h5.9v5.9h-5.9zM671.5 219.3h5.9v5.9h-5.9zM862.9 219.3h5.9v5.9h-5.9zM868.5 225.0h5.9v5.9h-5.9zM795.3 230.6h5.9v5.9h-5.9zM812.2 230.6h5.9v5.9h-5.9zM874.1 230.6h5.9v5.9h-5.9zM665.8 236.2h5.9v5.9h-5.9zM812.2 236.2h5.9v5.9h-5.9zM879.8 236.2h5.9v5.9h-5.9zM812.2 241.9h5.9v5.9h-5.9zM879.8 241.9h5.9v5.9h-5.9zM660.2 247.5h5.9v5.9h-5.9zM806.6 253.1h5.9v5.9h-5.9zM885.4 253.1h5.9v5.9h-5.9zM654.6 258.7h5.9v5.9h-5.9zM885.4 258.7h5.9v5.9h-5.9zM654.6 264.4h5.9v5.9h-5.9zM885.4 264.4h5.9v5.9h-5.9zM654.6 270.0h5.9v5.9h-5.9zM885.4 270.0h5.9v5.9h-5.9zM654.6 275.6h5.9v5.9h-5.9zM885.4 275.6h5.9v5.9h-5.9zM654.6 281.3h5.9v5.9h-5.9zM660.2 292.5h5.9v5.9h-5.9zM660.2 298.2h5.9v5.9h-5.9zM806.6 303.8h17.1v5.9h-17.1zM885.4 303.8h5.9v5.9h-5.9zM665.8 309.4h5.9v5.9h-5.9zM800.9 309.4h5.9v5.9h-5.9zM823.5 309.4h5.9v5.9h-5.9zM885.4 309.4h5.9v5.9h-5.9zM671.5 315.0h5.9v5.9h-5.9zM795.3 315.0h5.9v5.9h-5.9zM834.7 315.0h11.5v5.9h-11.5zM879.8 315.0h5.9v5.9h-5.9zM677.1 320.7h5.9v5.9h-5.9zM851.6 320.7h5.9v5.9h-5.9zM874.1 320.7h11.5v5.9h-11.5zM682.7 326.3h5.9v5.9h-5.9zM789.7 326.3h5.9v5.9h-5.9zM857.3 326.3h22.8v5.9h-22.8zM688.3 331.9h5.9v5.9h-5.9zM784.1 331.9h5.9v5.9h-5.9zM694.0 337.6h5.9v5.9h-5.9zM744.6 337.6h39.7v5.9h-39.7zM710.9 343.2h28.4v5.9h-28.4zM823.5 360.1h11.5v5.9h-11.5z"/>
<path fill="#00cfff" d="M660.2 129.2h11.5v5.9h-11.5zM705.2 129.2h5.9v5.9h-5.9zM660.2 134.9h5.9v5.9h-5.9zM710.9 134.9h5.9v5.9h-5.9zM660.2 140.5h5.9v5.9h-5.9zM716.5 140.5h5.9v5.9h-5.9zM665.8 146.1h5.9v5.9h-5.9zM722.1 146.1h5.9v5.9h-5.9zM817.8 151.8h22.8v5.9h-22.8zM671.5 157.4h5.9v5.9h-5.9zM727.8 157.4h5.9v5.9h-5.9zM840.4 157.4h5.9v5.9h-5.9zM733.4 163.0h5.9v5.9h-5.9zM840.4 163.0h5.9v5.9h-5.9zM772.8 168.7h5.9v5.9h-5.9zM840.4 168.7h5.9v5.9h-5.9zM739.0 174.3h11.5v5.9h-11.5zM761.5 174.3h5.9v5.9h-5.9zM840.4 174.3h5.9v5.9h-5.9zM840.4 179.9h5.9v5.9h-5.9zM671.5 185.6h5.9v5.9h-5.9zM840.4 185.6h5.9v5.9h-5.9zM671.5 191.2h5.9v5.9h-5.9zM840.4 191.2h5.9v5.9h-5.9zM671.5 196.8h5.9v5.9h-5.9zM840.4 196.8h5.9v5.9h-5.9zM840.4 202.4h5.9v5.9h-5.9zM846.0 208.1h11.5v5.9h-11.5zM857.3 213.7h5.9v5.9h-5.9zM868.5 219.3h5.9v5.9h-5.9zM665.8 225.0h5.9v5.9h-5.9zM800.9 225.0h11.5v5.9h-11.5zM874.1 225.0h5.9v5.9h-5.9zM665.8 230.6h5.9v5.9h-5.9zM879.8 230.6h5.9v5.9h-5.9zM795.3 236.2h5.9v5.9h-5.9zM660.2 241.9h5.9v5.9h-5.9zM885.4 241.9h5.9v5.9h-5.9zM795.3 247.5h5.9v5.9h-5.9zM885.4 247.5h5.9v5.9h-5.9zM654.6 253.1h5.9v5.9h-5.9zM800.9 253.1h5.9v5.9h-5.9zM648.9 264.4h5.9v5.9h-5.9zM648.9 270.0h5.9v5.9h-5.9zM891.0 281.3h5.9v5.9h-5.9zM654.6 286.9h5.9v5.9h-5.9zM891.0 286.9h5.9v5.9h-5.9zM654.6 292.5h5.9v5.9h-5.9zM891.0 292.5h5.9v5.9h-5.9zM891.0 298.2h5.9v5.9h-5.9zM660.2 303.8h5.9v5.9h-5.9zM891.0 303.8h5.9v5.9h-5.9zM806.6 309.4h17.1v5.9h-17.1zM665.8 315.0h5.9v5.9h-5.9zM829.1 315.0h5.9v5.9h-5.9zM885.4 315.0h5.9v5.9h-5.9zM671.5 320.7h5.9v5.9h-5.9zM795.3 320.7h5.9v5.9h-5.9zM840.4 320.7h11.5v5.9h-11.5zM885.4 320.7h5.9v5.9h-5.9zM677.1 326.3h5.9v5.9h-5.9zM795.3 326.3h5.9v5.9h-5.9zM851.6 326.3h5.9v5.9h-5.9zM879.8 326.3h5.9v5.9h-5.9zM677.1 331.9h11.5v5.9h-11.5zM789.7 331.9h5.9v5.9h-5.9zM857.3 331.9h22.8v5.9h-22.8zM682.7 337.6h11.5v5.9h-11.5zM784.1 337.6h5.9v5.9h-5.9zM699.6 343.2h11.5v5.9h-11.5zM739.0 343.2h28.4v5.9h-28.4zM823.5 354.5h11.5v5.9h-11.5z"/>
<path fill="#00dfff" d="M660.2 123.6h34.0v5.9h-34.0zM654.6 129.2h5.9v5.9h-5.9zM654.6 134.9h5.9v5.9h-5.9zM716.5 134.9h11.5v5.9h-11.5zM654.6 140.5h5.9v5.9h-5.9zM722.1 140.5h5.9v5.9h-5.9zM654.6 146.1h11.5v5.9h-11.5zM727.8 146.1h5.9v5.9h-5.9zM823.5 146.1h22.8v5.9h-22.8zM665.8 151.8h5.9v5.9h-5.9zM727.8 151.8h5.9v5.9h-5.9zM812.2 151.8h5.9v5.9h-5.9zM840.4 151.8h11.5v5.9h-11.5zM733.4 157.4h5.9v5.9h-5.9zM795.3 157.4h5.9v5.9h-5.9zM846.0 157.4h5.9v5.9h-5.9zM671.5 163.0h5.9v5.9h-5.9zM739.0 163.0h5.9v5.9h-5.9zM784.1 163.0h5.9v5.9h-5.9zM846.0 163.0h5.9v5.9h-5.9zM671.5 168.7h5.9v5.9h-5.9zM739.0 168.7h11.5v5.9h-11.5zM767.2 168.7h5.9v5.9h-5.9zM846.0 168.7h5.9v5.9h-5.9zM671.5 174.3h5.9v5.9h-5.9zM750.3 174.3h11.5v5.9h-11.5zM846.0 174.3h5.9v5.9h-5.9zM671.5 179.9h5.9v5.9h-5.9zM846.0 179.9h5.9v5.9h-5.9zM846.0 185.6h5.9v5.9h-5.9zM846.0 191.2h5.9v5.9h-5.9zM846.0 196.8h5.9v5.9h-5.9zM846.0 202.4h11.5v5.9h-11.5zM857.3 208.1h5.9v5.9h-5.9zM665.8 213.7h5.9v5.9h-5.9zM862.9 213.7h5.9v5.9h-5.9zM665.8 219.3h5.9v5.9h-5.9zM874.1 219.3h5.9v5.9h-5.9zM879.8 225.0h5.9v5.9h-5.9zM660.2 230.6h5.9v5.9h-5.9zM800.9 230.6h11.5v5.9h-11.5zM660.2 236.2h5.9v5.9h-5.9zM806.6 236.2h5.9v5.9h-5.9zM885.4 236.2h5.9v5.9h-5.9zM795.3 241.9h5.9v5.9h-5.9zM806.6 241.9h5.9v5.9h-5.9zM654.6 247.5h5.9v5.9h-5.9zM800.9 247.5h11.5v5.9h-11.5zM648.9 253.1h5.9v5.9h-5.9zM891.0 253.1h5.9v5.9h-5.9zM648.9 258.7h5.9v5.9h-5.9zM891.0 258.7h5.9v5.9h-5.9zM891.0 264.4h5.9v5.9h-5.9zM891.0 270.0h5.9v5.9h-5.9zM648.9 275.6h5.9v5.9h-5.9zM891.0 275.6h5.9v5.9h-5.9zM648.9 281.3h5.9v5.9h-5.9zM648.9 286.9h5.9v5.9h-5.9zM648.9 292.5h5.9v5.9h-5.9zM654.6 298.2h5.9v5.9h-5.9zM654.6 303.8h5.9v5.9h-5.9zM660.2 309.4h5.9v5.9h-5.9zM891.0 309.4h5.9v5.9h-5.9zM800.9 315.0h11.5v5.9h-11.5zM823.5 315.0h5.9v5.9h-5.9zM891.0 315.0h5.9v5.9h-5.9zM665.8 320.7h5.9v5.9h-5.9zM800.9 320.7h5.9v5.9h-5.9zM829.1 320.7h11.5v5.9h-11.5zM671.5 326.3h5.9v5.9h-5.9zM840.4 326.3h11.5v5.9h-11.5zM885.4 326.3h5.9v5.9h-5.9zM671.5 331.9h5.9v5.9h-5.9zM795.3 331.9h5.9v5.9h-5.9zM846.0 331.9h11.5v5.9h-11.5zM879.8 331.9h5.9v5.9h-5.9zM677.1 337.6h5.9v5.9h-5.9zM789.7 337.6h5.9v5.9h-5.9zM851.6 337.6h28.4v5.9h-28.4zM688.3 343.2h11.5v5.9h-11.5zM767.2 343.2h22.8v5.9h-22.8zM705.2 348.8h62.2v5.9h-62.2zM834.7 354.5h5.9v5.9h-5.9zM834.7 360.1h5.9v5.9h-5.9zM823.5 365.7h11.5v5.9h-11.5z"/>
<path fill="#00efff" d="M654.6 123.6h5.9v5.9h-5.9zM694.0 123.6h5.9v5.9h-5.9zM648.9 129.2h5.9v5.9h-5.9zM710.9 129.2h11.5v5.9h-11.5zM648.9 134.9h5.9v5.9h-5.9zM648.9 140.5h5.9v5.9h-5.9zM727.8 140.5h5.9v5.9h-5.9zM829.1 140.5h17.1v5.9h-17.1zM817.8 146.1h5.9v5.9h-5.9zM846.0 146.1h5.9v5.9h-5.9zM654.6 151.8h11.5v5.9h-11.5zM733.4 151.8h5.9v5.9h-5.9zM806.6 151.8h5.9v5.9h-5.9zM665.8 157.4h5.9v5.9h-5.9zM789.7 157.4h5.9v5.9h-5.9zM851.6 157.4h5.9v5.9h-5.9zM665.8 163.0h5.9v5.9h-5.9zM744.6 163.0h5.9v5.9h-5.9zM772.8 163.0h11.5v5.9h-11.5zM851.6 163.0h5.9v5.9h-5.9zM750.3 168.7h17.1v5.9h-17.1zM851.6 168.7h5.9v5.9h-5.9zM851.6 174.3h5.9v5.9h-5.9zM851.6 179.9h5.9v5.9h-5.9zM851.6 185.6h5.9v5.9h-5.9zM665.8 191.2h5.9v5.9h-5.9zM851.6 191.2h5.9v5.9h-5.9zM665.8 196.8h5.9v5.9h-5.9zM851.6 196.8h5.9v5.9h-5.9zM665.8 202.4h5.9v5.9h-5.9zM857.3 202.4h5.9v5.9h-5.9zM665.8 208.1h5.9v5.9h-5.9zM862.9 208.1h5.9v5.9h-5.9zM868.5 213.7h5.9v5.9h-5.9zM660.2 225.0h5.9v5.9h-5.9zM885.4 230.6h5.9v5.9h-5.9zM654.6 236.2h5.9v5.9h-5.9zM800.9 236.2h5.9v5.9h-5.9zM654.6 241.9h5.9v5.9h-5.9zM800.9 241.9h5.9v5.9h-5.9zM891.0 241.9h5.9v5.9h-5.9zM648.9 247.5h5.9v5.9h-5.9zM891.0 247.5h5.9v5.9h-5.9zM896.7 275.6h5.9v5.9h-5.9zM896.7 281.3h5.9v5.9h-5.9zM896.7 286.9h11.5v5.9h-11.5zM896.7 292.5h11.5v5.9h-11.5zM648.9 298.2h5.9v5.9h-5.9zM896.7 298.2h11.5v5.9h-11.5zM648.9 303.8h5.9v5.9h-5.9zM896.7 303.8h5.9v5.9h-5.9zM648.9 309.4h11.5v5.9h-11.5zM896.7 309.4h5.9v5.9h-5.9zM654.6 315.0h11.5v5.9h-11.5zM812.2 315.0h11.5v5.9h-11.5zM660.2 320.7h5.9v5.9h-5.9zM806.6 320.7h5.9v5.9h-5.9zM817.8 320.7h11.5v5.9h-11.5zM891.0 320.7h5.9v5.9h-5.9zM660.2 326.3h11.5v5.9h-11.5zM800.9 326.3h5.9v5.9h-5.9zM829.1 326.3h11.5v5.9h-11.5zM665.8 331.9h5.9v5.9h-5.9zM800.9 331.9h5.9v5.9h-5.9zM829.1 331.9h17.1v5.9h-17.1zM885.4 331.9h5.9v5.9h-5.9zM671.5 337.6h5.9v5.9h-5.9zM795.3 337.6h5.9v5.9h-5.9zM834.7 337.6h17.1v5.9h-17.1zM879.8 337.6h5.9v5.9h-5.9zM677.1 343.2h11.5v5.9h-11.5zM789.7 343.2h5.9v5.9h-5.9zM834.7 343.2h34.0v5.9h-34.0zM682.7 348.8h22.8v5.9h-22.8zM767.2 348.8h22.8v5.9h-22.8zM829.1 348.8h22.8v5.9h-22.8zM705.2 354.5h73.4v5.9h-73.4zM817.8 360.1h5.9v5.9h-5.9z"/>
<path fill="#00ffff" d="M660.2 118.0h28.4v5.9h-28.4zM648.9 123.6h5.9v5.9h-5.9zM699.6 123.6h5.9v5.9h-5.9zM722.1 129.2h5.9v5.9h-5.9zM727.8 134.9h5.9v5.9h-5.9zM829.1 134.9h17.1v5.9h-17.1zM823.5 140.5h5.9v5.9h-5.9zM846.0 140.5h5.9v5.9h-5.9zM648.9 146.1h5.9v5.9h-5.9zM733.4 146.1h5.9v5.9h-5.9zM812.2 146.1h5.9v5.9h-5.9zM648.9 151.8h5.9v5.9h-5.9zM800.9 151.8h5.9v5.9h-5.9zM851.6 151.8h5.9v5.9h-5.9zM654.6 157.4h11.5v5.9h-11.5zM739.0 157.4h5.9v5.9h-5.9zM750.3 163.0h22.8v5.9h-22.8zM665.8 168.7h5.9v5.9h-5.9zM665.8 174.3h5.9v5.9h-5.9zM665.8 179.9h5.9v5.9h-5.9zM665.8 185.6h5.9v5.9h-5.9zM857.3 185.6h5.9v5.9h-5.9zM857.3 191.2h5.9v5.9h-5.9zM547.6 196.8h17.1v5.9h-17.1zM857.3 196.8h5.9v5.9h-5.9zM547.6 202.4h22.8v5.9h-22.8zM862.9 202.4h5.9v5.9h-5.9zM547.6 208.1h22.8v5.9h-22.8zM868.5 208.1h5.9v5.9h-5.9zM547.6 213.7h22.8v5.9h-22.8zM660.2 213.7h5.9v5.9h-5.9zM874.1 213.7h5.9v5.9h-5.9zM547.6 219.3h22.8v5.9h-22.8zM660.2 219.3h5.9v5.9h-5.9zM879.8 219.3h5.9v5.9h-5.9zM547.6 225.0h22.8v5.9h-22.8zM885.4 225.0h5.9v5.9h-5.9zM547.6 230.6h22.8v5.9h-22.8zM654.6 230.6h5.9v5.9h-5.9zM547.6 236.2h17.1v5.9h-17.1zM891.0 236.2h5.9v5.9h-5.9zM896.7 247.5h5.9v5.9h-5.9zM896.7 253.1h5.9v5.9h-5.9zM643.3 258.7h5.9v5.9h-5.9zM896.7 258.7h5.9v5.9h-5.9zM643.3 264.4h5.9v5.9h-5.9zM896.7 264.4h5.9v5.9h-5.9zM643.3 270.0h5.9v5.9h-5.9zM896.7 270.0h11.5v5.9h-11.5zM643.3 275.6h5.9v5.9h-5.9zM902.3 275.6h11.5v5.9h-11.5zM643.3 281.3h5.9v5.9h-5.9zM902.3 281.3h22.8v5.9h-22.8zM643.3 286.9h5.9v5.9h-5.9zM907.9 286.9h17.1v5.9h-17.1zM643.3 292.5h5.9v5.9h-5.9zM907.9 292.5h17.1v5.9h-17.1zM643.3 298.2h5.9v5.9h-5.9zM907.9 298.2h17.1v5.9h-17.1zM643.3 303.8h5.9v5.9h-5.9zM902.3 303.8h22.8v5.9h-22.8zM902.3 309.4h5.9v5.9h-5.9zM648.9 315.0h5.9v5.9h-5.9zM896.7 315.0h5.9v5.9h-5.9zM648.9 320.7h11.5v5.9h-11.5zM812.2 320.7h5.9v5.9h-5.9zM648.9 326.3h11.5v5.9h-11.5zM806.6 326.3h22.8v5.9h-22.8zM891.0 326.3h5.9v5.9h-5.9zM654.6 331.9h11.5v5.9h-11.5zM806.6 331.9h22.8v5.9h-22.8zM891.0 331.9h5.9v5.9h-5.9zM660.2 337.6h11.5v5.9h-11.5zM800.9 337.6h5.9v5.9h-5.9zM823.5 337.6h11.5v5.9h-11.5zM885.4 337.6h5.9v5.9h-5.9zM665.8 343.2h11.5v5.9h-11.5zM795.3 343.2h5.9v5.9h-5.9zM823.5 343.2h11.5v5.9h-11.5zM868.5 343.2h11.5v5.9h-11.5zM671.5 348.8h11.5v5.9h-11.5zM789.7 348.8h11.5v5.9h-11.5zM823.5 348.8h5.9v5.9h-5.9zM851.6 348.8h11.5v5.9h-11.5zM677.1 354.5h28.4v5.9h-28.4zM778.4 354.5h17.1v5.9h-17.1zM817.8 354.5h5.9v5.9h-5.9zM840.4 354.5h11.5v5.9h-11.5zM694.0 360.1h96.0v5.9h-96.0zM840.4 360.1h5.9v5.9h-5.9zM834.7 365.7h5.9v5.9h-5.9z"/>
<path fill="#10ffef" d="M840.4 89.8h11.5v5.9h-11.5zM840.4 95.5h11.5v5.9h-11.5zM840.4 101.1h11.5v5.9h-11.5zM840.4 106.7h11.5v5.9h-11.5zM840.4 112.4h11.5v5.9h-11.5zM654.6 118.0h5.9v5.9h-5.9zM688.3 118.0h5.9v5.9h-5.9zM840.4 118.0h11.5v5.9h-11.5zM705.2 123.6h11.5v5.9h-11.5zM834.7 123.6h17.1v5.9h-17.1zM643.3 129.2h5.9v5.9h-5.9zM829.1 129.2h22.8v5.9h-22.8zM643.3 134.9h5.9v5.9h-5.9zM823.5 134.9h5.9v5.9h-5.9zM846.0 134.9h5.9v5.9h-5.9zM643.3 140.5h5.9v5.9h-5.9zM733.4 140.5h5.9v5.9h-5.9zM817.8 140.5h5.9v5.9h-5.9zM851.6 140.5h5.9v5.9h-5.9zM643.3 146.1h5.9v5.9h-5.9zM851.6 146.1h5.9v5.9h-5.9zM739.0 151.8h5.9v5.9h-5.9zM795.3 151.8h5.9v5.9h-5.9zM648.9 157.4h5.9v5.9h-5.9zM744.6 157.4h17.1v5.9h-17.1zM778.4 157.4h11.5v5.9h-11.5zM654.6 163.0h11.5v5.9h-11.5zM857.3 163.0h5.9v5.9h-5.9zM660.2 168.7h5.9v5.9h-5.9zM857.3 168.7h5.9v5.9h-5.9zM660.2 174.3h5.9v5.9h-5.9zM857.3 174.3h5.9v5.9h-5.9zM857.3 179.9h5.9v5.9h-5.9zM547.6 191.2h22.8v5.9h-22.8zM660.2 191.2h5.9v5.9h-5.9zM862.9 191.2h5.9v5.9h-5.9zM564.5 196.8h11.5v5.9h-11.5zM660.2 196.8h5.9v5.9h-5.9zM862.9 196.8h5.9v5.9h-5.9zM570.1 202.4h11.5v5.9h-11.5zM660.2 202.4h5.9v5.9h-5.9zM868.5 202.4h5.9v5.9h-5.9zM570.1 208.1h11.5v5.9h-11.5zM660.2 208.1h5.9v5.9h-5.9zM874.1 208.1h5.9v5.9h-5.9zM570.1 213.7h11.5v5.9h-11.5zM879.8 213.7h5.9v5.9h-5.9zM570.1 219.3h11.5v5.9h-11.5zM570.1 225.0h5.9v5.9h-5.9zM654.6 225.0h5.9v5.9h-5.9zM570.1 230.6h5.9v5.9h-5.9zM891.0 230.6h5.9v5.9h-5.9zM564.5 236.2h11.5v5.9h-11.5zM547.6 241.9h22.8v5.9h-22.8zM648.9 241.9h5.9v5.9h-5.9zM896.7 241.9h5.9v5.9h-5.9zM902.3 247.5h5.9v5.9h-5.9zM643.3 253.1h5.9v5.9h-5.9zM902.3 253.1h17.1v5.9h-17.1zM902.3 258.7h22.8v5.9h-22.8zM902.3 264.4h22.8v5.9h-22.8zM907.9 270.0h17.1v5.9h-17.1zM913.6 275.6h11.5v5.9h-11.5zM643.3 309.4h5.9v5.9h-5.9zM907.9 309.4h17.1v5.9h-17.1zM643.3 315.0h5.9v5.9h-5.9zM902.3 315.0h17.1v5.9h-17.1zM643.3 320.7h5.9v5.9h-5.9zM896.7 320.7h11.5v5.9h-11.5zM643.3 326.3h5.9v5.9h-5.9zM896.7 326.3h5.9v5.9h-5.9zM643.3 331.9h11.5v5.9h-11.5zM648.9 337.6h11.5v5.9h-11.5zM806.6 337.6h17.1v5.9h-17.1zM654.6 343.2h11.5v5.9h-11.5zM800.9 343.2h22.8v5.9h-22.8zM879.8 343.2h5.9v5.9h-5.9zM665.8 348.8h5.9v5.9h-5.9zM800.9 348.8h11.5v5.9h-11.5zM817.8 348.8h5.9v5.9h-5.9zM862.9 348.8h17.1v5.9h-17.1zM671.5 354.5h5.9v5.9h-5.9zM795.3 354.5h11.5v5.9h-11.5zM851.6 354.5h5.9v5.9h-5.9zM677.1 360.1h17.1v5.9h-17.1zM789.7 360.1h11.5v5.9h-11.5zM722.1 365.7h67.8v5.9h-67.8zM817.8 365.7h5.9v5.9h-5.9z"/>
<path fill="#20ffdf" d="M806.6 72.9h22.8v5.9h-22.8zM806.6 78.6h34.0v5.9h-34.0zM829.1 84.2h11.5v5.9h-11.5zM834.7 89.8h5.9v5.9h-5.9zM834.7 95.5h5.9v5.9h-5.9zM851.6 95.5h5.9v5.9h-5.9zM834.7 101.1h5.9v5.9h-5.9zM851.6 101.1h5.9v5.9h-5.9zM834.7 106.7h5.9v5.9h-5.9zM851.6 106.7h5.9v5.9h-5.9zM660.2 112.4h22.8v5.9h-22.8zM834.7 112.4h5.9v5.9h-5.9zM851.6 112.4h5.9v5.9h-5.9zM648.9 118.0h5.9v5.9h-5.9zM694.0 118.0h5.9v5.9h-5.9zM834.7 118.0h5.9v5.9h-5.9zM851.6 118.0h5.9v5.9h-5.9zM643.3 123.6h5.9v5.9h-5.9zM716.5 123.6h5.9v5.9h-5.9zM829.1 123.6h5.9v5.9h-5.9zM851.6 123.6h5.9v5.9h-5.9zM727.8 129.2h5.9v5.9h-5.9zM823.5 129.2h5.9v5.9h-5.9zM851.6 129.2h5.9v5.9h-5.9zM733.4 134.9h5.9v5.9h-5.9zM817.8 134.9h5.9v5.9h-5.9zM851.6 134.9h5.9v5.9h-5.9zM812.2 140.5h5.9v5.9h-5.9zM739.0 146.1h5.9v5.9h-5.9zM806.6 146.1h5.9v5.9h-5.9zM643.3 151.8h5.9v5.9h-5.9zM744.6 151.8h5.9v5.9h-5.9zM857.3 151.8h5.9v5.9h-5.9zM761.5 157.4h17.1v5.9h-17.1zM857.3 157.4h5.9v5.9h-5.9zM648.9 163.0h5.9v5.9h-5.9zM654.6 168.7h5.9v5.9h-5.9zM660.2 179.9h5.9v5.9h-5.9zM547.6 185.6h17.1v5.9h-17.1zM660.2 185.6h5.9v5.9h-5.9zM862.9 185.6h5.9v5.9h-5.9zM570.1 191.2h11.5v5.9h-11.5zM868.5 191.2h5.9v5.9h-5.9zM575.7 196.8h5.9v5.9h-5.9zM868.5 196.8h5.9v5.9h-5.9zM581.4 202.4h5.9v5.9h-5.9zM874.1 202.4h5.9v5.9h-5.9zM581.4 208.1h5.9v5.9h-5.9zM654.6 213.7h5.9v5.9h-5.9zM654.6 219.3h5.9v5.9h-5.9zM885.4 219.3h5.9v5.9h-5.9zM575.7 225.0h5.9v5.9h-5.9zM575.7 230.6h5.9v5.9h-5.9zM575.7 236.2h5.9v5.9h-5.9zM648.9 236.2h5.9v5.9h-5.9zM896.7 236.2h5.9v5.9h-5.9zM570.1 241.9h5.9v5.9h-5.9zM902.3 241.9h11.5v5.9h-11.5zM547.6 247.5h22.8v5.9h-22.8zM907.9 247.5h17.1v5.9h-17.1zM919.2 253.1h5.9v5.9h-5.9zM637.7 264.4h5.9v5.9h-5.9zM637.7 270.0h5.9v5.9h-5.9zM637.7 275.6h5.9v5.9h-5.9zM637.7 281.3h5.9v5.9h-5.9zM637.7 286.9h5.9v5.9h-5.9zM637.7 292.5h5.9v5.9h-5.9zM637.7 298.2h5.9v5.9h-5.9zM637.7 303.8h5.9v5.9h-5.9zM637.7 309.4h5.9v5.9h-5.9zM637.7 315.0h5.9v5.9h-5.9zM637.7 320.7h5.9v5.9h-5.9zM907.9 320.7h17.1v5.9h-17.1zM637.7 326.3h5.9v5.9h-5.9zM902.3 326.3h22.8v5.9h-22.8zM637.7 331.9h5.9v5.9h-5.9zM896.7 331.9h11.5v5.9h-11.5zM643.3 337.6h5.9v5.9h-5.9zM891.0 337.6h5.9v5.9h-5.9zM648.9 343.2h5.9v5.9h-5.9zM885.4 343.2h5.9v5.9h-5.9zM648.9 348.8h17.1v5.9h-17.1zM812.2 348.8h5.9v5.9h-5.9zM879.8 348.8h5.9v5.9h-5.9zM654.6 354.5h17.1v5.9h-17.1zM806.6 354.5h11.5v5.9h-11.5zM857.3 354.5h5.9v5.9h-5.9zM665.8 360.1h11.5v5.9h-11.5zM800.9 360.1h17.1v5.9h-17.1zM846.0 360.1h5.9v5.9h-5.9zM677.1 365.7h45.3v5.9h-45.3zM789.7 365.7h11.5v5.9h-11.5zM840.4 365.7h5.9v5.9h-5.9z"/>
<path fill="#30ffcf" d="M795.3 67.3h5.9v5.9h-5.9zM800.9 72.9h5.9v5.9h-5.9zM800.9 78.6h5.9v5.9h-5.9zM806.6 84.2h22.8v5.9h-22.8zM829.1 89.8h5.9v5.9h-5.9zM829.1 95.5h5.9v5.9h-5.9zM857.3 101.1h5.9v5.9h-5.9zM857.3 106.7h5.9v5.9h-5.9zM654.6 112.4h5.9v5.9h-5.9zM682.7 112.4h11.5v5.9h-11.5zM857.3 112.4h5.9v5.9h-5.9zM643.3 118.0h5.9v5.9h-5.9zM699.6 118.0h11.5v5.9h-11.5zM829.1 118.0h5.9v5.9h-5.9zM857.3 118.0h5.9v5.9h-5.9zM722.1 123.6h5.9v5.9h-5.9zM739.0 140.5h5.9v5.9h-5.9zM857.3 140.5h5.9v5.9h-5.9zM800.9 146.1h5.9v5.9h-5.9zM857.3 146.1h5.9v5.9h-5.9zM750.3 151.8h11.5v5.9h-11.5zM789.7 151.8h5.9v5.9h-5.9zM643.3 157.4h5.9v5.9h-5.9zM862.9 163.0h5.9v5.9h-5.9zM862.9 168.7h5.9v5.9h-5.9zM654.6 174.3h5.9v5.9h-5.9zM862.9 174.3h5.9v5.9h-5.9zM862.9 179.9h5.9v5.9h-5.9zM564.5 185.6h17.1v5.9h-17.1zM868.5 185.6h5.9v5.9h-5.9zM581.4 191.2h5.9v5.9h-5.9zM874.1 191.2h5.9v5.9h-5.9zM581.4 196.8h11.5v5.9h-11.5zM874.1 196.8h5.9v5.9h-5.9zM587.0 202.4h5.9v5.9h-5.9zM587.0 208.1h5.9v5.9h-5.9zM654.6 208.1h5.9v5.9h-5.9zM879.8 208.1h5.9v5.9h-5.9zM581.4 213.7h11.5v5.9h-11.5zM581.4 219.3h5.9v5.9h-5.9zM581.4 225.0h5.9v5.9h-5.9zM891.0 225.0h5.9v5.9h-5.9zM581.4 230.6h5.9v5.9h-5.9zM648.9 230.6h5.9v5.9h-5.9zM896.7 230.6h5.9v5.9h-5.9zM581.4 236.2h5.9v5.9h-5.9zM902.3 236.2h11.5v5.9h-11.5zM575.7 241.9h5.9v5.9h-5.9zM913.6 241.9h11.5v5.9h-11.5zM570.1 247.5h5.9v5.9h-5.9zM643.3 247.5h5.9v5.9h-5.9zM547.6 253.1h17.1v5.9h-17.1zM637.7 258.7h5.9v5.9h-5.9zM632.0 309.4h5.9v5.9h-5.9zM626.4 315.0h11.5v5.9h-11.5zM626.4 320.7h11.5v5.9h-11.5zM626.4 326.3h11.5v5.9h-11.5zM626.4 331.9h11.5v5.9h-11.5zM907.9 331.9h17.1v5.9h-17.1zM637.7 337.6h5.9v5.9h-5.9zM896.7 337.6h5.9v5.9h-5.9zM643.3 343.2h5.9v5.9h-5.9zM891.0 343.2h5.9v5.9h-5.9zM643.3 348.8h5.9v5.9h-5.9zM885.4 348.8h5.9v5.9h-5.9zM648.9 354.5h5.9v5.9h-5.9zM862.9 354.5h22.8v5.9h-22.8zM648.9 360.1h17.1v5.9h-17.1zM851.6 360.1h5.9v5.9h-5.9zM660.2 365.7h17.1v5.9h-17.1zM800.9 365.7h17.1v5.9h-17.1zM705.2 371.4h96.0v5.9h-96.0zM823.5 371.4h11.5v5.9h-11.5z"/>
<path fill="#40ffbf" d="M789.7 67.3h5.9v5.9h-5.9zM789.7 72.9h11.5v5.9h-11.5zM795.3 78.6h5.9v5.9h-5.9zM800.9 84.2h5.9v5.9h-5.9zM817.8 89.8h11.5v5.9h-11.5zM829.1 101.1h5.9v5.9h-5.9zM660.2 106.7h34.0v5.9h-34.0zM829.1 106.7h5.9v5.9h-5.9zM862.9 106.7h5.9v5.9h-5.9zM648.9 112.4h5.9v5.9h-5.9zM694.0 112.4h11.5v5.9h-11.5zM829.1 112.4h5.9v5.9h-5.9zM862.9 112.4h5.9v5.9h-5.9zM710.9 118.0h5.9v5.9h-5.9zM637.7 123.6h5.9v5.9h-5.9zM727.8 123.6h5.9v5.9h-5.9zM823.5 123.6h5.9v5.9h-5.9zM857.3 123.6h5.9v5.9h-5.9zM637.7 129.2h5.9v5.9h-5.9zM733.4 129.2h5.9v5.9h-5.9zM817.8 129.2h5.9v5.9h-5.9zM857.3 129.2h5.9v5.9h-5.9zM637.7 134.9h5.9v5.9h-5.9zM812.2 134.9h5.9v5.9h-5.9zM857.3 134.9h5.9v5.9h-5.9zM637.7 140.5h5.9v5.9h-5.9zM806.6 140.5h5.9v5.9h-5.9zM637.7 146.1h5.9v5.9h-5.9zM744.6 146.1h11.5v5.9h-11.5zM795.3 146.1h5.9v5.9h-5.9zM637.7 151.8h5.9v5.9h-5.9zM761.5 151.8h11.5v5.9h-11.5zM778.4 151.8h11.5v5.9h-11.5zM862.9 151.8h5.9v5.9h-5.9zM637.7 157.4h5.9v5.9h-5.9zM862.9 157.4h5.9v5.9h-5.9zM643.3 163.0h5.9v5.9h-5.9zM648.9 168.7h5.9v5.9h-5.9zM868.5 174.3h5.9v5.9h-5.9zM547.6 179.9h50.9v5.9h-50.9zM654.6 179.9h5.9v5.9h-5.9zM868.5 179.9h5.9v5.9h-5.9zM581.4 185.6h22.8v5.9h-22.8zM654.6 185.6h5.9v5.9h-5.9zM874.1 185.6h5.9v5.9h-5.9zM587.0 191.2h17.1v5.9h-17.1zM654.6 191.2h5.9v5.9h-5.9zM592.6 196.8h11.5v5.9h-11.5zM654.6 196.8h5.9v5.9h-5.9zM879.8 196.8h5.9v5.9h-5.9zM592.6 202.4h11.5v5.9h-11.5zM654.6 202.4h5.9v5.9h-5.9zM879.8 202.4h5.9v5.9h-5.9zM592.6 208.1h11.5v5.9h-11.5zM592.6 213.7h5.9v5.9h-5.9zM885.4 213.7h5.9v5.9h-5.9zM587.0 219.3h11.5v5.9h-11.5zM587.0 225.0h11.5v5.9h-11.5zM587.0 230.6h11.5v5.9h-11.5zM902.3 230.6h5.9v5.9h-5.9zM587.0 236.2h5.9v5.9h-5.9zM913.6 236.2h11.5v5.9h-11.5zM581.4 241.9h5.9v5.9h-5.9zM643.3 241.9h5.9v5.9h-5.9zM575.7 247.5h5.9v5.9h-5.9zM564.5 253.1h11.5v5.9h-11.5zM637.7 253.1h5.9v5.9h-5.9zM547.6 258.7h22.8v5.9h-22.8zM632.0 264.4h5.9v5.9h-5.9zM632.0 270.0h5.9v5.9h-5.9zM632.0 275.6h5.9v5.9h-5.9zM632.0 281.3h5.9v5.9h-5.9zM632.0 286.9h5.9v5.9h-5.9zM632.0 292.5h5.9v5.9h-5.9zM632.0 298.2h5.9v5.9h-5.9zM626.4 303.8h11.5v5.9h-11.5zM620.8 309.4h11.5v5.9h-11.5zM620.8 315.0h5.9v5.9h-5.9zM615.1 320.7h11.5v5.9h-11.5zM615.1 326.3h11.5v5.9h-11.5zM620.8 331.9h5.9v5.9h-5.9zM626.4 337.6h11.5v5.9h-11.5zM902.3 337.6h22.8v5.9h-22.8zM632.0 343.2h11.5v5.9h-11.5zM896.7 343.2h5.9v5.9h-5.9zM637.7 348.8h5.9v5.9h-5.9zM891.0 348.8h5.9v5.9h-5.9zM643.3 354.5h5.9v5.9h-5.9zM885.4 354.5h5.9v5.9h-5.9zM643.3 360.1h5.9v5.9h-5.9zM857.3 360.1h5.9v5.9h-5.9zM874.1 360.1h17.1v5.9h-17.1zM648.9 365.7h11.5v5.9h-11.5zM846.0 365.7h5.9v5.9h-5.9zM671.5 371.4h34.0v5.9h-34.0zM800.9 371.4h22.8v5.9h-22.8zM834.7 371.4h5.9v5.9h-5.9zM739.0 377.0h62.2v5.9h-62.2zM772.8 382.6h5.9v5.9h-5.9zM767.2 388.2h17.1v5.9h-17.1zM767.2 393.9h17.1v5.9h-17.1zM772.8 399.5h5.9v5.9h-5.9z"/>
<path fill="#50ffaf" d="M772.8 61.7h17.1v5.9h-17.1zM772.8 67.3h17.1v5.9h-17.1zM778.4 72.9h11.5v5.9h-11.5zM784.1 78.6h11.5v5.9h-11.5zM795.3 84.2h5.9v5.9h-5.9zM800.9 89.8h17.1v5.9h-17.1zM823.5 95.5h5.9v5.9h-5.9zM671.5 101.1h22.8v5.9h-22.8zM823.5 101.1h5.9v5.9h-5.9zM648.9 106.7h11.5v5.9h-11.5zM694.0 106.7h11.5v5.9h-11.5zM643.3 112.4h5.9v5.9h-5.9zM705.2 112.4h5.9v5.9h-5.9zM868.5 112.4h11.5v5.9h-11.5zM637.7 118.0h5.9v5.9h-5.9zM716.5 118.0h11.5v5.9h-11.5zM823.5 118.0h5.9v5.9h-5.9zM862.9 118.0h11.5v5.9h-11.5zM862.9 123.6h5.9v5.9h-5.9zM862.9 129.2h5.9v5.9h-5.9zM739.0 134.9h5.9v5.9h-5.9zM744.6 140.5h5.9v5.9h-5.9zM800.9 140.5h5.9v5.9h-5.9zM862.9 140.5h5.9v5.9h-5.9zM632.0 146.1h5.9v5.9h-5.9zM755.9 146.1h5.9v5.9h-5.9zM862.9 146.1h5.9v5.9h-5.9zM632.0 151.8h5.9v5.9h-5.9zM772.8 151.8h5.9v5.9h-5.9zM581.4 157.4h17.1v5.9h-17.1zM632.0 157.4h5.9v5.9h-5.9zM868.5 157.4h5.9v5.9h-5.9zM547.6 163.0h67.8v5.9h-67.8zM632.0 163.0h11.5v5.9h-11.5zM868.5 163.0h5.9v5.9h-5.9zM547.6 168.7h73.4v5.9h-73.4zM643.3 168.7h5.9v5.9h-5.9zM868.5 168.7h11.5v5.9h-11.5zM547.6 174.3h67.8v5.9h-67.8zM648.9 174.3h5.9v5.9h-5.9zM874.1 174.3h5.9v5.9h-5.9zM598.3 179.9h11.5v5.9h-11.5zM874.1 179.9h5.9v5.9h-5.9zM603.9 185.6h5.9v5.9h-5.9zM879.8 185.6h5.9v5.9h-5.9zM603.9 191.2h5.9v5.9h-5.9zM879.8 191.2h5.9v5.9h-5.9zM603.9 196.8h5.9v5.9h-5.9zM603.9 202.4h5.9v5.9h-5.9zM603.9 208.1h5.9v5.9h-5.9zM885.4 208.1h5.9v5.9h-5.9zM598.3 213.7h11.5v5.9h-11.5zM598.3 219.3h5.9v5.9h-5.9zM648.9 219.3h5.9v5.9h-5.9zM891.0 219.3h5.9v5.9h-5.9zM598.3 225.0h5.9v5.9h-5.9zM648.9 225.0h5.9v5.9h-5.9zM896.7 225.0h5.9v5.9h-5.9zM598.3 230.6h5.9v5.9h-5.9zM907.9 230.6h17.1v5.9h-17.1zM592.6 236.2h11.5v5.9h-11.5zM587.0 241.9h11.5v5.9h-11.5zM581.4 247.5h5.9v5.9h-5.9zM637.7 247.5h5.9v5.9h-5.9zM575.7 253.1h5.9v5.9h-5.9zM570.1 258.7h11.5v5.9h-11.5zM632.0 258.7h5.9v5.9h-5.9zM547.6 264.4h28.4v5.9h-28.4zM626.4 264.4h5.9v5.9h-5.9zM547.6 270.0h22.8v5.9h-22.8zM626.4 270.0h5.9v5.9h-5.9zM626.4 275.6h5.9v5.9h-5.9zM626.4 281.3h5.9v5.9h-5.9zM626.4 286.9h5.9v5.9h-5.9zM620.8 292.5h11.5v5.9h-11.5zM620.8 298.2h11.5v5.9h-11.5zM620.8 303.8h5.9v5.9h-5.9zM615.1 309.4h5.9v5.9h-5.9zM615.1 315.0h5.9v5.9h-5.9zM609.5 320.7h5.9v5.9h-5.9zM615.1 331.9h5.9v5.9h-5.9zM615.1 337.6h11.5v5.9h-11.5zM620.8 343.2h11.5v5.9h-11.5zM632.0 348.8h5.9v5.9h-5.9zM896.7 348.8h5.9v5.9h-5.9zM632.0 354.5h11.5v5.9h-11.5zM891.0 354.5h5.9v5.9h-5.9zM637.7 360.1h5.9v5.9h-5.9zM862.9 360.1h11.5v5.9h-11.5zM643.3 365.7h5.9v5.9h-5.9zM648.9 371.4h22.8v5.9h-22.8zM840.4 371.4h5.9v5.9h-5.9zM699.6 377.0h39.7v5.9h-39.7zM800.9 377.0h17.1v5.9h-17.1zM744.6 382.6h28.4v5.9h-28.4zM778.4 382.6h28.4v5.9h-28.4zM761.5 388.2h5.9v5.9h-5.9zM784.1 388.2h17.1v5.9h-17.1zM761.5 393.9h5.9v5.9h-5.9zM784.1 393.9h11.5v5.9h-11.5zM767.2 399.5h5.9v5.9h-5.9zM778.4 399.5h11.5v5.9h-11.5zM772.8 405.1h17.1v5.9h-17.1zM772.8 410.8h11.5v5.9h-11.5zM778.4 416.4h5.9v5.9h-5.9zM778.4 422.0h5.9v5.9h-5.9zM778.4 427.7h5.9v5.9h-5.9zM778.4 433.3h5.9v5.9h-5.9z"/>
<path fill="#60ff9f" d="M744.6 61.7h28.4v5.9h-28.4zM744.6 67.3h28.4v5.9h-28.4zM744.6 72.9h34.0v5.9h-34.0zM755.9 78.6h28.4v5.9h-28.4zM784.1 84.2h11.5v5.9h-11.5zM795.3 89.8h5.9v5.9h-5.9zM812.2 95.5h11.5v5.9h-11.5zM660.2 101.1h11.5v5.9h-11.5zM694.0 101.1h11.5v5.9h-11.5zM632.0 106.7h17.1v5.9h-17.1zM705.2 106.7h5.9v5.9h-5.9zM823.5 106.7h5.9v5.9h-5.9zM632.0 112.4h11.5v5.9h-11.5zM710.9 112.4h11.5v5.9h-11.5zM823.5 112.4h5.9v5.9h-5.9zM632.0 118.0h5.9v5.9h-5.9zM874.1 118.0h11.5v5.9h-11.5zM632.0 123.6h5.9v5.9h-5.9zM817.8 123.6h5.9v5.9h-5.9zM868.5 123.6h11.5v5.9h-11.5zM632.0 129.2h5.9v5.9h-5.9zM812.2 129.2h5.9v5.9h-5.9zM868.5 129.2h5.9v5.9h-5.9zM632.0 134.9h5.9v5.9h-5.9zM806.6 134.9h5.9v5.9h-5.9zM862.9 134.9h5.9v5.9h-5.9zM581.4 140.5h5.9v5.9h-5.9zM632.0 140.5h5.9v5.9h-5.9zM750.3 140.5h5.9v5.9h-5.9zM570.1 146.1h28.4v5.9h-28.4zM761.5 146.1h5.9v5.9h-5.9zM789.7 146.1h5.9v5.9h-5.9zM868.5 146.1h5.9v5.9h-5.9zM547.6 151.8h56.6v5.9h-56.6zM626.4 151.8h5.9v5.9h-5.9zM868.5 151.8h5.9v5.9h-5.9zM547.6 157.4h34.0v5.9h-34.0zM598.3 157.4h34.0v5.9h-34.0zM874.1 157.4h5.9v5.9h-5.9zM615.1 163.0h17.1v5.9h-17.1zM874.1 163.0h11.5v5.9h-11.5zM620.8 168.7h22.8v5.9h-22.8zM879.8 168.7h5.9v5.9h-5.9zM615.1 174.3h11.5v5.9h-11.5zM879.8 174.3h5.9v5.9h-5.9zM609.5 179.9h11.5v5.9h-11.5zM879.8 179.9h5.9v5.9h-5.9zM609.5 185.6h5.9v5.9h-5.9zM609.5 191.2h5.9v5.9h-5.9zM885.4 196.8h5.9v5.9h-5.9zM885.4 202.4h5.9v5.9h-5.9zM648.9 213.7h5.9v5.9h-5.9zM891.0 213.7h5.9v5.9h-5.9zM603.9 219.3h5.9v5.9h-5.9zM896.7 219.3h5.9v5.9h-5.9zM603.9 225.0h5.9v5.9h-5.9zM902.3 225.0h11.5v5.9h-11.5zM603.9 230.6h5.9v5.9h-5.9zM603.9 236.2h5.9v5.9h-5.9zM643.3 236.2h5.9v5.9h-5.9zM598.3 241.9h11.5v5.9h-11.5zM587.0 247.5h22.8v5.9h-22.8zM581.4 253.1h11.5v5.9h-11.5zM626.4 253.1h11.5v5.9h-11.5zM581.4 258.7h5.9v5.9h-5.9zM620.8 258.7h11.5v5.9h-11.5zM575.7 264.4h5.9v5.9h-5.9zM615.1 264.4h11.5v5.9h-11.5zM570.1 270.0h11.5v5.9h-11.5zM615.1 270.0h11.5v5.9h-11.5zM547.6 275.6h28.4v5.9h-28.4zM615.1 275.6h11.5v5.9h-11.5zM615.1 281.3h11.5v5.9h-11.5zM615.1 286.9h11.5v5.9h-11.5zM615.1 292.5h5.9v5.9h-5.9zM615.1 298.2h5.9v5.9h-5.9zM609.5 303.8h11.5v5.9h-11.5zM609.5 309.4h5.9v5.9h-5.9zM609.5 315.0h5.9v5.9h-5.9zM609.5 326.3h5.9v5.9h-5.9zM609.5 331.9h5.9v5.9h-5.9zM615.1 343.2h5.9v5.9h-5.9zM620.8 348.8h11.5v5.9h-11.5zM626.4 354.5h5.9v5.9h-5.9zM626.4 360.1h11.5v5.9h-11.5zM632.0 365.7h11.5v5.9h-11.5zM851.6 365.7h5.9v5.9h-5.9zM879.8 365.7h22.8v5.9h-22.8zM637.7 371.4h11.5v5.9h-11.5zM654.6 377.0h45.3v5.9h-45.3zM817.8 377.0h11.5v5.9h-11.5zM705.2 382.6h39.7v5.9h-39.7zM806.6 382.6h11.5v5.9h-11.5zM727.8 388.2h34.0v5.9h-34.0zM800.9 388.2h11.5v5.9h-11.5zM739.0 393.9h22.8v5.9h-22.8zM795.3 393.9h11.5v5.9h-11.5zM744.6 399.5h22.8v5.9h-22.8zM789.7 399.5h11.5v5.9h-11.5zM755.9 405.1h17.1v5.9h-17.1zM789.7 405.1h11.5v5.9h-11.5zM755.9 410.8h17.1v5.9h-17.1zM784.1 410.8h17.1v5.9h-17.1zM761.5 416.4h17.1v5.9h-17.1zM784.1 416.4h17.1v5.9h-17.1zM761.5 422.0h17.1v5.9h-17.1zM784.1 422.0h17.1v5.9h-17.1zM767.2 427.7h11.5v5.9h-11.5zM784.1 427.7h17.1v5.9h-17.1zM767.2 433.3h11.5v5.9h-11.5z"/>
<path fill="#70ff8f" d="M733.4 61.7h11.5v5.9h-11.5zM733.4 67.3h11.5v5.9h-11.5zM733.4 72.9h11.5v5.9h-11.5zM733.4 78.6h22.8v5.9h-22.8zM739.0 84.2h45.3v5.9h-45.3zM789.7 89.8h5.9v5.9h-5.9zM609.5 95.5h22.8v5.9h-22.8zM665.8 95.5h45.3v5.9h-45.3zM806.6 95.5h5.9v5.9h-5.9zM609.5 101.1h50.9v5.9h-50.9zM705.2 101.1h11.5v5.9h-11.5zM817.8 101.1h5.9v5.9h-5.9zM615.1 106.7h17.1v5.9h-17.1zM710.9 106.7h11.5v5.9h-11.5zM817.8 106.7h5.9v5.9h-5.9zM615.1 112.4h17.1v5.9h-17.1zM722.1 112.4h5.9v5.9h-5.9zM817.8 112.4h5.9v5.9h-5.9zM620.8 118.0h11.5v5.9h-11.5zM727.8 118.0h5.9v5.9h-5.9zM817.8 118.0h5.9v5.9h-5.9zM547.6 123.6h45.3v5.9h-45.3zM626.4 123.6h5.9v5.9h-5.9zM733.4 123.6h5.9v5.9h-5.9zM812.2 123.6h5.9v5.9h-5.9zM879.8 123.6h11.5v5.9h-11.5zM547.6 129.2h50.9v5.9h-50.9zM626.4 129.2h5.9v5.9h-5.9zM874.1 129.2h11.5v5.9h-11.5zM547.6 134.9h50.9v5.9h-50.9zM626.4 134.9h5.9v5.9h-5.9zM744.6 134.9h5.9v5.9h-5.9zM868.5 134.9h11.5v5.9h-11.5zM547.6 140.5h34.0v5.9h-34.0zM587.0 140.5h11.5v5.9h-11.5zM626.4 140.5h5.9v5.9h-5.9zM795.3 140.5h5.9v5.9h-5.9zM868.5 140.5h11.5v5.9h-11.5zM598.3 146.1h5.9v5.9h-5.9zM620.8 146.1h11.5v5.9h-11.5zM767.2 146.1h22.8v5.9h-22.8zM874.1 146.1h5.9v5.9h-5.9zM603.9 151.8h22.8v5.9h-22.8zM874.1 151.8h11.5v5.9h-11.5zM879.8 157.4h5.9v5.9h-5.9zM626.4 174.3h5.9v5.9h-5.9zM643.3 174.3h5.9v5.9h-5.9zM620.8 179.9h5.9v5.9h-5.9zM648.9 179.9h5.9v5.9h-5.9zM885.4 179.9h5.9v5.9h-5.9zM615.1 185.6h5.9v5.9h-5.9zM648.9 185.6h5.9v5.9h-5.9zM885.4 185.6h5.9v5.9h-5.9zM648.9 191.2h5.9v5.9h-5.9zM885.4 191.2h5.9v5.9h-5.9zM609.5 196.8h5.9v5.9h-5.9zM648.9 196.8h5.9v5.9h-5.9zM609.5 202.4h5.9v5.9h-5.9zM648.9 202.4h5.9v5.9h-5.9zM609.5 208.1h5.9v5.9h-5.9zM648.9 208.1h5.9v5.9h-5.9zM891.0 208.1h5.9v5.9h-5.9zM609.5 213.7h5.9v5.9h-5.9zM609.5 219.3h5.9v5.9h-5.9zM902.3 219.3h5.9v5.9h-5.9zM609.5 225.0h5.9v5.9h-5.9zM913.6 225.0h11.5v5.9h-11.5zM609.5 230.6h5.9v5.9h-5.9zM643.3 230.6h5.9v5.9h-5.9zM609.5 236.2h5.9v5.9h-5.9zM609.5 241.9h11.5v5.9h-11.5zM637.7 241.9h5.9v5.9h-5.9zM609.5 247.5h28.4v5.9h-28.4zM592.6 253.1h34.0v5.9h-34.0zM587.0 258.7h34.0v5.9h-34.0zM581.4 264.4h34.0v5.9h-34.0zM581.4 270.0h11.5v5.9h-11.5zM603.9 270.0h11.5v5.9h-11.5zM575.7 275.6h11.5v5.9h-11.5zM603.9 275.6h11.5v5.9h-11.5zM547.6 281.3h34.0v5.9h-34.0zM603.9 281.3h11.5v5.9h-11.5zM547.6 286.9h28.4v5.9h-28.4zM609.5 286.9h5.9v5.9h-5.9zM609.5 292.5h5.9v5.9h-5.9zM603.9 298.2h11.5v5.9h-11.5zM603.9 303.8h5.9v5.9h-5.9zM603.9 309.4h5.9v5.9h-5.9zM598.3 315.0h11.5v5.9h-11.5zM598.3 320.7h11.5v5.9h-11.5zM598.3 326.3h11.5v5.9h-11.5zM603.9 331.9h5.9v5.9h-5.9zM609.5 337.6h5.9v5.9h-5.9zM609.5 343.2h5.9v5.9h-5.9zM615.1 348.8h5.9v5.9h-5.9zM620.8 354.5h5.9v5.9h-5.9zM620.8 360.1h5.9v5.9h-5.9zM626.4 365.7h5.9v5.9h-5.9zM857.3 365.7h5.9v5.9h-5.9zM868.5 365.7h11.5v5.9h-11.5zM632.0 371.4h5.9v5.9h-5.9zM846.0 371.4h5.9v5.9h-5.9zM637.7 377.0h17.1v5.9h-17.1zM829.1 377.0h11.5v5.9h-11.5zM648.9 382.6h56.6v5.9h-56.6zM817.8 382.6h5.9v5.9h-5.9zM671.5 388.2h56.6v5.9h-56.6zM812.2 388.2h5.9v5.9h-5.9zM699.6 393.9h39.7v5.9h-39.7zM806.6 393.9h11.5v5.9h-11.5zM705.2 399.5h39.7v5.9h-39.7zM800.9 399.5h11.5v5.9h-11.5zM733.4 405.1h22.8v5.9h-22.8zM800.9 405.1h11.5v5.9h-11.5zM744.6 410.8h11.5v5.9h-11.5zM800.9 410.8h11.5v5.9h-11.5zM750.3 416.4h11.5v5.9h-11.5zM800.9 416.4h11.5v5.9h-11.5zM750.3 422.0h11.5v5.9h-11.5zM800.9 422.0h17.1v5.9h-17.1zM755.9 427.7h11.5v5.9h-11.5zM761.5 433.3h5.9v5.9h-5.9z"/>
<path fill="#80ff80" d="M722.1 61.7h11.5v5.9h-11.5zM722.1 67.3h11.5v5.9h-11.5zM722.1 72.9h11.5v5.9h-11.5zM716.5 78.6h17.1v5.9h-17.1zM716.5 84.2h22.8v5.9h-22.8zM626.4 89.8h5.9v5.9h-5.9zM677.1 89.8h67.8v5.9h-67.8zM778.4 89.8h11.5v5.9h-11.5zM632.0 95.5h34.0v5.9h-34.0zM710.9 95.5h22.8v5.9h-22.8zM800.9 95.5h5.9v5.9h-5.9zM716.5 101.1h11.5v5.9h-11.5zM806.6 101.1h11.5v5.9h-11.5zM564.5 106.7h50.9v5.9h-50.9zM722.1 106.7h5.9v5.9h-5.9zM812.2 106.7h5.9v5.9h-5.9zM570.1 112.4h45.3v5.9h-45.3zM727.8 112.4h5.9v5.9h-5.9zM575.7 118.0h45.3v5.9h-45.3zM812.2 118.0h5.9v5.9h-5.9zM592.6 123.6h17.1v5.9h-17.1zM615.1 123.6h11.5v5.9h-11.5zM598.3 129.2h5.9v5.9h-5.9zM620.8 129.2h5.9v5.9h-5.9zM739.0 129.2h5.9v5.9h-5.9zM806.6 129.2h5.9v5.9h-5.9zM885.4 129.2h5.9v5.9h-5.9zM598.3 134.9h5.9v5.9h-5.9zM620.8 134.9h5.9v5.9h-5.9zM800.9 134.9h5.9v5.9h-5.9zM879.8 134.9h11.5v5.9h-11.5zM598.3 140.5h11.5v5.9h-11.5zM620.8 140.5h5.9v5.9h-5.9zM755.9 140.5h5.9v5.9h-5.9zM789.7 140.5h5.9v5.9h-5.9zM879.8 140.5h11.5v5.9h-11.5zM603.9 146.1h17.1v5.9h-17.1zM879.8 146.1h11.5v5.9h-11.5zM885.4 151.8h5.9v5.9h-5.9zM885.4 157.4h5.9v5.9h-5.9zM885.4 163.0h5.9v5.9h-5.9zM885.4 168.7h5.9v5.9h-5.9zM632.0 174.3h11.5v5.9h-11.5zM885.4 174.3h5.9v5.9h-5.9zM626.4 179.9h5.9v5.9h-5.9zM620.8 185.6h5.9v5.9h-5.9zM615.1 191.2h5.9v5.9h-5.9zM891.0 191.2h5.9v5.9h-5.9zM615.1 196.8h5.9v5.9h-5.9zM891.0 196.8h5.9v5.9h-5.9zM615.1 202.4h5.9v5.9h-5.9zM891.0 202.4h5.9v5.9h-5.9zM615.1 208.1h5.9v5.9h-5.9zM896.7 208.1h5.9v5.9h-5.9zM615.1 213.7h5.9v5.9h-5.9zM896.7 213.7h11.5v5.9h-11.5zM615.1 219.3h5.9v5.9h-5.9zM643.3 219.3h5.9v5.9h-5.9zM907.9 219.3h17.1v5.9h-17.1zM615.1 225.0h5.9v5.9h-5.9zM643.3 225.0h5.9v5.9h-5.9zM615.1 230.6h5.9v5.9h-5.9zM615.1 236.2h11.5v5.9h-11.5zM637.7 236.2h5.9v5.9h-5.9zM620.8 241.9h17.1v5.9h-17.1zM592.6 270.0h11.5v5.9h-11.5zM587.0 275.6h17.1v5.9h-17.1zM581.4 281.3h22.8v5.9h-22.8zM575.7 286.9h34.0v5.9h-34.0zM547.6 292.5h62.2v5.9h-62.2zM547.6 298.2h56.6v5.9h-56.6zM547.6 303.8h56.6v5.9h-56.6zM558.8 309.4h45.3v5.9h-45.3zM581.4 315.0h17.1v5.9h-17.1zM581.4 320.7h17.1v5.9h-17.1zM581.4 326.3h17.1v5.9h-17.1zM592.6 331.9h11.5v5.9h-11.5zM598.3 337.6h11.5v5.9h-11.5zM609.5 348.8h5.9v5.9h-5.9zM615.1 354.5h5.9v5.9h-5.9zM615.1 360.1h5.9v5.9h-5.9zM620.8 365.7h5.9v5.9h-5.9zM862.9 365.7h5.9v5.9h-5.9zM620.8 371.4h11.5v5.9h-11.5zM851.6 371.4h5.9v5.9h-5.9zM879.8 371.4h5.9v5.9h-5.9zM626.4 377.0h11.5v5.9h-11.5zM840.4 377.0h5.9v5.9h-5.9zM626.4 382.6h22.8v5.9h-22.8zM823.5 382.6h5.9v5.9h-5.9zM632.0 388.2h39.7v5.9h-39.7zM817.8 388.2h5.9v5.9h-5.9zM632.0 393.9h67.8v5.9h-67.8zM817.8 393.9h5.9v5.9h-5.9zM632.0 399.5h73.4v5.9h-73.4zM812.2 399.5h5.9v5.9h-5.9zM632.0 405.1h101.6v5.9h-101.6zM812.2 405.1h5.9v5.9h-5.9zM632.0 410.8h112.9v5.9h-112.9zM812.2 410.8h11.5v5.9h-11.5zM632.0 416.4h118.5v5.9h-118.5zM812.2 416.4h11.5v5.9h-11.5zM632.0 422.0h118.5v5.9h-118.5zM632.0 427.7h90.3v5.9h-90.3zM744.6 427.7h11.5v5.9h-11.5zM626.4 433.3h96.0v5.9h-96.0zM750.3 433.3h11.5v5.9h-11.5z"/>
<path fill="#8fff70" d="M705.2 61.7h17.1v5.9h-17.1zM705.2 67.3h17.1v5.9h-17.1zM705.2 72.9h17.1v5.9h-17.1zM705.2 78.6h11.5v5.9h-11.5zM694.0 84.2h22.8v5.9h-22.8zM632.0 89.8h45.3v5.9h-45.3zM744.6 89.8h34.0v5.9h-34.0zM733.4 95.5h5.9v5.9h-5.9zM795.3 95.5h5.9v5.9h-5.9zM727.8 101.1h5.9v5.9h-5.9zM727.8 106.7h5.9v5.9h-5.9zM812.2 112.4h5.9v5.9h-5.9zM733.4 118.0h5.9v5.9h-5.9zM609.5 123.6h5.9v5.9h-5.9zM806.6 123.6h5.9v5.9h-5.9zM603.9 129.2h17.1v5.9h-17.1zM603.9 134.9h17.1v5.9h-17.1zM750.3 134.9h5.9v5.9h-5.9zM609.5 140.5h11.5v5.9h-11.5zM761.5 140.5h5.9v5.9h-5.9zM784.1 140.5h5.9v5.9h-5.9zM891.0 140.5h5.9v5.9h-5.9zM891.0 146.1h5.9v5.9h-5.9zM891.0 151.8h5.9v5.9h-5.9zM891.0 157.4h5.9v5.9h-5.9zM891.0 163.0h5.9v5.9h-5.9zM891.0 168.7h5.9v5.9h-5.9zM891.0 174.3h5.9v5.9h-5.9zM632.0 179.9h17.1v5.9h-17.1zM891.0 179.9h5.9v5.9h-5.9zM626.4 185.6h5.9v5.9h-5.9zM643.3 185.6h5.9v5.9h-5.9zM891.0 185.6h11.5v5.9h-11.5zM620.8 191.2h5.9v5.9h-5.9zM643.3 191.2h5.9v5.9h-5.9zM896.7 191.2h5.9v5.9h-5.9zM620.8 196.8h5.9v5.9h-5.9zM643.3 196.8h5.9v5.9h-5.9zM896.7 196.8h11.5v5.9h-11.5zM620.8 202.4h5.9v5.9h-5.9zM643.3 202.4h5.9v5.9h-5.9zM896.7 202.4h17.1v5.9h-17.1zM620.8 208.1h5.9v5.9h-5.9zM643.3 208.1h5.9v5.9h-5.9zM902.3 208.1h17.1v5.9h-17.1zM620.8 213.7h5.9v5.9h-5.9zM643.3 213.7h5.9v5.9h-5.9zM907.9 213.7h17.1v5.9h-17.1zM620.8 219.3h5.9v5.9h-5.9zM620.8 225.0h5.9v5.9h-5.9zM637.7 225.0h5.9v5.9h-5.9zM620.8 230.6h22.8v5.9h-22.8zM626.4 236.2h11.5v5.9h-11.5zM547.6 309.4h11.5v5.9h-11.5zM547.6 315.0h34.0v5.9h-34.0zM547.6 320.7h34.0v5.9h-34.0zM547.6 326.3h34.0v5.9h-34.0zM547.6 331.9h45.3v5.9h-45.3zM575.7 337.6h22.8v5.9h-22.8zM592.6 343.2h17.1v5.9h-17.1zM603.9 348.8h5.9v5.9h-5.9zM609.5 354.5h5.9v5.9h-5.9zM609.5 360.1h5.9v5.9h-5.9zM615.1 365.7h5.9v5.9h-5.9zM615.1 371.4h5.9v5.9h-5.9zM857.3 371.4h5.9v5.9h-5.9zM868.5 371.4h11.5v5.9h-11.5zM615.1 377.0h11.5v5.9h-11.5zM846.0 377.0h5.9v5.9h-5.9zM620.8 382.6h5.9v5.9h-5.9zM829.1 382.6h17.1v5.9h-17.1zM620.8 388.2h11.5v5.9h-11.5zM823.5 388.2h11.5v5.9h-11.5zM615.1 393.9h17.1v5.9h-17.1zM823.5 393.9h5.9v5.9h-5.9zM615.1 399.5h17.1v5.9h-17.1zM817.8 399.5h11.5v5.9h-11.5zM615.1 405.1h17.1v5.9h-17.1zM817.8 405.1h11.5v5.9h-11.5zM823.5 410.8h5.9v5.9h-5.9zM823.5 416.4h11.5v5.9h-11.5zM722.1 427.7h22.8v5.9h-22.8zM722.1 433.3h28.4v5.9h-28.4z"/>
<path fill="#9fff60" d="M694.0 61.7h11.5v5.9h-11.5zM615.1 67.3h62.2v5.9h-62.2zM694.0 67.3h11.5v5.9h-11.5zM620.8 72.9h56.6v5.9h-56.6zM694.0 72.9h11.5v5.9h-11.5zM626.4 78.6h79.1v5.9h-79.1zM632.0 84.2h62.2v5.9h-62.2zM739.0 95.5h11.5v5.9h-11.5zM789.7 95.5h5.9v5.9h-5.9zM733.4 101.1h5.9v5.9h-5.9zM800.9 101.1h5.9v5.9h-5.9zM733.4 106.7h5.9v5.9h-5.9zM806.6 106.7h5.9v5.9h-5.9zM733.4 112.4h5.9v5.9h-5.9zM806.6 112.4h5.9v5.9h-5.9zM806.6 118.0h5.9v5.9h-5.9zM739.0 123.6h5.9v5.9h-5.9zM800.9 129.2h5.9v5.9h-5.9zM795.3 134.9h5.9v5.9h-5.9zM767.2 140.5h5.9v5.9h-5.9zM778.4 140.5h5.9v5.9h-5.9zM896.7 146.1h28.4v5.9h-28.4zM896.7 151.8h28.4v5.9h-28.4zM896.7 157.4h11.5v5.9h-11.5zM896.7 163.0h11.5v5.9h-11.5zM896.7 168.7h11.5v5.9h-11.5zM896.7 174.3h11.5v5.9h-11.5zM896.7 179.9h28.4v5.9h-28.4zM632.0 185.6h11.5v5.9h-11.5zM902.3 185.6h22.8v5.9h-22.8zM626.4 191.2h17.1v5.9h-17.1zM902.3 191.2h22.8v5.9h-22.8zM626.4 196.8h17.1v5.9h-17.1zM907.9 196.8h17.1v5.9h-17.1zM626.4 202.4h5.9v5.9h-5.9zM913.6 202.4h11.5v5.9h-11.5zM626.4 208.1h5.9v5.9h-5.9zM637.7 208.1h5.9v5.9h-5.9zM919.2 208.1h5.9v5.9h-5.9zM626.4 213.7h17.1v5.9h-17.1zM626.4 219.3h17.1v5.9h-17.1zM626.4 225.0h11.5v5.9h-11.5zM547.6 337.6h28.4v5.9h-28.4zM547.6 343.2h45.3v5.9h-45.3zM547.6 348.8h56.6v5.9h-56.6zM547.6 354.5h62.2v5.9h-62.2zM547.6 360.1h62.2v5.9h-62.2zM603.9 365.7h11.5v5.9h-11.5zM609.5 371.4h5.9v5.9h-5.9zM862.9 371.4h5.9v5.9h-5.9zM609.5 377.0h5.9v5.9h-5.9zM851.6 377.0h34.0v5.9h-34.0zM609.5 382.6h11.5v5.9h-11.5zM846.0 382.6h11.5v5.9h-11.5zM609.5 388.2h11.5v5.9h-11.5zM834.7 388.2h22.8v5.9h-22.8zM609.5 393.9h5.9v5.9h-5.9zM829.1 393.9h28.4v5.9h-28.4zM829.1 399.5h34.0v5.9h-34.0zM829.1 405.1h34.0v5.9h-34.0zM829.1 410.8h34.0v5.9h-34.0z"/>
<path fill="#afff50" d="M671.5 61.7h22.8v5.9h-22.8zM677.1 67.3h17.1v5.9h-17.1zM677.1 72.9h17.1v5.9h-17.1zM750.3 95.5h5.9v5.9h-5.9zM778.4 95.5h11.5v5.9h-11.5zM739.0 101.1h5.9v5.9h-5.9zM795.3 101.1h5.9v5.9h-5.9zM800.9 106.7h5.9v5.9h-5.9zM744.6 129.2h5.9v5.9h-5.9zM755.9 134.9h5.9v5.9h-5.9zM789.7 134.9h5.9v5.9h-5.9zM772.8 140.5h5.9v5.9h-5.9zM907.9 163.0h17.1v5.9h-17.1zM907.9 168.7h17.1v5.9h-17.1zM907.9 174.3h17.1v5.9h-17.1zM632.0 202.4h11.5v5.9h-11.5zM632.0 208.1h5.9v5.9h-5.9zM575.7 365.7h28.4v5.9h-28.4zM570.1 371.4h39.7v5.9h-39.7zM564.5 377.0h45.3v5.9h-45.3zM558.8 382.6h50.9v5.9h-50.9zM857.3 382.6h22.8v5.9h-22.8zM598.3 388.2h11.5v5.9h-11.5zM857.3 388.2h34.0v5.9h-34.0zM857.3 393.9h45.3v5.9h-45.3z"/>
<path fill="#bfff40" d="M755.9 95.5h22.8v5.9h-22.8zM744.6 101.1h5.9v5.9h-5.9zM789.7 101.1h5.9v5.9h-5.9zM739.0 106.7h5.9v5.9h-5.9zM800.9 112.4h5.9v5.9h-5.9zM739.0 118.0h5.9v5.9h-5.9zM800.9 118.0h5.9v5.9h-5.9zM800.9 123.6h5.9v5.9h-5.9zM795.3 129.2h5.9v5.9h-5.9zM784.1 134.9h5.9v5.9h-5.9z"/>
<path fill="#cfff30" d="M750.3 101.1h5.9v5.9h-5.9zM784.1 101.1h5.9v5.9h-5.9zM795.3 106.7h5.9v5.9h-5.9zM739.0 112.4h5.9v5.9h-5.9zM744.6 123.6h5.9v5.9h-5.9zM795.3 123.6h5.9v5.9h-5.9zM750.3 129.2h5.9v5.9h-5.9zM789.7 129.2h5.9v5.9h-5.9zM761.5 134.9h5.9v5.9h-5.9zM778.4 134.9h5.9v5.9h-5.9z"/>
<path fill="#dfff20" d="M755.9 101.1h5.9v5.9h-5.9zM778.4 101.1h5.9v5.9h-5.9zM744.6 106.7h5.9v5.9h-5.9zM789.7 106.7h5.9v5.9h-5.9zM744.6 112.4h5.9v5.9h-5.9zM795.3 112.4h5.9v5.9h-5.9zM744.6 118.0h5.9v5.9h-5.9zM795.3 118.0h5.9v5.9h-5.9zM767.2 134.9h11.5v5.9h-11.5z"/>
<path fill="#efff10" d="M761.5 101.1h17.1v5.9h-17.1zM750.3 106.7h5.9v5.9h-5.9zM784.1 106.7h5.9v5.9h-5.9zM789.7 112.4h5.9v5.9h-5.9zM789.7 118.0h5.9v5.9h-5.9zM750.3 123.6h5.9v5.9h-5.9zM789.7 123.6h5.9v5.9h-5.9zM755.9 129.2h5.9v5.9h-5.9zM784.1 129.2h5.9v5.9h-5.9z"/>
<path fill="#ffff00" d="M755.9 106.7h5.9v5.9h-5.9zM778.4 106.7h5.9v5.9h-5.9zM750.3 112.4h5.9v5.9h-5.9zM784.1 112.4h5.9v5.9h-5.9zM750.3 118.0h5.9v5.9h-5.9zM784.1 118.0h5.9v5.9h-5.9zM784.1 123.6h5.9v5.9h-5.9zM761.5 129.2h5.9v5.9h-5.9zM778.4 129.2h5.9v5.9h-5.9z"/>
<path fill="#ffef00" d="M761.5 106.7h17.1v5.9h-17.1zM755.9 112.4h5.9v5.9h-5.9zM778.4 112.4h5.9v5.9h-5.9zM755.9 118.0h5.9v5.9h-5.9zM755.9 123.6h5.9v5.9h-5.9zM778.4 123.6h5.9v5.9h-5.9zM767.2 129.2h11.5v5.9h-11.5z"/>
<path fill="#ffdf00" d="M761.5 112.4h17.1v5.9h-17.1zM778.4 118.0h5.9v5.9h-5.9zM761.5 123.6h5.9v5.9h-5.9zM772.8 123.6h5.9v5.9h-5.9z"/>
<path fill="#ffcf00" d="M761.5 118.0h17.1v5.9h-17.1zM767.2 123.6h5.9v5.9h-5.9z"/></g><path fill="none" stroke="#0d1f12" stroke-width="1.25" stroke-linejoin="round" d="M722.4 314.5L723.5 314.3L725.5 313.7L726.5 313.3L728.0 312.5L729.5 311.6L730.5 310.9L731.5 310.2L732.5 309.3L733.5 308.4L734.5 307.4L735.5 306.4L736.5 305.3L737.5 304.1L738.5 303.0L739.5 301.8L740.5 300.7L741.5 299.7L742.5 298.7L743.5 297.8L744.5 297.0L745.5 296.2L746.6 295.5L748.2 294.5L749.5 293.8L750.5 293.3L752.2 292.5L753.5 292.0L754.8 291.5L756.5 290.9L758.1 290.5L759.5 290.1L761.5 289.7L762.5 289.5L764.5 289.1L766.5 288.8L767.9 288.5L769.5 288.2L771.5 287.9L773.4 287.5L774.5 287.3L776.5 286.9L778.2 286.5L779.5 286.2L781.5 285.7L782.5 285.4L784.5 284.7L785.5 284.3L787.3 283.5L788.5 282.8L789.5 282.2L790.5 281.5L791.6 280.5L792.6 279.5L793.5 278.5L794.5 277.0L795.3 275.5L795.8 274.5L796.4 272.5L796.6 271.5L796.7 269.5L796.5 268.0L796.2 266.5L795.6 264.5L795.3 263.5L794.6 261.5L794.3 260.5L793.6 258.5L793.1 257.5L792.5 256.2L791.6 254.5L791.0 253.5L790.5 252.5L789.5 250.7L788.9 249.5L788.4 248.5L787.5 246.6L786.9 245.5L786.5 244.5L785.5 242.8L784.6 241.5L783.7 240.5L782.6 239.5L781.5 238.7L780.5 238.1L779.4 237.5L777.5 236.7L776.5 236.3L774.5 235.7L773.5 235.5L771.5 235.1L769.5 234.9L767.5 234.8L765.5 234.9L763.5 235.2L762.1 235.5L760.5 235.9L758.5 236.4L757.5 236.7L755.5 237.4L754.5 237.7L752.5 238.3L751.5 238.6L749.5 239.2L748.5 239.6L746.5 240.2L745.4 240.5L743.5 241.0L741.8 241.5L740.5 241.8L738.5 242.3L737.4 242.5L735.5 242.8L733.5 243.1L731.5 243.4L730.5 243.5L728.5 243.7L726.5 243.8L724.5 244.0L722.5 244.0L720.5 244.1L718.5 244.2L716.5 244.2L714.5 244.3L712.5 244.3L710.5 244.4L708.5 244.4L706.8 244.5L705.5 244.6L703.5 244.6L701.5 244.8L699.5 244.9L697.5 245.0L695.5 245.2L693.5 245.4L692.5 245.6L690.5 245.9L688.5 246.4L687.5 246.6L685.5 247.3L684.5 247.8L683.0 248.5L681.5 249.5L680.5 250.2L679.5 251.1L678.5 252.1L677.5 253.3L676.6 254.5L676.0 255.5L675.5 256.5L674.6 258.5L674.2 259.5L673.7 261.5L673.4 262.5L673.0 264.5L672.7 266.5L672.6 268.5L672.5 269.5L672.4 271.5L672.4 273.5L672.5 274.7L672.7 276.5L673.0 278.5L673.3 280.5L673.6 281.5L674.1 283.5L674.5 284.8L675.0 286.5L675.5 288.0L676.0 289.5L676.5 291.2L676.9 292.5L677.5 294.3L677.9 295.5L678.5 297.2L679.0 298.5L679.5 299.6L680.5 301.5L681.2 302.5L682.0 303.5L682.9 304.5L684.1 305.5L685.5 306.4L686.5 306.9L688.0 307.5L689.5 308.0L691.1 308.5L692.5 308.9L694.5 309.4L695.5 309.6L697.5 310.1L699.3 310.5L700.5 310.8L702.5 311.3L703.5 311.6L705.5 312.2L706.5 312.5L708.5 313.1L710.0 313.5L711.5 313.9L713.5 314.3L714.5 314.5L716.5 314.8L718.5 314.8L720.5 314.8L722.4 314.5L722.4 314.5M702.6 160.5L704.5 159.5L705.5 158.8L706.5 157.9L707.5 156.9L708.5 155.5L709.1 154.5L709.6 153.5L710.3 151.5L710.6 150.5L710.9 148.5L710.9 146.5L710.7 144.5L710.5 143.5L709.8 141.5L709.3 140.5L708.5 139.2L707.5 138.0L706.5 137.0L705.5 136.2L704.3 135.5L702.5 134.7L701.5 134.4L699.5 134.0L697.5 134.0L695.5 134.2L694.3 134.5L692.5 135.2L691.5 135.6L690.1 136.5L688.8 137.5L687.8 138.5L687.0 139.5L686.3 140.5L685.5 142.2L685.1 143.5L684.7 145.5L684.7 147.5L684.9 149.5L685.4 151.5L685.8 152.5L686.5 154.0L687.5 155.5L688.3 156.5L689.2 157.5L690.3 158.5L691.5 159.4L692.5 160.0L693.8 160.5L695.5 161.1L697.5 161.4L699.5 161.3L701.5 160.9L702.6 160.5L702.6 160.5M728.3 340.5L729.5 340.3L731.5 339.8L732.6 339.5L734.5 338.8L735.5 338.4L737.3 337.5L738.5 336.8L739.5 336.1L740.5 335.4L741.7 334.5L742.9 333.5L744.1 332.5L745.1 331.5L746.2 330.5L747.2 329.5L748.3 328.5L749.4 327.5L750.5 326.5L751.5 325.8L752.5 325.1L753.6 324.5L755.5 323.6L756.5 323.3L758.5 322.7L759.5 322.5L761.5 322.1L763.5 321.8L765.5 321.5L766.5 321.4L768.5 321.2L770.5 320.9L772.5 320.6L773.5 320.5L775.5 320.1L777.5 319.7L778.5 319.4L780.5 318.8L781.5 318.4L783.5 317.5L784.5 317.0L785.5 316.4L786.9 315.5L788.2 314.5L789.5 313.5L790.5 312.6L791.5 311.7L792.5 310.7L793.5 309.7L794.5 308.5L795.4 307.5L796.2 306.5L796.9 305.5L797.6 304.5L798.5 303.1L799.4 301.5L800.0 300.5L800.5 299.5L801.4 297.5L801.9 296.5L802.5 295.2L803.3 293.5L803.8 292.5L804.5 291.2L805.5 289.5L806.2 288.5L806.9 287.5L807.8 286.5L808.8 285.5L810.2 284.5L811.5 283.8L812.8 283.5L814.1 283.5L815.5 283.8L816.7 284.5L818.0 285.5L818.9 286.5L819.7 287.5L820.5 288.8L821.4 290.5L821.9 291.5L822.5 292.9L823.2 294.5L823.6 295.5L824.5 297.3L825.1 298.5L825.7 299.5L826.5 300.7L827.5 302.1L828.5 303.3L829.5 304.3L830.5 305.2L831.5 306.1L832.5 306.8L833.6 307.5L835.4 308.5L836.5 309.0L837.6 309.5L839.5 310.2L840.5 310.5L842.5 311.1L843.9 311.5L845.5 311.9L847.5 312.4L848.5 312.6L850.5 313.0L852.5 313.3L854.1 313.5L855.5 313.6L857.5 313.8L859.5 313.8L861.5 313.6L862.5 313.5L864.5 313.1L866.5 312.5L867.5 312.2L869.1 311.5L870.5 310.9L871.5 310.3L872.9 309.5L874.4 308.5L875.5 307.6L876.5 306.7L877.5 305.6L878.3 304.5L879.0 303.5L879.5 302.5L880.3 300.5L880.6 299.5L881.1 297.5L881.4 295.5L881.6 294.5L881.7 292.5L881.8 290.5L881.9 288.5L881.9 286.5L881.8 284.5L881.8 282.5L881.7 280.5L881.6 278.5L881.5 276.5L881.5 275.5L881.4 273.5L881.2 271.5L881.1 269.5L880.9 267.5L880.7 265.5L880.5 263.8L880.3 262.5L879.8 260.5L879.5 259.3L878.8 257.5L878.4 256.5L877.5 254.9L876.6 253.5L875.8 252.5L875.0 251.5L874.2 250.5L873.4 249.5L872.5 248.4L871.5 247.1L870.5 245.6L869.8 244.5L869.3 243.5L868.5 241.9L867.9 240.5L867.5 239.5L866.7 237.5L866.3 236.5L865.5 234.5L865.1 233.5L864.5 232.3L863.5 230.5L862.9 229.5L862.2 228.5L861.4 227.5L860.5 226.5L859.5 225.5L858.4 224.5L857.1 223.5L855.5 222.5L854.5 222.0L853.5 221.5L851.5 220.7L850.5 220.4L848.5 219.8L846.9 219.5L845.5 219.2L843.5 218.9L841.5 218.6L840.5 218.4L838.5 218.1L836.5 217.5L835.5 217.2L834.2 216.5L833.0 215.5L832.3 214.5L831.5 212.5L831.3 211.5L831.0 209.5L830.9 207.5L830.8 205.5L830.8 203.5L830.7 201.5L830.7 199.5L830.7 197.5L830.7 195.5L830.7 193.5L830.6 191.5L830.5 189.5L830.4 188.5L830.2 186.5L830.0 184.5L829.7 182.5L829.5 181.5L829.1 179.5L828.6 177.5L828.3 176.5L827.7 174.5L827.3 173.5L826.5 171.8L825.7 170.5L825.0 169.5L824.1 168.5L823.0 167.5L821.5 166.5L820.5 166.0L819.3 165.5L817.5 164.9L815.5 164.5L814.5 164.4L812.5 164.2L810.5 164.3L808.5 164.4L807.5 164.6L805.5 165.1L804.3 165.5L802.5 166.3L801.5 166.8L800.3 167.5L798.8 168.5L797.5 169.5L796.5 170.2L795.5 171.0L794.5 171.8L793.5 172.6L792.3 173.5L790.9 174.5L789.5 175.5L788.5 176.1L787.5 176.8L786.3 177.5L784.5 178.5L783.5 179.0L782.5 179.5L780.5 180.5L779.5 181.0L778.4 181.5L776.5 182.4L775.5 182.9L774.2 183.5L772.5 184.3L771.5 184.7L769.6 185.5L768.5 185.9L766.9 186.5L765.5 186.9L763.5 187.4L762.5 187.6L760.5 187.8L758.5 188.0L756.5 188.1L754.5 188.1L752.5 188.0L750.5 188.0L748.5 187.8L746.5 187.6L745.5 187.5L743.5 187.2L741.5 186.8L740.5 186.5L738.5 185.9L737.4 185.5L735.5 184.8L734.5 184.3L732.8 183.5L731.5 182.8L730.5 182.3L728.9 181.5L727.5 180.8L726.5 180.3L724.8 179.5L723.5 178.9L722.3 178.5L720.5 177.9L718.8 177.5L717.5 177.2L715.5 176.9L713.5 176.8L711.5 176.7L709.5 176.7L707.5 176.8L705.5 177.0L703.5 177.3L702.4 177.5L700.5 177.9L698.5 178.4L697.5 178.8L695.5 179.5L694.5 179.9L693.4 180.5L691.6 181.5L690.5 182.2L689.5 183.0L688.5 183.8L687.5 184.8L686.5 185.8L685.5 187.1L684.5 188.5L683.9 189.5L683.4 190.5L682.5 192.5L682.2 193.5L681.6 195.5L681.4 196.5L681.0 198.5L680.7 200.5L680.6 202.5L680.5 203.5L680.4 205.5L680.3 207.5L680.2 209.5L680.1 211.5L680.1 213.5L680.0 215.5L679.9 217.5L679.8 219.5L679.7 221.5L679.6 223.5L679.5 225.0L679.4 226.5L679.2 228.5L678.9 230.5L678.5 232.4L678.2 233.5L677.7 235.5L677.3 236.5L676.5 238.5L676.0 239.5L675.5 240.5L674.5 242.3L673.7 243.5L673.1 244.5L672.4 245.5L671.5 246.9L670.5 248.4L669.8 249.5L669.1 250.5L668.5 251.5L667.5 253.3L666.8 254.5L666.4 255.5L665.5 257.5L665.1 258.5L664.5 260.5L664.3 261.5L663.9 263.5L663.6 265.5L663.5 266.5L663.3 268.5L663.3 270.5L663.3 272.5L663.5 274.5L663.6 275.5L663.9 277.5L664.3 279.5L664.6 280.5L665.1 282.5L665.5 283.8L666.0 285.5L666.5 287.1L666.9 288.5L667.5 290.5L667.7 291.5L668.2 293.5L668.5 294.6L669.0 296.5L669.4 298.5L669.7 299.5L670.3 301.5L670.6 302.5L671.3 304.5L671.7 305.5L672.5 307.1L673.3 308.5L674.0 309.5L674.7 310.5L675.5 311.5L676.5 312.6L677.5 313.5L678.6 314.5L680.0 315.5L681.5 316.5L682.5 317.1L683.5 317.6L685.2 318.5L686.5 319.1L687.5 319.6L689.4 320.5L690.5 321.1L691.5 321.7L692.8 322.5L694.0 323.5L695.1 324.5L696.0 325.5L696.8 326.5L697.6 327.5L698.5 328.8L699.5 330.2L700.4 331.5L701.2 332.5L702.0 333.5L702.9 334.5L703.9 335.5L705.1 336.5L706.5 337.5L707.5 338.1L708.5 338.6L710.5 339.5L711.5 339.8L713.5 340.3L714.6 340.5L716.5 340.8L718.5 340.9L720.5 341.0L722.5 341.0L724.5 340.9L726.5 340.7L728.3 340.5L728.3 340.5M810.5 265.6L808.5 266.2L806.5 266.1L804.8 265.5L803.5 264.7L802.5 263.9L801.5 262.8L800.6 261.5L800.0 260.5L799.5 259.5L798.5 257.6L798.0 256.5L797.4 255.5L796.5 254.0L795.6 252.5L795.0 251.5L794.5 250.5L793.6 248.5L793.2 247.5L792.8 245.5L792.6 243.5L792.7 241.5L793.0 239.5L793.5 237.7L793.9 236.5L794.5 234.7L794.9 233.5L795.5 231.5L795.8 230.5L796.5 228.5L796.9 227.5L797.5 226.4L798.5 225.0L799.5 223.9L800.5 223.1L801.5 222.5L803.5 221.7L804.5 221.4L806.5 221.1L808.5 221.1L810.5 221.2L812.5 221.5L813.5 221.7L815.5 222.1L817.1 222.5L818.5 222.9L820.0 223.5L821.5 224.4L822.4 225.5L822.8 226.5L823.1 228.5L823.0 230.5L822.6 232.5L822.3 233.5L821.7 235.5L821.4 236.5L820.8 238.5L820.5 239.5L819.9 241.5L819.5 243.1L819.1 244.5L818.6 246.5L818.3 247.5L817.6 249.5L817.2 250.5L816.5 252.5L816.2 253.5L815.7 255.5L815.5 256.5L815.0 258.5L814.5 260.3L814.0 261.5L813.5 262.6L812.5 264.0L811.5 265.0L810.5 265.6L810.5 265.6M760.6 354.5L762.5 354.1L764.5 353.7L765.5 353.4L767.5 353.0L769.5 352.5L770.5 352.3L772.5 351.9L774.5 351.6L775.5 351.4L777.5 351.1L779.5 350.8L781.0 350.5L782.5 350.2L784.5 349.7L785.5 349.5L787.5 348.8L788.5 348.4L790.3 347.5L791.5 346.8L792.5 346.2L793.5 345.4L794.6 344.5L795.7 343.5L796.6 342.5L797.5 341.5L798.5 340.1L799.5 338.6L800.1 337.5L800.6 336.5L801.5 334.5L801.9 333.5L802.5 331.6L802.9 330.5L803.5 328.5L803.9 327.5L804.5 325.8L805.1 324.5L805.7 323.5L806.5 322.3L807.5 321.1L808.5 320.3L809.7 319.5L811.5 318.7L812.5 318.4L814.5 318.1L816.5 318.1L818.5 318.2L819.9 318.5L821.5 318.9L823.1 319.5L824.5 320.1L825.5 320.7L827.0 321.5L828.5 322.5L829.5 323.2L830.5 324.0L831.5 324.8L832.5 325.7L833.5 326.5L834.5 327.5L835.6 328.5L836.6 329.5L837.5 330.5L838.5 331.6L839.5 332.8L840.5 334.0L841.5 335.2L842.5 336.4L843.5 337.5L844.4 338.5L845.4 339.5L846.5 340.4L847.5 341.1L848.5 341.7L850.3 342.5L851.5 342.9L853.5 343.3L854.9 343.5L856.5 343.6L858.5 343.7L860.5 343.7L862.5 343.7L864.5 343.6L865.9 343.5L867.5 343.4L869.5 343.2L871.5 343.0L873.5 342.7L874.6 342.5L876.5 342.1L878.5 341.5L879.5 341.2L881.2 340.5L882.5 339.8L883.5 339.2L884.5 338.5L885.7 337.5L886.7 336.5L887.5 335.5L888.5 334.2L889.5 332.5L890.0 331.5L890.5 330.5L891.3 328.5L891.7 327.5L892.3 325.5L892.6 324.5L893.3 322.5L893.6 321.5L894.2 319.5L894.5 318.5L895.2 316.5L895.5 315.5L896.2 313.5L896.5 312.5L897.2 310.5L897.6 309.5L898.2 307.5L898.5 306.5L899.0 304.5L899.4 302.5L899.6 301.5L899.9 299.5L900.0 297.5L900.0 295.5L900.0 293.5L899.8 291.5L899.5 289.5L899.3 288.5L899.0 286.5L898.5 284.5L898.3 283.5L897.9 281.5L897.5 279.7L897.3 278.5L896.9 276.5L896.7 274.5L896.5 273.2L896.3 271.5L896.2 269.5L896.0 267.5L895.9 265.5L895.7 263.5L895.6 261.5L895.5 260.5L895.2 258.5L895.0 256.5L894.6 254.5L894.4 253.5L893.9 251.5L893.5 250.1L893.0 248.5L892.5 246.8L892.1 245.5L891.5 243.7L891.1 242.5L890.5 240.8L890.0 239.5L889.5 238.0L888.9 236.5L888.5 235.4L887.7 233.5L887.2 232.5L886.5 231.1L885.6 229.5L885.0 228.5L884.4 227.5L883.5 226.2L882.5 224.9L881.5 223.8L880.5 222.7L879.5 221.8L878.5 221.0L877.5 220.2L876.5 219.5L874.9 218.5L873.5 217.7L872.5 217.2L871.1 216.5L869.5 215.7L868.5 215.1L867.3 214.5L865.7 213.5L864.5 212.7L863.5 212.0L862.5 211.2L861.5 210.3L860.5 209.4L859.5 208.3L858.5 207.1L857.5 205.8L856.7 204.5L856.1 203.5L855.5 202.3L854.8 200.5L854.5 199.5L853.9 197.5L853.5 195.5L853.4 194.5L853.1 192.5L853.0 190.5L852.9 188.5L852.8 186.5L852.9 184.5L852.9 182.5L853.0 180.5L853.1 178.5L853.2 176.5L853.4 174.5L853.5 172.5L853.5 171.5L853.6 169.5L853.6 167.5L853.5 165.8L853.4 164.5L853.1 162.5L852.7 160.5L852.4 159.5L851.7 157.5L851.2 156.5L850.5 155.1L849.5 153.5L848.9 152.5L848.1 151.5L847.3 150.5L846.4 149.5L845.3 148.5L844.1 147.5L842.7 146.5L841.5 145.8L840.5 145.3L838.5 144.6L837.5 144.4L835.5 144.3L833.9 144.5L832.5 144.8L830.7 145.5L829.5 146.0L828.5 146.5L826.8 147.5L825.5 148.2L824.5 148.8L823.3 149.5L821.5 150.5L820.5 151.0L819.4 151.5L817.5 152.3L816.5 152.7L814.5 153.3L813.5 153.6L811.5 154.2L810.4 154.5L808.5 155.0L806.8 155.5L805.5 155.9L803.7 156.5L802.5 156.9L801.0 157.5L799.5 158.2L798.5 158.6L796.6 159.5L795.5 160.0L794.5 160.5L792.5 161.5L791.5 162.0L790.3 162.5L788.5 163.3L787.5 163.7L785.5 164.5L784.5 164.8L782.5 165.5L781.5 165.8L779.5 166.4L778.5 166.7L776.5 167.2L775.5 167.5L773.5 168.1L772.0 168.5L770.5 168.9L768.6 169.5L767.5 169.8L765.5 170.4L764.5 170.7L762.5 171.1L760.5 171.5L759.5 171.6L757.5 171.7L755.5 171.7L754.0 171.5L752.5 171.2L750.5 170.6L749.5 170.2L748.1 169.5L746.5 168.5L745.5 167.8L744.5 167.0L743.5 166.1L742.5 165.1L741.5 164.0L740.5 162.9L739.5 161.7L738.5 160.5L737.8 159.5L737.0 158.5L736.3 157.5L735.5 156.2L734.5 154.6L733.9 153.5L733.4 152.5L732.5 150.6L732.0 149.5L731.5 148.1L730.9 146.5L730.5 145.4L729.8 143.5L729.3 142.5L728.5 140.8L727.7 139.5L727.0 138.5L726.1 137.5L725.0 136.5L723.5 135.5L722.5 135.0L721.4 134.5L719.5 133.8L718.5 133.5L716.5 132.9L715.4 132.5L713.5 131.9L712.5 131.5L710.5 130.7L709.5 130.3L707.5 129.5L706.5 129.2L704.6 128.5L703.5 128.1L701.5 127.6L700.5 127.3L698.5 126.9L696.5 126.5L695.5 126.4L693.5 126.1L691.5 125.7L690.0 125.5L688.5 125.2L686.5 124.9L684.7 124.5L683.5 124.3L681.5 123.9L679.5 123.5L678.5 123.4L676.5 123.1L674.5 123.0L672.5 123.1L670.5 123.2L668.9 123.5L667.5 123.8L665.5 124.3L664.5 124.7L662.5 125.4L661.5 125.9L660.1 126.5L658.5 127.4L657.5 128.1L656.5 128.9L655.5 129.9L654.5 131.1L653.7 132.5L653.3 133.5L652.7 135.5L652.5 137.1L652.5 138.5L652.5 139.8L652.7 141.5L653.1 143.5L653.5 144.8L654.2 146.5L654.7 147.5L655.5 148.8L656.5 150.0L657.5 151.1L658.5 152.0L659.5 152.8L660.5 153.6L661.7 154.5L663.1 155.5L664.4 156.5L665.5 157.5L666.5 158.5L667.4 159.5L668.2 160.5L668.9 161.5L669.5 162.6L670.3 164.5L670.6 165.5L671.1 167.5L671.5 169.5L671.6 170.5L671.8 172.5L671.8 174.5L671.8 176.5L671.8 178.5L671.6 180.5L671.5 182.1L671.4 183.5L671.1 185.5L670.9 187.5L670.6 189.5L670.5 190.8L670.3 192.5L670.1 194.5L670.0 196.5L669.8 198.5L669.7 200.5L669.6 202.5L669.5 204.4L669.4 205.5L669.2 207.5L669.0 209.5L668.7 211.5L668.5 212.9L668.1 214.5L667.6 216.5L667.3 217.5L666.7 219.5L666.3 220.5L665.6 222.5L665.2 223.5L664.5 225.5L664.2 226.5L663.5 228.5L663.2 229.5L662.5 231.5L662.2 232.5L661.5 234.5L661.2 235.5L660.5 237.3L660.0 238.5L659.5 239.7L658.6 241.5L658.1 242.5L657.5 243.6L656.5 245.4L655.9 246.5L655.3 247.5L654.5 248.7L653.5 250.3L652.8 251.5L652.2 252.5L651.5 253.8L650.6 255.5L650.2 256.5L649.5 258.2L649.1 259.5L648.6 261.5L648.5 262.5L648.2 264.5L648.1 266.5L648.0 268.5L648.0 270.5L648.0 272.5L648.1 274.5L648.3 276.5L648.5 278.5L648.6 279.5L648.9 281.5L649.1 283.5L649.4 285.5L649.6 286.5L649.9 288.5L650.1 290.5L650.3 292.5L650.5 294.1L650.7 295.5L650.9 297.5L651.1 299.5L651.4 301.5L651.6 302.5L652.1 304.5L652.5 305.9L653.1 307.5L653.6 308.5L654.5 310.2L655.4 311.5L656.2 312.5L657.1 313.5L658.0 314.5L659.0 315.5L660.0 316.5L660.9 317.5L661.9 318.5L662.7 319.5L663.5 320.5L664.5 321.9L665.5 323.5L666.0 324.5L666.6 325.5L667.5 327.5L668.0 328.5L668.5 329.7L669.3 331.5L669.8 332.5L670.5 333.9L671.4 335.5L672.1 336.5L672.8 337.5L673.5 338.5L674.5 339.6L675.5 340.7L676.5 341.7L677.5 342.6L678.7 343.5L680.1 344.5L681.5 345.3L682.5 345.9L683.8 346.5L685.5 347.2L686.5 347.5L688.5 348.2L689.7 348.5L691.5 349.0L693.5 349.5L694.5 349.7L696.5 350.3L697.5 350.5L699.5 351.1L701.1 351.5L702.5 351.9L704.5 352.4L705.5 352.6L707.5 353.0L709.5 353.4L710.5 353.5L712.5 353.8L714.5 353.9L716.5 354.1L718.5 354.2L720.5 354.3L722.5 354.3L724.5 354.4L726.5 354.4L728.2 354.5L729.5 354.5L731.5 354.6L733.5 354.7L735.5 354.8L737.5 355.0L739.5 355.1L741.5 355.2L743.5 355.3L745.5 355.4L747.5 355.5L749.5 355.5L751.5 355.4L753.5 355.4L755.5 355.2L757.5 355.0L759.5 354.7L760.6 354.5L760.6 354.5M805.5 247.6L803.5 247.5L802.5 246.9L801.5 245.5L801.3 244.5L801.5 242.9L802.3 241.5L803.5 240.5L804.5 240.2L806.1 240.5L807.4 241.5L807.9 242.5L808.1 244.5L807.5 246.0L806.5 247.1L805.5 247.6L805.5 247.6M833.2 369.5L834.5 368.9L835.5 368.2L836.5 367.4L837.5 366.3L838.5 364.8L839.1 363.5L839.5 362.1L839.7 360.5L839.6 358.5L839.4 357.5L838.5 355.7L837.6 354.5L836.5 353.6L835.5 353.0L833.9 352.5L832.5 352.3L830.5 352.3L829.5 352.5L827.5 353.2L826.5 353.7L825.4 354.5L824.3 355.5L823.5 356.5L822.5 358.2L822.0 359.5L821.7 361.5L821.8 363.5L822.4 365.5L822.9 366.5L823.7 367.5L824.8 368.5L826.5 369.5L827.5 369.8L829.5 370.1L831.5 370.0L833.2 369.5L833.2 369.5M796.6 76.5L797.2 78.5L797.6 79.5L798.5 81.5L799.1 82.5L799.9 83.5L800.7 84.5L801.8 85.5L803.1 86.5L804.5 87.4L805.5 87.9L806.8 88.5L808.5 89.1L810.0 89.5L811.5 89.8L813.5 90.2L815.5 90.5L816.5 90.6L818.5 90.9L820.5 91.2L821.8 91.5L823.5 91.9L825.0 92.5L826.5 93.3L827.5 94.0L828.5 95.1L829.4 96.5L829.9 97.5L830.5 99.5L830.7 100.5L831.0 102.5L831.2 104.5L831.3 106.5L831.3 108.5L831.3 110.5L831.2 112.5L831.1 114.5L830.8 116.5L830.5 118.1L830.2 119.5L829.5 121.4L829.0 122.5L828.5 123.5L827.5 125.1L826.5 126.4L825.6 127.5L824.7 128.5L823.8 129.5L822.8 130.5L821.8 131.5L820.8 132.5L819.8 133.5L818.8 134.5L817.8 135.5L816.8 136.5L815.8 137.5L814.7 138.5L813.6 139.5L812.5 140.5L811.5 141.4L810.5 142.2L809.5 143.0L808.5 143.8L807.5 144.5L806.0 145.5L804.5 146.5L803.5 147.1L802.5 147.7L801.2 148.5L799.5 149.5L798.5 150.0L797.5 150.6L795.6 151.5L794.5 152.0L793.4 152.5L791.5 153.3L790.5 153.6L788.5 154.2L787.5 154.5L785.5 155.0L783.5 155.4L782.5 155.5L780.5 155.8L778.5 155.9L776.5 156.0L774.5 156.1L772.5 156.0L770.5 155.8L768.7 155.5L767.5 155.3L765.5 154.8L764.2 154.5L762.5 154.0L760.6 153.5L759.5 153.2L757.5 152.6L756.5 152.3L754.5 151.7L753.5 151.3L751.5 150.6L750.5 150.1L749.3 149.5L747.7 148.5L746.5 147.6L745.5 146.6L744.5 145.5L743.7 144.5L742.9 143.5L742.2 142.5L741.5 141.4L740.5 139.9L739.6 138.5L739.0 137.5L738.3 136.5L737.5 135.3L736.5 133.8L735.5 132.5L734.8 131.5L733.9 130.5L733.1 129.5L732.1 128.5L731.0 127.5L729.8 126.5L728.5 125.7L727.5 125.1L726.2 124.5L724.5 123.9L723.1 123.5L721.5 123.1L719.5 122.7L718.4 122.5L716.5 122.1L714.5 121.8L713.3 121.5L711.5 121.0L709.8 120.5L708.5 120.1L707.0 119.5L705.5 118.8L704.5 118.4L702.7 117.5L701.5 116.9L700.5 116.4L698.7 115.5L697.5 114.9L696.5 114.4L694.5 113.6L693.5 113.1L691.8 112.5L690.5 112.0L688.9 111.5L687.5 111.0L685.6 110.5L684.5 110.2L682.5 109.7L681.3 109.5L679.5 109.2L677.5 109.0L675.5 108.9L673.5 109.0L671.5 109.2L669.5 109.5L668.5 109.7L666.5 110.1L664.8 110.5L663.5 110.8L661.5 111.4L660.5 111.7L658.5 112.3L657.5 112.7L655.5 113.4L654.5 113.8L652.8 114.5L651.5 115.1L650.5 115.6L649.0 116.5L647.5 117.5L646.5 118.3L645.5 119.3L644.5 120.4L643.7 121.5L643.1 122.5L642.5 123.7L641.8 125.5L641.5 126.5L641.0 128.5L640.6 130.5L640.5 131.5L640.3 133.5L640.1 135.5L640.0 137.5L640.0 139.5L639.9 141.5L639.9 143.5L639.9 145.5L639.9 147.5L640.0 149.5L640.0 151.5L640.1 153.5L640.3 155.5L640.5 157.1L640.7 158.5L641.3 160.5L641.7 161.5L642.5 162.8L643.5 164.1L644.5 165.2L645.5 166.1L646.5 167.0L647.5 167.9L648.5 168.8L649.5 169.7L650.5 170.7L651.5 171.7L652.5 172.9L653.5 174.3L654.3 175.5L654.9 176.5L655.5 177.7L656.2 179.5L656.6 180.5L657.1 182.5L657.4 184.5L657.5 186.5L657.5 188.5L657.4 190.5L657.2 192.5L657.2 194.5L657.1 196.5L657.2 198.5L657.3 200.5L657.3 202.5L657.3 204.5L657.2 206.5L656.9 208.5L656.5 210.5L656.3 211.5L655.7 213.5L655.4 214.5L654.9 216.5L654.5 218.4L654.3 219.5L654.0 221.5L653.6 223.5L653.4 224.5L653.0 226.5L652.6 228.5L652.3 229.5L651.7 231.5L651.4 232.5L650.7 234.5L650.3 235.5L649.6 237.5L649.3 238.5L648.6 240.5L648.2 241.5L647.5 243.4L647.0 244.5L646.5 245.7L645.6 247.5L645.0 248.5L644.4 249.5L643.5 250.8L642.5 252.3L641.6 253.5L640.9 254.5L640.2 255.5L639.5 256.7L638.5 258.5L638.1 259.5L637.5 261.3L637.2 262.5L636.8 264.5L636.6 266.5L636.5 267.6L636.4 269.5L636.3 271.5L636.2 273.5L636.1 275.5L636.0 277.5L635.9 279.5L635.8 281.5L635.7 283.5L635.6 285.5L635.5 287.2L635.4 288.5L635.3 290.5L635.2 292.5L635.1 294.5L635.0 296.5L634.8 298.5L634.5 300.5L634.4 301.5L634.0 303.5L633.5 305.3L633.1 306.5L632.5 307.9L631.6 309.5L630.9 310.5L630.1 311.5L629.2 312.5L628.3 313.5L627.2 314.5L626.2 315.5L625.3 316.5L624.5 317.5L623.5 318.9L622.7 320.5L622.3 321.5L621.8 323.5L621.5 325.5L621.6 327.5L621.9 329.5L622.5 331.3L623.1 332.5L623.7 333.5L624.5 334.5L625.5 335.6L626.6 336.5L627.9 337.5L629.4 338.5L630.5 339.2L631.5 339.8L632.5 340.5L633.9 341.5L635.2 342.5L636.4 343.5L637.4 344.5L638.4 345.5L639.2 346.5L640.0 347.5L640.7 348.5L641.5 349.9L642.3 351.5L642.8 352.5L643.5 354.3L644.0 355.5L644.5 357.0L645.1 358.5L645.5 359.6L646.4 361.5L647.0 362.5L647.6 363.5L648.5 364.6L649.5 365.5L650.8 366.5L652.5 367.5L653.5 367.9L655.1 368.5L656.5 368.9L658.5 369.4L659.5 369.6L661.5 369.9L663.5 370.3L664.6 370.5L666.5 370.9L668.5 371.3L669.5 371.5L671.5 371.9L673.5 372.4L674.5 372.6L676.5 373.0L678.5 373.3L680.0 373.5L681.5 373.7L683.5 373.9L685.5 374.0L687.5 374.1L689.5 374.2L691.5 374.3L693.5 374.4L695.5 374.5L696.6 374.5L698.5 374.6L700.5 374.7L702.5 374.8L704.5 374.9L706.5 375.0L708.5 375.1L710.5 375.3L712.5 375.3L714.5 375.4L716.4 375.5L717.5 375.5L719.5 375.6L721.5 375.7L723.5 375.8L725.5 375.9L727.5 376.0L729.5 376.1L731.5 376.3L733.2 376.5L734.5 376.6L736.5 376.9L738.5 377.1L740.5 377.3L742.2 377.5L743.5 377.6L745.5 377.8L747.5 377.9L749.5 378.0L751.5 378.1L753.5 378.1L755.5 378.2L757.5 378.3L759.5 378.3L761.5 378.4L763.3 378.5L764.5 378.6L766.5 378.7L768.5 378.8L770.5 379.0L772.5 379.1L774.5 379.2L776.5 379.3L778.5 379.3L780.5 379.3L782.5 379.3L784.5 379.2L786.5 379.1L788.5 378.9L790.5 378.7L792.0 378.5L793.5 378.3L795.5 377.9L797.0 377.5L798.5 377.1L800.5 376.6L801.5 376.3L803.5 375.7L804.5 375.5L806.5 375.0L808.5 374.5L809.5 374.3L811.5 374.0L813.5 373.7L815.5 373.6L817.5 373.6L819.5 373.9L821.5 374.3L822.5 374.5L824.5 374.9L826.5 375.1L828.5 375.2L830.5 375.1L832.5 374.8L833.8 374.5L835.5 374.1L837.2 373.5L838.5 373.0L839.8 372.5L841.5 371.8L842.5 371.4L844.4 370.5L845.5 370.0L846.5 369.5L848.2 368.5L849.5 367.7L850.5 367.1L851.5 366.5L853.1 365.5L854.5 364.7L855.5 364.1L856.6 363.5L858.5 362.5L859.5 362.1L861.0 361.5L862.5 361.0L864.5 360.6L865.5 360.4L867.5 360.2L869.5 360.2L871.5 360.4L872.6 360.5L874.5 360.7L876.5 361.1L878.5 361.3L879.9 361.5L881.5 361.6L882.7 361.5M919.5 239.3L917.5 238.9L915.5 238.5L914.5 238.3L912.5 237.9L911.2 237.5L909.5 237.0L908.1 236.5L906.5 235.8L905.5 235.4L903.9 234.5L902.5 233.6L901.5 232.9L900.5 232.1L899.5 231.3L898.5 230.3L897.5 229.3L896.5 228.3L895.5 227.1L894.5 225.9L893.5 224.7L892.6 223.5L891.9 222.5L891.2 221.5L890.5 220.5L889.5 218.9L888.6 217.5L888.0 216.5L887.5 215.5L886.5 213.6L886.0 212.5L885.5 211.4L884.7 209.5L884.4 208.5L883.7 206.5L883.4 205.5L882.8 203.5L882.5 202.4L881.9 200.5L881.5 199.1L880.9 197.5L880.5 196.3L879.7 194.5L879.3 193.5L878.5 192.0L877.6 190.5L876.9 189.5L876.1 188.5L875.3 187.5L874.5 186.5L873.5 185.3L872.5 184.0L871.5 182.6L870.8 181.5L870.3 180.5L869.5 178.5L869.2 177.5L868.7 175.5L868.5 174.5L868.1 172.5L867.8 170.5L867.5 168.5L867.4 167.5L867.0 165.5L866.6 163.5L866.3 162.5L865.8 160.5L865.5 159.5L864.9 157.5L864.5 156.3L863.9 154.5L863.5 153.1L863.0 151.5L862.5 149.7L862.2 148.5L861.7 146.5L861.4 145.5L861.0 143.5L860.7 141.5L860.5 140.5L860.2 138.5L860.1 136.5L860.0 134.5L860.0 132.5L860.1 130.5L860.4 128.5L860.5 127.5L860.9 125.5L861.4 123.5L861.7 122.5L862.2 120.5L862.5 119.1L862.8 117.5M552.5 259.1L554.5 259.0L556.5 258.9L558.5 258.8L560.5 258.6L561.6 258.5L563.5 258.2L565.5 257.8L566.7 257.5L568.5 256.9L569.6 256.5L571.5 255.7L572.5 255.1L573.6 254.5L575.1 253.5L576.4 252.5L577.5 251.7L578.5 250.8L579.5 249.9L580.5 248.9L581.5 247.9L582.5 246.8L583.5 245.5L584.3 244.5L585.0 243.5L585.7 242.5L586.5 241.1L587.3 239.5L587.8 238.5L588.5 236.5L588.8 235.5L589.4 233.5L589.6 232.5L590.1 230.5L590.5 228.5L590.7 227.5L591.2 225.5L591.5 224.2L592.0 222.5L592.5 220.7L592.9 219.5L593.5 217.5L593.8 216.5L594.4 214.5L594.6 213.5L595.1 211.5L595.4 209.5L595.5 208.5L595.7 206.5L595.7 204.5L595.7 202.5L595.5 200.5L595.4 199.5L595.0 197.5L594.5 195.8L594.0 194.5L593.5 193.5L592.5 191.9L591.5 190.7L590.5 189.7L589.5 188.8L588.5 188.1L587.5 187.4L585.9 186.5L584.5 185.8L583.5 185.4L581.5 184.6L580.5 184.3L578.5 183.8L576.6 183.5L575.5 183.3L573.5 183.1L571.5 182.9L569.5 182.8L567.5 182.7L565.5 182.7M775.5 396.5L776.5 395.5L776.5 394.3L775.5 393.3L774.2 393.5L773.5 394.5L773.6 395.5L774.5 396.5L775.5 396.5L775.5 396.5M712.8 68.5L712.7 70.5L712.6 72.5L712.5 73.5L712.3 75.5L712.0 77.5L711.5 79.5L711.2 80.5L710.5 82.3L709.8 83.5L709.2 84.5L708.3 85.5L707.2 86.5L705.7 87.5L704.5 88.1L703.5 88.5L701.5 89.1L699.8 89.5L698.5 89.7L696.5 89.9L694.5 90.1L692.5 90.2L690.5 90.3L688.5 90.4L686.5 90.4L684.5 90.4L682.5 90.5L681.3 90.5L679.5 90.6L677.5 90.7L675.5 90.9L673.5 91.1L671.5 91.4L670.5 91.6L668.5 92.0L666.5 92.4L665.5 92.6L663.5 93.0L661.5 93.5L660.5 93.7L658.5 94.1L656.8 94.5L655.5 94.7L653.5 95.1L651.5 95.3L649.8 95.5L648.5 95.6L646.5 95.5L645.5 95.5L643.5 95.2L641.5 94.7L640.5 94.3L638.6 93.5M779.5 145.6L777.5 145.8L775.5 146.0L773.5 146.0L771.5 145.9L769.5 145.6L768.5 145.4L766.5 144.8L765.5 144.4L763.5 143.6L762.5 143.2L761.1 142.5L759.5 141.7L758.5 141.2L757.2 140.5L755.5 139.6L754.5 139.1L753.4 138.5L751.6 137.5L750.5 136.9L749.5 136.3L748.3 135.5L746.9 134.5L745.6 133.5L744.5 132.5L743.5 131.6L742.5 130.5L741.6 129.5L740.7 128.5L740.0 127.5L739.2 126.5L738.5 125.4L737.5 123.9L736.7 122.5L736.1 121.5L735.5 120.2L734.7 118.5L734.3 117.5L733.6 115.5L733.2 114.5L732.7 112.5L732.5 111.0L732.3 109.5L732.2 107.5L732.3 105.5L732.5 104.3L732.9 102.5L733.5 101.0L734.4 99.5L735.1 98.5L736.2 97.5L737.5 96.6L738.5 96.1L740.0 95.5L741.5 95.0L743.5 94.5L744.5 94.3L746.5 94.0L748.5 93.7L750.1 93.5L751.5 93.3L753.5 93.1L755.5 92.9L757.5 92.8L759.5 92.6L761.5 92.5L762.5 92.5L764.5 92.4L766.5 92.4L768.5 92.5L769.5 92.5L771.5 92.6L773.5 92.8L775.5 93.0L777.5 93.2L779.5 93.5L780.5 93.6L782.5 93.9L784.5 94.2L786.2 94.5L787.5 94.7L789.5 95.2L790.5 95.5L792.5 96.1L793.5 96.5L795.5 97.3L796.5 97.8L797.9 98.5L799.5 99.3L800.5 99.9L801.5 100.5L803.2 101.5L804.5 102.4L805.5 103.0L806.5 103.7L807.6 104.5L808.8 105.5L809.9 106.5L810.9 107.5L811.7 108.5L812.5 109.8L813.3 111.5L813.6 112.5L813.9 114.5L814.0 116.5L813.8 118.5L813.5 119.9L813.1 121.5L812.5 123.0L811.8 124.5L811.3 125.5L810.5 126.9L809.5 128.5L808.8 129.5L808.1 130.5L807.3 131.5L806.4 132.5L805.5 133.5L804.5 134.5L803.4 135.5L802.3 136.5L801.0 137.5L799.6 138.5L798.5 139.2L797.5 139.8L796.3 140.5L794.5 141.4L793.5 141.8L791.8 142.5L790.5 142.9L788.7 143.5L787.5 143.8L785.5 144.3L784.5 144.6L782.5 145.0L780.5 145.4L779.5 145.6L779.5 145.6M916.5 217.8L915.4 217.5L913.5 216.8L912.5 216.5L910.5 215.6L909.5 215.1L908.5 214.5L907.1 213.5L905.9 212.5L905.0 211.5L904.3 210.5L903.5 209.2L902.7 207.5L902.3 206.5L901.6 204.5L901.3 203.5L900.6 201.5L900.3 200.5L899.5 198.5L899.1 197.5L898.5 196.1L897.9 194.5L897.4 193.5L896.6 191.5L896.2 190.5L895.5 188.5L895.2 187.5L894.6 185.5L894.4 184.5L894.1 182.5L893.8 180.5L893.7 178.5L893.6 176.5L893.6 174.5L893.7 172.5L893.7 170.5L893.8 168.5L893.8 166.5L893.8 164.5L893.7 162.5L893.6 160.5L893.5 158.7L893.4 157.5L893.2 155.5L893.0 153.5M614.5 141.6L612.5 141.5L611.5 141.0L610.5 140.0L609.6 138.5L609.3 137.5L609.1 135.5L609.5 133.8L610.2 132.5L611.4 131.5L612.5 131.1L614.5 131.3L615.5 131.8L616.5 132.6L617.5 134.1L618.0 135.5L618.0 137.5L617.5 139.1L616.5 140.5L615.5 141.2L614.5 141.6L614.5 141.6M633.5 238.6L631.5 238.9L630.1 238.5L628.6 237.5L627.7 236.5L626.9 235.5L626.3 234.5L625.5 232.8L625.0 231.5L624.5 230.3L623.9 228.5L623.5 227.0L623.1 225.5L622.7 223.5L622.5 222.5L622.1 220.5L621.8 218.5L621.5 216.8L621.3 215.5L621.0 213.5L620.7 211.5L620.5 209.6L620.4 208.5L620.4 206.5L620.5 204.9L620.7 203.5L621.0 201.5L621.5 199.9L622.1 198.5L622.6 197.5L623.5 195.9L624.5 194.5L625.2 193.5L626.0 192.5L626.7 191.5L627.5 190.3L628.5 188.8L629.3 187.5L629.9 186.5L630.6 185.5L631.5 184.3L632.5 183.1L633.5 182.1L634.5 181.3L635.8 180.5L637.5 179.9L639.5 179.7L641.5 180.2L642.5 180.7L643.5 181.5L644.5 182.6L645.5 184.5L645.8 185.5L646.2 187.5L646.2 189.5L646.2 191.5L646.3 193.5L646.5 195.5L646.6 196.5L647.0 198.5L647.3 200.5L647.5 201.6L647.7 203.5L647.7 205.5L647.5 207.5L647.3 208.5L646.9 210.5L646.5 211.8L646.0 213.5L645.5 215.3L645.2 216.5L644.8 218.5L644.6 220.5L644.5 221.5L644.2 223.5L643.7 225.5L643.4 226.5L642.6 228.5L642.1 229.5L641.5 230.7L640.5 232.3L639.6 233.5L638.7 234.5L637.8 235.5L636.8 236.5L635.6 237.5L634.5 238.2L633.5 238.6L633.5 238.6M565.5 319.3L566.5 319.6L568.5 320.3L569.5 320.7L570.7 321.5L571.9 322.5L572.8 323.5L573.6 324.5L574.5 326.0L575.4 327.5L575.9 328.5L576.6 329.5L577.5 330.9L578.5 332.1L579.5 333.2L580.5 334.1L581.5 334.9L582.5 335.6L584.0 336.5L585.5 337.2L586.5 337.7L588.5 338.5L589.5 338.8L591.3 339.5L592.5 339.9L594.0 340.5L595.5 341.1L596.5 341.5L598.5 342.5L599.5 343.1L600.5 343.7L601.7 344.5L602.9 345.5L604.1 346.5L605.0 347.5L605.9 348.5L606.7 349.5L607.5 350.6L608.5 352.1L609.3 353.5L609.8 354.5L610.5 355.8L611.3 357.5L611.8 358.5L612.5 360.0L613.2 361.5L613.7 362.5L614.5 364.2L615.1 365.5L615.6 366.5L616.5 368.3L617.1 369.5L617.6 370.5L618.5 372.3L619.1 373.5L619.5 374.5L620.5 376.5L620.9 377.5L621.5 379.0L622.1 380.5L622.5 382.0L622.9 383.5L623.3 385.5L623.5 386.9L623.7 388.5L623.7 390.5L623.7 392.5L623.6 394.5L623.5 396.5M824.7 411.5L824.3 410.5L823.7 408.5L823.5 406.9L823.4 405.5L823.5 404.0L823.7 402.5L824.2 400.5L824.5 399.4L825.2 397.5L825.6 396.5L826.5 394.7L827.2 393.5L827.8 392.5L828.5 391.4L829.5 390.1L830.5 389.0L831.5 388.1L832.5 387.3L833.7 386.5L835.5 385.6L836.5 385.2L838.5 384.6L839.5 384.3L841.5 383.8L842.6 383.5L844.5 382.9L845.6 382.5L847.5 381.6L848.5 381.0L849.5 380.3L850.6 379.5L851.9 378.5L853.1 377.5L854.4 376.5L855.5 375.7L856.5 375.0L857.5 374.3L859.0 373.5L860.5 372.9L861.5 372.5L863.5 372.0L865.5 371.8L867.5 371.9L869.5 372.2L871.0 372.5L872.5 372.9M775.5 137.6L773.5 137.8L771.5 137.9L769.5 137.8L768.0 137.5L766.5 137.1L764.7 136.5L763.5 136.0L762.5 135.5L760.6 134.5L759.5 133.9L758.5 133.2L757.4 132.5L755.9 131.5L754.5 130.5L753.5 129.7L752.5 128.9L751.5 128.0L750.5 127.1L749.5 126.0L748.5 124.8L747.6 123.5L747.0 122.5L746.5 121.3L746.0 119.5L745.7 117.5L745.9 115.5L746.4 113.5L746.8 112.5L747.5 111.3L748.5 109.9L749.5 108.8L750.5 107.9L751.5 107.2L752.5 106.5L754.2 105.5L755.5 104.9L756.5 104.4L758.5 103.6L759.5 103.3L761.5 102.7L762.5 102.4L764.5 102.1L766.5 101.8L768.5 101.7L770.5 101.8L772.5 102.0L774.5 102.3L775.6 102.5L777.5 103.0L779.5 103.5L780.5 103.8L782.5 104.4L783.5 104.7L785.5 105.4L786.5 105.8L788.1 106.5L789.5 107.2L790.5 107.8L791.6 108.5L792.9 109.5L793.9 110.5L794.8 111.5L795.5 112.5L796.5 114.3L797.0 115.5L797.5 117.2L797.7 118.5L797.8 120.5L797.5 122.4L797.2 123.5L796.5 125.2L795.8 126.5L795.1 127.5L794.2 128.5L793.2 129.5L792.0 130.5L790.6 131.5L789.5 132.2L788.5 132.7L786.9 133.5L785.5 134.2L784.5 134.6L782.5 135.4L781.5 135.8L779.6 136.5L778.5 136.8L776.5 137.4L775.5 137.6L775.5 137.6"/></g>
<g fill="none" stroke="#163020" stroke-opacity="0.85" stroke-width="1.1"><circle cx="683.5" cy="84.0" r="1.75"/><circle cx="704.9" cy="83.7" r="1.75"/><circle cx="724.8" cy="83.6" r="1.75"/><circle cx="746.1" cy="83.1" r="1.75"/><circle cx="767.6" cy="82.5" r="1.75"/><circle cx="787.8" cy="81.4" r="1.75"/><circle cx="650.9" cy="100.7" r="1.75"/><circle cx="672.0" cy="99.8" r="1.75"/><circle cx="691.7" cy="102.5" r="1.75"/><circle cx="716.1" cy="103.7" r="1.75"/><circle cx="738.0" cy="101.6" r="1.75"/><circle cx="755.6" cy="101.3" r="1.75"/><circle cx="781.3" cy="102.8" r="1.75"/><circle cx="800.6" cy="101.1" r="1.75"/><circle cx="820.8" cy="99.7" r="1.75"/><circle cx="616.3" cy="118.8" r="1.75"/><circle cx="640.4" cy="121.9" r="1.75"/><circle cx="660.2" cy="117.8" r="1.75"/><circle cx="684.3" cy="118.9" r="1.75"/><circle cx="705.2" cy="118.3" r="1.75"/><circle cx="726.4" cy="121.7" r="1.75"/><circle cx="748.1" cy="119.3" r="1.75"/><circle cx="769.6" cy="118.2" r="1.75"/><circle cx="789.0" cy="119.6" r="1.75"/><circle cx="813.3" cy="118.2" r="1.75"/><circle cx="834.9" cy="121.5" r="1.75"/><circle cx="856.8" cy="119.3" r="1.75"/><circle cx="608.9" cy="138.8" r="1.75"/><circle cx="630.1" cy="137.2" r="1.75"/><circle cx="652.5" cy="139.8" r="1.75"/><circle cx="670.9" cy="140.8" r="1.75"/><circle cx="694.2" cy="140.3" r="1.75"/><circle cx="712.4" cy="136.4" r="1.75"/><circle cx="737.4" cy="137.6" r="1.75"/><circle cx="757.8" cy="136.9" r="1.75"/><circle cx="781.6" cy="138.6" r="1.75"/><circle cx="802.3" cy="136.5" r="1.75"/><circle cx="822.1" cy="136.4" r="1.75"/><circle cx="845.6" cy="138.3" r="1.75"/><circle cx="863.0" cy="136.5" r="1.75"/><circle cx="595.2" cy="157.1" r="1.75"/><circle cx="615.5" cy="154.9" r="1.75"/><circle cx="639.3" cy="155.5" r="1.75"/><circle cx="661.8" cy="158.7" r="1.75"/><circle cx="682.8" cy="158.2" r="1.75"/><circle cx="703.4" cy="154.9" r="1.75"/><circle cx="725.1" cy="156.6" r="1.75"/><circle cx="747.4" cy="155.4" r="1.75"/><circle cx="767.1" cy="158.8" r="1.75"/><circle cx="788.8" cy="156.8" r="1.75"/><circle cx="813.6" cy="156.1" r="1.75"/><circle cx="831.2" cy="158.2" r="1.75"/><circle cx="854.8" cy="157.8" r="1.75"/><circle cx="873.7" cy="156.8" r="1.75"/><circle cx="583.4" cy="177.7" r="1.75"/><circle cx="608.1" cy="175.6" r="1.75"/><circle cx="629.6" cy="175.6" r="1.75"/><circle cx="651.6" cy="173.9" r="1.75"/><circle cx="671.7" cy="177.7" r="1.75"/><circle cx="695.3" cy="174.4" r="1.75"/><circle cx="713.5" cy="177.8" r="1.75"/><circle cx="735.4" cy="173.6" r="1.75"/><circle cx="758.8" cy="175.4" r="1.75"/><circle cx="780.4" cy="175.7" r="1.75"/><circle cx="800.7" cy="175.4" r="1.75"/><circle cx="821.2" cy="177.8" r="1.75"/><circle cx="844.5" cy="177.3" r="1.75"/><circle cx="867.2" cy="174.6" r="1.75"/><circle cx="888.8" cy="177.6" r="1.75"/><circle cx="575.8" cy="195.9" r="1.75"/><circle cx="598.9" cy="192.4" r="1.75"/><circle cx="618.6" cy="194.8" r="1.75"/><circle cx="640.2" cy="194.7" r="1.75"/><circle cx="661.2" cy="196.3" r="1.75"/><circle cx="682.2" cy="194.6" r="1.75"/><circle cx="704.9" cy="192.4" r="1.75"/><circle cx="725.1" cy="192.5" r="1.75"/><circle cx="745.1" cy="192.0" r="1.75"/><circle cx="767.0" cy="193.0" r="1.75"/><circle cx="790.0" cy="194.8" r="1.75"/><circle cx="813.1" cy="194.4" r="1.75"/><circle cx="834.9" cy="193.9" r="1.75"/><circle cx="855.7" cy="194.7" r="1.75"/><circle cx="876.6" cy="193.3" r="1.75"/><circle cx="899.6" cy="195.8" r="1.75"/><circle cx="564.5" cy="215.3" r="1.75"/><circle cx="584.9" cy="213.4" r="1.75"/><circle cx="605.0" cy="213.3" r="1.75"/><circle cx="628.3" cy="215.5" r="1.75"/><circle cx="652.4" cy="211.3" r="1.75"/><circle cx="669.4" cy="211.2" r="1.75"/><circle cx="691.7" cy="214.2" r="1.75"/><circle cx="714.9" cy="213.2" r="1.75"/><circle cx="736.0" cy="210.6" r="1.75"/><circle cx="757.2" cy="215.6" r="1.75"/><circle cx="780.8" cy="213.4" r="1.75"/><circle cx="799.2" cy="215.2" r="1.75"/><circle cx="821.8" cy="213.7" r="1.75"/><circle cx="842.2" cy="212.2" r="1.75"/><circle cx="864.4" cy="212.5" r="1.75"/><circle cx="884.3" cy="213.9" r="1.75"/><circle cx="906.5" cy="213.6" r="1.75"/><circle cx="572.5" cy="233.6" r="1.75"/><circle cx="595.4" cy="231.1" r="1.75"/><circle cx="620.3" cy="231.4" r="1.75"/><circle cx="640.5" cy="231.2" r="1.75"/><circle cx="663.0" cy="232.8" r="1.75"/><circle cx="682.4" cy="229.6" r="1.75"/><circle cx="703.3" cy="231.6" r="1.75"/><circle cx="724.4" cy="231.9" r="1.75"/><circle cx="745.5" cy="231.7" r="1.75"/><circle cx="768.6" cy="232.5" r="1.75"/><circle cx="791.2" cy="232.8" r="1.75"/><circle cx="811.1" cy="231.5" r="1.75"/><circle cx="834.8" cy="231.0" r="1.75"/><circle cx="855.6" cy="234.2" r="1.75"/><circle cx="878.1" cy="231.9" r="1.75"/><circle cx="896.5" cy="232.3" r="1.75"/><circle cx="561.8" cy="251.5" r="1.75"/><circle cx="585.0" cy="250.3" r="1.75"/><circle cx="605.0" cy="248.7" r="1.75"/><circle cx="629.7" cy="250.8" r="1.75"/><circle cx="652.0" cy="252.6" r="1.75"/><circle cx="671.0" cy="250.9" r="1.75"/><circle cx="692.9" cy="250.3" r="1.75"/><circle cx="714.2" cy="252.7" r="1.75"/><circle cx="736.8" cy="248.5" r="1.75"/><circle cx="758.7" cy="252.6" r="1.75"/><circle cx="781.2" cy="250.6" r="1.75"/><circle cx="798.3" cy="251.8" r="1.75"/><circle cx="824.4" cy="251.5" r="1.75"/><circle cx="843.3" cy="249.7" r="1.75"/><circle cx="866.4" cy="248.3" r="1.75"/><circle cx="888.1" cy="250.3" r="1.75"/><circle cx="906.1" cy="251.9" r="1.75"/><circle cx="574.6" cy="270.4" r="1.75"/><circle cx="596.4" cy="270.7" r="1.75"/><circle cx="617.3" cy="269.6" r="1.75"/><circle cx="638.0" cy="270.6" r="1.75"/><circle cx="662.6" cy="269.2" r="1.75"/><circle cx="681.6" cy="268.2" r="1.75"/><circle cx="704.4" cy="267.1" r="1.75"/><circle cx="725.5" cy="267.9" r="1.75"/><circle cx="746.2" cy="268.0" r="1.75"/><circle cx="770.1" cy="267.3" r="1.75"/><circle cx="788.6" cy="267.2" r="1.75"/><circle cx="809.0" cy="268.5" r="1.75"/><circle cx="834.7" cy="270.9" r="1.75"/><circle cx="854.4" cy="268.5" r="1.75"/><circle cx="877.8" cy="269.1" r="1.75"/><circle cx="897.7" cy="269.7" r="1.75"/><circle cx="562.0" cy="289.4" r="1.75"/><circle cx="583.3" cy="288.4" r="1.75"/><circle cx="609.2" cy="285.8" r="1.75"/><circle cx="628.8" cy="288.6" r="1.75"/><circle cx="648.6" cy="286.3" r="1.75"/><circle cx="669.5" cy="285.8" r="1.75"/><circle cx="691.3" cy="286.5" r="1.75"/><circle cx="716.0" cy="288.5" r="1.75"/><circle cx="737.5" cy="288.3" r="1.75"/><circle cx="759.2" cy="285.8" r="1.75"/><circle cx="779.5" cy="285.1" r="1.75"/><circle cx="800.7" cy="289.3" r="1.75"/><circle cx="822.1" cy="286.5" r="1.75"/><circle cx="842.6" cy="287.0" r="1.75"/><circle cx="867.3" cy="289.9" r="1.75"/><circle cx="887.9" cy="290.0" r="1.75"/><circle cx="909.5" cy="286.5" r="1.75"/><circle cx="577.3" cy="304.3" r="1.75"/><circle cx="598.9" cy="305.5" r="1.75"/><circle cx="619.5" cy="303.7" r="1.75"/><circle cx="639.2" cy="304.9" r="1.75"/><circle cx="661.9" cy="307.0" r="1.75"/><circle cx="682.3" cy="307.2" r="1.75"/><circle cx="706.3" cy="304.1" r="1.75"/><circle cx="725.8" cy="307.0" r="1.75"/><circle cx="747.6" cy="305.0" r="1.75"/><circle cx="770.3" cy="304.9" r="1.75"/><circle cx="791.7" cy="306.0" r="1.75"/><circle cx="809.7" cy="307.8" r="1.75"/><circle cx="830.8" cy="307.6" r="1.75"/><circle cx="855.0" cy="308.0" r="1.75"/><circle cx="877.5" cy="305.7" r="1.75"/><circle cx="895.6" cy="305.0" r="1.75"/><circle cx="586.9" cy="322.4" r="1.75"/><circle cx="607.8" cy="325.8" r="1.75"/><circle cx="628.7" cy="322.5" r="1.75"/><circle cx="649.0" cy="323.5" r="1.75"/><circle cx="670.5" cy="323.6" r="1.75"/><circle cx="695.6" cy="326.2" r="1.75"/><circle cx="716.7" cy="325.8" r="1.75"/><circle cx="735.4" cy="327.0" r="1.75"/><circle cx="757.6" cy="323.2" r="1.75"/><circle cx="780.3" cy="323.6" r="1.75"/><circle cx="802.3" cy="326.0" r="1.75"/><circle cx="821.2" cy="324.6" r="1.75"/><circle cx="844.8" cy="325.6" r="1.75"/><circle cx="865.3" cy="323.3" r="1.75"/><circle cx="885.8" cy="325.7" r="1.75"/><circle cx="594.5" cy="344.8" r="1.75"/><circle cx="619.7" cy="344.3" r="1.75"/><circle cx="640.7" cy="342.1" r="1.75"/><circle cx="659.0" cy="342.5" r="1.75"/><circle cx="680.6" cy="343.0" r="1.75"/><circle cx="705.3" cy="342.3" r="1.75"/><circle cx="727.2" cy="343.2" r="1.75"/><circle cx="745.3" cy="344.1" r="1.75"/><circle cx="768.1" cy="342.5" r="1.75"/><circle cx="790.0" cy="345.9" r="1.75"/><circle cx="812.7" cy="342.4" r="1.75"/><circle cx="835.1" cy="341.8" r="1.75"/><circle cx="854.0" cy="342.8" r="1.75"/><circle cx="878.4" cy="340.9" r="1.75"/><circle cx="606.9" cy="359.7" r="1.75"/><circle cx="630.8" cy="361.0" r="1.75"/><circle cx="649.1" cy="359.8" r="1.75"/><circle cx="672.8" cy="364.1" r="1.75"/><circle cx="693.0" cy="363.6" r="1.75"/><circle cx="713.8" cy="361.4" r="1.75"/><circle cx="735.2" cy="361.0" r="1.75"/><circle cx="758.0" cy="361.1" r="1.75"/><circle cx="777.0" cy="363.0" r="1.75"/><circle cx="799.7" cy="361.5" r="1.75"/><circle cx="820.6" cy="359.8" r="1.75"/><circle cx="844.5" cy="361.6" r="1.75"/><circle cx="867.4" cy="359.6" r="1.75"/><circle cx="618.3" cy="378.6" r="1.75"/><circle cx="637.3" cy="382.0" r="1.75"/><circle cx="662.0" cy="381.4" r="1.75"/><circle cx="681.1" cy="382.1" r="1.75"/><circle cx="704.3" cy="378.9" r="1.75"/><circle cx="723.8" cy="381.2" r="1.75"/><circle cx="749.3" cy="381.1" r="1.75"/><circle cx="767.4" cy="381.7" r="1.75"/><circle cx="788.5" cy="381.3" r="1.75"/><circle cx="811.0" cy="378.3" r="1.75"/><circle cx="833.0" cy="380.7" r="1.75"/><circle cx="856.5" cy="381.7" r="1.75"/><circle cx="650.9" cy="401.4" r="1.75"/><circle cx="669.4" cy="399.3" r="1.75"/><circle cx="694.4" cy="400.1" r="1.75"/><circle cx="716.5" cy="400.0" r="1.75"/><circle cx="736.9" cy="399.8" r="1.75"/><circle cx="756.0" cy="401.0" r="1.75"/><circle cx="779.3" cy="396.9" r="1.75"/><circle cx="802.3" cy="400.2" r="1.75"/><circle cx="823.0" cy="397.0" r="1.75"/><circle cx="682.5" cy="416.6" r="1.75"/><circle cx="706.3" cy="420.4" r="1.75"/><circle cx="724.4" cy="418.4" r="1.75"/><circle cx="748.9" cy="418.3" r="1.75"/><circle cx="767.7" cy="419.6" r="1.75"/><circle cx="790.1" cy="418.5" r="1.75"/><circle cx="592.8" cy="122.0" r="1.75"/><circle cx="880.9" cy="122.0" r="1.75"/></g>
<g fill="none" stroke="#000" stroke-width="2.7" stroke-linejoin="round"><circle cx="736.2" cy="250.3" r="185.8"/><path d="M769.6 66.2L743.6 38.5L736.2 36.6L728.8 38.5L702.8 66.2"/><path d="M920.9 229.7L925.7 221.5L928.7 221.2L933.1 222.6L937.6 229.7L936.9 252.3L939.5 284.9L933.9 299.1L925.7 301.7L917.9 294.9"/><path d="M551.5 229.7L546.7 221.5L543.7 221.2L539.3 222.6L534.8 229.7L535.5 252.3L532.9 284.9L538.5 299.1L546.7 301.7L554.5 294.9"/></g>
<rect x="449.5" y="433.99" width="29.5" height="6.61" fill="#00008f"/>
<rect x="449.5" y="427.68" width="29.5" height="6.61" fill="#00009f"/>
<rect x="449.5" y="421.36" width="29.5" height="6.61" fill="#0000af"/>
<rect x="449.5" y="415.05" width="29.5" height="6.61" fill="#0000bf"/>
<rect x="449.5" y="408.74" width="29.5" height="6.61" fill="#0000cf"/>
<rect x="449.5" y="402.43" width="29.5" height="6.61" fill="#0000df"/>
<rect x="449.5" y="396.11" width="29.5" height="6.61" fill="#0000ef"/>
<rect x="449.5" y="389.80" width="29.5" height="6.61" fill="#0000ff"/>
<rect x="449.5" y="383.49" width="29.5" height="6.61" fill="#0010ff"/>
<rect x="449.5" y="377.18" width="29.5" height="6.61" fill="#0020ff"/>
<rect x="449.5" y="370.86" width="29.5" height="6.61" fill="#0030ff"/>
<rect x="449.5" y="364.55" width="29.5" height="6.61" fill="#0040ff"/>
<rect x="449.5" y="358.24" width="29.5" height="6.61" fill="#0050ff"/>
<rect x="449.5" y="351.93" width="29.5" height="6.61" fill="#0060ff"/>
<rect x="449.5" y="345.61" width="29.5" height="6.61" fill="#0070ff"/>
<rect x="449.5" y="339.30" width="29.5" height="6.61" fill="#0080ff"/>
<rect x="449.5" y="332.99" width="29.5" height="6.61" fill="#008fff"/>
<rect x="449.5" y="326.68" width="29.5" height="6.61" fill="#009fff"/>
<rect x="449.5" y="320.36" width="29.5" height="6.61" fill="#00afff"/>
<rect x="449.5" y="314.05" width="29.5" height="6.61" fill="#00bfff"/>
<rect x="449.5" y="307.74" width="29.5" height="6.61" fill="#00cfff"/>
<rect x="449.5" y="301.43" width="29.5" height="6.61" fill="#00dfff"/>
<rect x="449.5" y="295.11" width="29.5" height="6.61" fill="#00efff"/>
<rect x="449.5" y="288.80" width="29.5" height="6.61" fill="#00ffff"/>
<rect x="449.5" y="282.49" width="29.5" height="6.61" fill="#10ffef"/>
<rect x="449.5" y="276.18" width="29.5" height="6.61" fill="#20ffdf"/>
<rect x="449.5" y="269.86" width="29.5" height="6.61" fill="#30ffcf"/>
<rect x="449.5" y="263.55" width="29.5" height="6.61" fill="#40ffbf"/>
<rect x="449.5" y="257.24" width="29.5" height="6.61" fill="#50ffaf"/>
<rect x="449.5" y="250.93" width="29.5" height="6.61" fill="#60ff9f"/>
<rect x="449.5" y="244.61" width="29.5" height="6.61" fill="#70ff8f"/>
<rect x="449.5" y="238.30" width="29.5" height="6.61" fill="#80ff80"/>
<rect x="449.5" y="231.99" width="29.5" height="6.61" fill="#8fff70"/>
<rect x="449.5" y="225.68" width="29.5" height="6.61" fill="#9fff60"/>
<rect x="449.5" y="219.36" width="29.5" height="6.61" fill="#afff50"/>
<rect x="449.5" y="213.05" width="29.5" height="6.61" fill="#bfff40"/>
<rect x="449.5" y="206.74" width="29.5" height="6.61" fill="#cfff30"/>
<rect x="449.5" y="200.43" width="29.5" height="6.61" fill="#dfff20"/>
<rect x="449.5" y="194.11" width="29.5" height="6.61" fill="#efff10"/>
<rect x="449.5" y="187.80" width="29.5" height="6.61" fill="#ffff00"/>
<rect x="449.5" y="181.49" width="29.5" height="6.61" fill="#ffef00"/>
<rect x="449.5" y="175.18" width="29.5" height="6.61" fill="#ffdf00"/>
<rect x="449.5" y="168.86" width="29.5" height="6.61" fill="#ffcf00"/>
<rect x="449.5" y="162.55" width="29.5" height="6.61" fill="#ffbf00"/>
<rect x="449.5" y="156.24" width="29.5" height="6.61" fill="#ffaf00"/>
<rect x="449.5" y="149.93" width="29.5" height="6.61" fill="#ff9f00"/>
<rect x="449.5" y="143.61" width="29.5" height="6.61" fill="#ff8f00"/>
<rect x="449.5" y="137.30" width="29.5" height="6.61" fill="#ff8000"/>
<rect x="449.5" y="130.99" width="29.5" height="6.61" fill="#ff7000"/>
<rect x="449.5" y="124.68" width="29.5" height="6.61" fill="#ff6000"/>
<rect x="449.5" y="118.36" width="29.5" height="6.61" fill="#ff5000"/>
<rect x="449.5" y="112.05" width="29.5" height="6.61" fill="#ff4000"/>
<rect x="449.5" y="105.74" width="29.5" height="6.61" fill="#ff3000"/>
<rect x="449.5" y="99.43" width="29.5" height="6.61" fill="#ff2000"/>
<rect x="449.5" y="93.11" width="29.5" height="6.61" fill="#ff1000"/>
<rect x="449.5" y="86.80" width="29.5" height="6.61" fill="#ff0000"/>
<rect x="449.5" y="80.49" width="29.5" height="6.61" fill="#ef0000"/>
<rect x="449.5" y="74.18" width="29.5" height="6.61" fill="#df0000"/>
<rect x="449.5" y="67.86" width="29.5" height="6.61" fill="#cf0000"/>
<rect x="449.5" y="61.55" width="29.5" height="6.61" fill="#bf0000"/>
<rect x="449.5" y="55.24" width="29.5" height="6.61" fill="#af0000"/>
<rect x="449.5" y="48.93" width="29.5" height="6.61" fill="#9f0000"/>
<rect x="449.5" y="42.61" width="29.5" height="6.61" fill="#8f0000"/>
<rect x="449.5" y="36.30" width="29.5" height="6.61" fill="#800000"/>
<rect x="449.5" y="36.3" width="29.5" height="404.0" fill="none" stroke="#555" stroke-width="0.8"/>
<path stroke="#444" stroke-width="1" d="M449.5 36.3h4M479.0 36.3h-4M449.5 86.8h4M479.0 86.8h-4M449.5 137.3h4M479.0 137.3h-4M449.5 187.8h4M479.0 187.8h-4M449.5 238.3h4M479.0 238.3h-4M449.5 288.8h4M479.0 288.8h-4M449.5 339.3h4M479.0 339.3h-4M449.5 389.8h4M479.0 389.8h-4M449.5 440.3h4M479.0 440.3h-4"/>
<text x="486.6" y="41.8" class="cb">0.2</text>
<text x="484.2" y="142.9" class="cb">0.1</text>
<text x="484.9" y="243.8" class="cb">0</text>
<text x="487.2" y="345.2" class="cb">-0.1</text>
<text x="483.5" y="443.2" class="cb">-0.2</text>
</svg>
</body></html>
